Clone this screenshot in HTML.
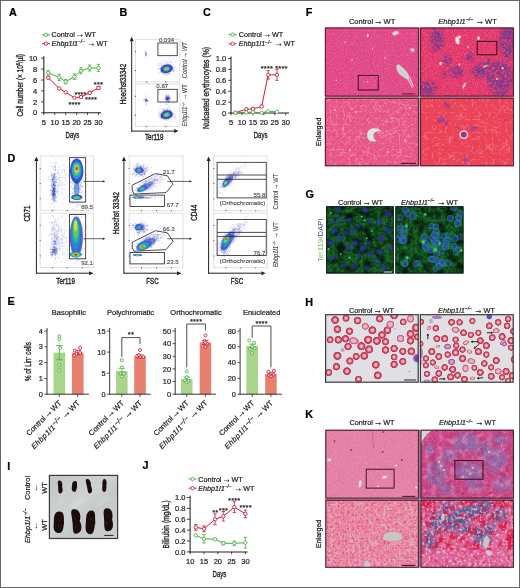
<!DOCTYPE html>
<html><head><meta charset="utf-8"><title>Figure</title>
<style>
html,body{margin:0;padding:0;background:#fff;}
svg{display:block;font-family:"Liberation Sans",sans-serif;}
</style></head><body>
<svg width="520" height="588" viewBox="0 0 520 588">
<defs>
<filter id="b3" x="-30%" y="-30%" width="160%" height="160%"><feGaussianBlur stdDeviation="0.35"/></filter>
<filter id="b6" x="-30%" y="-30%" width="160%" height="160%"><feGaussianBlur stdDeviation="0.7"/></filter>
<linearGradient id="ibg" x1="0" y1="0" x2="1" y2="1"><stop offset="0" stop-color="#c2c5c5"/><stop offset="0.45" stop-color="#cfd2d2"/><stop offset="0.6" stop-color="#c4c8c8"/><stop offset="1" stop-color="#cdd0d0"/></linearGradient>
<filter id="ib" x="-20%" y="-20%" width="140%" height="140%"><feGaussianBlur stdDeviation="0.45"/></filter>
<filter id="rough" x="-10%" y="-10%" width="120%" height="120%"><feTurbulence type="fractalNoise" baseFrequency="0.3" numOctaves="2" seed="2" result="n"/><feDisplacementMap in="SourceGraphic" in2="n" scale="6" xChannelSelector="R" yChannelSelector="G"/><feGaussianBlur stdDeviation="0.7"/></filter>
<filter id="fblur" x="-5%" y="-5%" width="110%" height="110%"><feGaussianBlur stdDeviation="0.4"/></filter>
<filter id="gblur" x="-5%" y="-5%" width="110%" height="110%"><feGaussianBlur stdDeviation="0.55"/></filter>
<filter id="ib2" x="-30%" y="-30%" width="160%" height="160%"><feGaussianBlur stdDeviation="1.6"/></filter>
<filter id="tA" x="0" y="0" width="100%" height="100%" color-interpolation-filters="sRGB"><feTurbulence type="fractalNoise" baseFrequency="1.1" numOctaves="2" seed="3"/><feColorMatrix type="matrix" values="0 0 0 0 1.000  0 0 0 0 0.816  0 0 0 0 0.902  2.6 0 0 0 -1.25"/><feComposite in2="SourceGraphic" operator="in"/></filter>
<filter id="tB" x="0" y="0" width="100%" height="100%" color-interpolation-filters="sRGB"><feTurbulence type="fractalNoise" baseFrequency="1.1" numOctaves="2" seed="9"/><feColorMatrix type="matrix" values="0 0 0 0 0.541  0 0 0 0 0.063  0 0 0 0 0.282  2.4 0 0 0 -1.2"/><feComposite in2="SourceGraphic" operator="in"/></filter>
<filter id="tC" x="0" y="0" width="100%" height="100%" color-interpolation-filters="sRGB"><feTurbulence type="fractalNoise" baseFrequency="0.45" numOctaves="2" seed="5"/><feColorMatrix type="matrix" values="0 0 0 0 1.000  0 0 0 0 0.769  0 0 0 0 0.863  3.2 0 0 0 -1.45"/><feComposite in2="SourceGraphic" operator="in"/></filter>
<filter id="tD" x="0" y="0" width="100%" height="100%" color-interpolation-filters="sRGB"><feTurbulence type="fractalNoise" baseFrequency="0.55" numOctaves="2" seed="21"/><feColorMatrix type="matrix" values="0 0 0 0 0.690  0 0 0 0 0.094  0 0 0 0 0.314  3.0 0 0 0 -1.5"/><feComposite in2="SourceGraphic" operator="in"/></filter>
<clipPath id="cF1"><rect x="324.90" y="27.60" width="93.90" height="68.90"/></clipPath>
<clipPath id="cF2"><rect x="420.20" y="27.60" width="93.60" height="68.90"/></clipPath>
<filter id="fP" x="-15%" y="-15%" width="130%" height="130%" color-interpolation-filters="sRGB"><feTurbulence type="fractalNoise" baseFrequency="0.4" numOctaves="2" seed="7"/><feColorMatrix type="matrix" values="0 0 0 0 0.416  0 0 0 0 0.235  0 0 0 0 0.573  3.6 0 0 0 -1.2" result="n1"/><feGaussianBlur in="SourceGraphic" stdDeviation="1.8" result="m"/><feComposite in="n1" in2="m" operator="in"/></filter>
<clipPath id="cF3"><rect x="324.90" y="97.80" width="93.90" height="68.40"/></clipPath>
<filter id="tV" x="0" y="0" width="100%" height="100%" color-interpolation-filters="sRGB"><feTurbulence type="turbulence" baseFrequency="0.16" numOctaves="2" seed="5"/><feColorMatrix type="matrix" values="0 0 0 0 0.976  0 0 0 0 0.722  0 0 0 0 0.816  -7 0 0 0 1.25"/><feComposite in2="SourceGraphic" operator="in"/></filter>
<clipPath id="cF4"><rect x="420.20" y="97.80" width="93.60" height="68.40"/></clipPath>
<filter id="tE" x="0" y="0" width="100%" height="100%" color-interpolation-filters="sRGB"><feTurbulence type="fractalNoise" baseFrequency="0.4" numOctaves="2" seed="8"/><feColorMatrix type="matrix" values="0 0 0 0 1.000  0 0 0 0 0.604  0 0 0 0 0.706  3.4 0 0 0 -1.55"/><feComposite in2="SourceGraphic" operator="in"/></filter>
<filter id="tW" x="0" y="0" width="100%" height="100%" color-interpolation-filters="sRGB"><feTurbulence type="turbulence" baseFrequency="0.15" numOctaves="2" seed="15"/><feColorMatrix type="matrix" values="0 0 0 0 0.973  0 0 0 0 0.643  0 0 0 0 0.682  -7 0 0 0 1.2"/><feComposite in2="SourceGraphic" operator="in"/></filter>
<filter id="gA" x="0" y="0" width="100%" height="100%" color-interpolation-filters="sRGB"><feTurbulence type="fractalNoise" baseFrequency="0.11" numOctaves="2" seed="4"/><feColorMatrix type="matrix" values="0 0 0 0 0.016  0 0 0 0 0.078  0 0 0 0 0.039  3.4 0 0 0 -1.45"/><feComposite in2="SourceGraphic" operator="in"/></filter>
<filter id="gB" x="0" y="0" width="100%" height="100%" color-interpolation-filters="sRGB"><feTurbulence type="fractalNoise" baseFrequency="0.3" numOctaves="2" seed="14"/><feColorMatrix type="matrix" values="0 0 0 0 0.173  0 0 0 0 0.604  0 0 0 0 0.212  3.0 0 0 0 -1.3"/><feComposite in2="SourceGraphic" operator="in"/></filter>
<filter id="gC" x="0" y="0" width="100%" height="100%" color-interpolation-filters="sRGB"><feTurbulence type="fractalNoise" baseFrequency="0.9" numOctaves="1" seed="2"/><feColorMatrix type="matrix" values="0 0 0 0 0.039  0 0 0 0 0.227  0 0 0 0 0.094  2.0 0 0 0 -0.8"/><feComposite in2="SourceGraphic" operator="in"/></filter>
<radialGradient id="nuc"><stop offset="0" stop-color="#3030c0"/><stop offset="0.5" stop-color="#2a32a8"/><stop offset="1" stop-color="#1c4070" stop-opacity="0"/></radialGradient>
<radialGradient id="nuc2"><stop offset="0" stop-color="#2a3cb0"/><stop offset="0.5" stop-color="#2a4cb0"/><stop offset="0.78" stop-color="#2a8898"/><stop offset="1" stop-color="#2a9080" stop-opacity="0"/></radialGradient>
<radialGradient id="gsp"><stop offset="0" stop-color="#6af08a"/><stop offset="1" stop-color="#3ac060" stop-opacity="0"/></radialGradient>
<clipPath id="cG1"><rect x="326.20" y="206.30" width="67.50" height="67.20"/></clipPath>
<filter id="gV" x="0" y="0" width="100%" height="100%" color-interpolation-filters="sRGB"><feTurbulence type="turbulence" baseFrequency="0.22" numOctaves="2" seed="19"/><feColorMatrix type="matrix" values="0 0 0 0 0.016  0 0 0 0 0.102  0 0 0 0 0.047  -5 0 0 0 1.15"/><feComposite in2="SourceGraphic" operator="in"/></filter>
<clipPath id="cG2"><rect x="395.40" y="206.30" width="68.10" height="67.20"/></clipPath>
<radialGradient id="rbc"><stop offset="0" stop-color="#f4ccd2"/><stop offset="0.3" stop-color="#efb0bc"/><stop offset="0.48" stop-color="#d86a80"/><stop offset="0.62" stop-color="#c6445c"/><stop offset="0.85" stop-color="#be3a52"/><stop offset="0.95" stop-color="#d88a9a"/><stop offset="1" stop-color="#e8c4cc" stop-opacity="0"/></radialGradient>
<radialGradient id="rbcp"><stop offset="0" stop-color="#efc4d0"/><stop offset="0.5" stop-color="#e9a8bc"/><stop offset="0.75" stop-color="#d05c7c"/><stop offset="0.9" stop-color="#d6708c"/><stop offset="1" stop-color="#e6b4c4" stop-opacity="0"/></radialGradient>
<radialGradient id="rbcv"><stop offset="0" stop-color="#7a3a98"/><stop offset="0.6" stop-color="#8a48a8"/><stop offset="1" stop-color="#a070c0" stop-opacity="0.2"/></radialGradient>
<clipPath id="cH1"><rect x="325.00" y="314.10" width="93.80" height="68.70"/></clipPath>
<clipPath id="cH2"><rect x="419.80" y="314.10" width="94.00" height="68.70"/></clipPath>
<filter id="kA" x="0" y="0" width="100%" height="100%" color-interpolation-filters="sRGB"><feTurbulence type="fractalNoise" baseFrequency="1.1" numOctaves="2" seed="6"/><feColorMatrix type="matrix" values="0 0 0 0 1.000  0 0 0 0 0.878  0 0 0 0 0.925  2.4 0 0 0 -1.2"/><feComposite in2="SourceGraphic" operator="in"/></filter>
<filter id="kB" x="0" y="0" width="100%" height="100%" color-interpolation-filters="sRGB"><feTurbulence type="fractalNoise" baseFrequency="1.1" numOctaves="2" seed="12"/><feColorMatrix type="matrix" values="0 0 0 0 0.753  0 0 0 0 0.188  0 0 0 0 0.439  2.4 0 0 0 -1.25"/><feComposite in2="SourceGraphic" operator="in"/></filter>
<clipPath id="cK1"><rect x="325.40" y="429.80" width="93.40" height="68.70"/></clipPath>
<clipPath id="cK2"><rect x="420.60" y="429.80" width="93.20" height="68.70"/></clipPath>
<filter id="kC" x="-15%" y="-15%" width="130%" height="130%" color-interpolation-filters="sRGB"><feTurbulence type="fractalNoise" baseFrequency="0.4" numOctaves="2" seed="5"/><feColorMatrix type="matrix" values="0 0 0 0 0.455  0 0 0 0 0.447  0 0 0 0 0.682  3.4 0 0 0 -0.95" result="n1"/><feGaussianBlur in="SourceGraphic" stdDeviation="2.6" result="m"/><feComposite in="n1" in2="m" operator="in"/></filter>
<filter id="kD" x="0" y="0" width="100%" height="100%" color-interpolation-filters="sRGB"><feTurbulence type="fractalNoise" baseFrequency="0.8" numOctaves="2" seed="8"/><feColorMatrix type="matrix" values="0 0 0 0 0.957  0 0 0 0 0.690  0 0 0 0 0.816  2.6 0 0 0 -1.3"/><feComposite in2="SourceGraphic" operator="in"/></filter>
<filter id="kE" x="0" y="0" width="100%" height="100%" color-interpolation-filters="sRGB"><feTurbulence type="fractalNoise" baseFrequency="0.9" numOctaves="2" seed="17"/><feColorMatrix type="matrix" values="0 0 0 0 0.690  0 0 0 0 0.157  0 0 0 0 0.408  2.6 0 0 0 -1.35"/><feComposite in2="SourceGraphic" operator="in"/></filter>
<filter id="kK" x="0" y="0" width="100%" height="100%" color-interpolation-filters="sRGB"><feTurbulence type="fractalNoise" baseFrequency="0.13" numOctaves="2" seed="33"/><feColorMatrix type="matrix" values="0 0 0 0 0.690  0 0 0 0 0.173  0 0 0 0 0.424  3.2 0 0 0 -1.45"/><feComposite in2="SourceGraphic" operator="in"/></filter>
<filter id="kL" x="0" y="0" width="100%" height="100%" color-interpolation-filters="sRGB"><feTurbulence type="fractalNoise" baseFrequency="0.16" numOctaves="2" seed="44"/><feColorMatrix type="matrix" values="0 0 0 0 0.925  0 0 0 0 0.549  0 0 0 0 0.714  3.2 0 0 0 -1.5"/><feComposite in2="SourceGraphic" operator="in"/></filter>
<clipPath id="cK3"><rect x="325.40" y="499.80" width="93.40" height="67.90"/></clipPath>
<filter id="kF" x="0" y="0" width="100%" height="100%" color-interpolation-filters="sRGB"><feTurbulence type="turbulence" baseFrequency="0.2" numOctaves="2" seed="31"/><feColorMatrix type="matrix" values="0 0 0 0 0.863  0 0 0 0 0.722  0 0 0 0 0.761  -6 0 0 0 1.35"/><feComposite in2="SourceGraphic" operator="in"/></filter>
<filter id="kG" x="0" y="0" width="100%" height="100%" color-interpolation-filters="sRGB"><feTurbulence type="fractalNoise" baseFrequency="0.42" numOctaves="2" seed="41"/><feColorMatrix type="matrix" values="0 0 0 0 0.839  0 0 0 0 0.235  0 0 0 0 0.408  3.4 0 0 0 -1.75"/><feComposite in2="SourceGraphic" operator="in"/></filter>
<clipPath id="cK4"><rect x="420.60" y="499.80" width="93.20" height="67.90"/></clipPath>
<filter id="kH" x="-15%" y="-15%" width="130%" height="130%" color-interpolation-filters="sRGB"><feTurbulence type="fractalNoise" baseFrequency="0.3" numOctaves="2" seed="9"/><feColorMatrix type="matrix" values="0 0 0 0 0.204  0 0 0 0 0.400  0 0 0 0 0.620  4.2 0 0 0 -1.5" result="n1"/><feGaussianBlur in="SourceGraphic" stdDeviation="2.5" result="m"/><feComposite in="n1" in2="m" operator="in"/></filter>
<filter id="kI" x="0" y="0" width="100%" height="100%" color-interpolation-filters="sRGB"><feTurbulence type="fractalNoise" baseFrequency="0.14" numOctaves="2" seed="3"/><feColorMatrix type="matrix" values="0 0 0 0 0.863  0 0 0 0 0.118  0 0 0 0 0.282  5.0 0 0 0 -2.2"/><feComposite in2="SourceGraphic" operator="in"/></filter>
<filter id="kI2" x="0" y="0" width="100%" height="100%" color-interpolation-filters="sRGB"><feTurbulence type="fractalNoise" baseFrequency="0.2" numOctaves="2" seed="23"/><feColorMatrix type="matrix" values="0 0 0 0 0.847  0 0 0 0 0.220  0 0 0 0 0.408  4.0 0 0 0 -1.9"/><feComposite in2="SourceGraphic" operator="in"/></filter>
<filter id="kJ" x="0" y="0" width="100%" height="100%" color-interpolation-filters="sRGB"><feTurbulence type="fractalNoise" baseFrequency="0.35" numOctaves="2" seed="13"/><feColorMatrix type="matrix" values="0 0 0 0 0.965  0 0 0 0 0.831  0 0 0 0 0.894  3.4 0 0 0 -1.7"/><feComposite in2="SourceGraphic" operator="in"/></filter>
</defs>
<rect x="0" y="0" width="520" height="588" fill="#fff"/>
<text transform="translate(9.00,15.80)" font-size="10.8" text-anchor="start" fill="#000" font-weight="bold" stroke="#000" stroke-width="0.22" >A</text>
<line x1="42.00" y1="34.80" x2="50.00" y2="34.80" stroke="#45ae3c" stroke-width="1.0" />
<circle cx="46.00" cy="34.80" r="1.70" fill="#fff" stroke="#45ae3c" stroke-width="0.85" />
<line x1="42.00" y1="43.70" x2="50.00" y2="43.70" stroke="#cc1a36" stroke-width="1.0" />
<circle cx="46.00" cy="43.70" r="1.70" fill="#fff" stroke="#cc1a36" stroke-width="0.85" />
<text transform="translate(51.60,37.30)" font-size="7.2" text-anchor="start" fill="#231f20" stroke="#231f20" stroke-width="0.22" >Control<tspan font-size="8.64" dx="0.72">→</tspan><tspan dx="0.72">WT</tspan></text>
<text transform="translate(51.60,46.20)" font-size="7.2" text-anchor="start" fill="#231f20" stroke="#231f20" stroke-width="0.22" ><tspan font-style="italic">Ehbp1l1</tspan><tspan font-style="italic" font-size="4.75" dy="-2.74">−/−</tspan><tspan font-size="8.64" dy="2.74" dx="2.16">→</tspan><tspan dx="0.86">WT</tspan></text>
<line x1="43.85" y1="56.20" x2="43.85" y2="113.27" stroke="#231f20" stroke-width="1.05" />
<line x1="43.35" y1="112.77" x2="101.10" y2="112.77" stroke="#231f20" stroke-width="1.05" />
<line x1="41.05" y1="112.77" x2="43.85" y2="112.77" stroke="#231f20" stroke-width="0.85" />
<text transform="translate(37.25,115.47)" font-size="7.5" text-anchor="end" fill="#231f20" stroke="#231f20" stroke-width="0.22" >0</text>
<line x1="41.05" y1="101.85" x2="43.85" y2="101.85" stroke="#231f20" stroke-width="0.85" />
<text transform="translate(37.25,104.55)" font-size="7.5" text-anchor="end" fill="#231f20" stroke="#231f20" stroke-width="0.22" >2</text>
<line x1="41.05" y1="90.92" x2="43.85" y2="90.92" stroke="#231f20" stroke-width="0.85" />
<text transform="translate(37.25,93.62)" font-size="7.5" text-anchor="end" fill="#231f20" stroke="#231f20" stroke-width="0.22" >4</text>
<line x1="41.05" y1="80.00" x2="43.85" y2="80.00" stroke="#231f20" stroke-width="0.85" />
<text transform="translate(37.25,82.70)" font-size="7.5" text-anchor="end" fill="#231f20" stroke="#231f20" stroke-width="0.22" >6</text>
<line x1="41.05" y1="69.07" x2="43.85" y2="69.07" stroke="#231f20" stroke-width="0.85" />
<text transform="translate(37.25,71.77)" font-size="7.5" text-anchor="end" fill="#231f20" stroke="#231f20" stroke-width="0.22" >8</text>
<line x1="41.05" y1="58.15" x2="43.85" y2="58.15" stroke="#231f20" stroke-width="0.85" />
<text transform="translate(37.25,60.85)" font-size="7.5" text-anchor="end" fill="#231f20" stroke="#231f20" stroke-width="0.22" >10</text>
<line x1="43.85" y1="112.77" x2="43.85" y2="115.07" stroke="#231f20" stroke-width="0.8" />
<text transform="translate(43.85,125.07)" font-size="7.5" text-anchor="middle" fill="#231f20" stroke="#231f20" stroke-width="0.22" >5</text>
<line x1="54.78" y1="112.77" x2="54.78" y2="115.07" stroke="#231f20" stroke-width="0.8" />
<text transform="translate(54.78,125.07)" font-size="7.5" text-anchor="middle" fill="#231f20" stroke="#231f20" stroke-width="0.22" >10</text>
<line x1="65.70" y1="112.77" x2="65.70" y2="115.07" stroke="#231f20" stroke-width="0.8" />
<text transform="translate(65.70,125.07)" font-size="7.5" text-anchor="middle" fill="#231f20" stroke="#231f20" stroke-width="0.22" >15</text>
<line x1="76.62" y1="112.77" x2="76.62" y2="115.07" stroke="#231f20" stroke-width="0.8" />
<text transform="translate(76.62,125.07)" font-size="7.5" text-anchor="middle" fill="#231f20" stroke="#231f20" stroke-width="0.22" >20</text>
<line x1="87.55" y1="112.77" x2="87.55" y2="115.07" stroke="#231f20" stroke-width="0.8" />
<text transform="translate(87.55,125.07)" font-size="7.5" text-anchor="middle" fill="#231f20" stroke="#231f20" stroke-width="0.22" >25</text>
<line x1="98.47" y1="112.77" x2="98.47" y2="115.07" stroke="#231f20" stroke-width="0.8" />
<text transform="translate(98.47,125.07)" font-size="7.5" text-anchor="middle" fill="#231f20" stroke="#231f20" stroke-width="0.22" >30</text>
<text transform="translate(22.70,85.30) rotate(-90) scale(0.7,1)" font-size="9.2" text-anchor="middle" fill="#231f20" stroke="#231f20" stroke-width="0.35" >Cell number (× 10<tspan font-size="5.4" dy="-3">6</tspan><tspan dy="3">/µl)</tspan></text>
<text transform="translate(72.40,138.00) scale(0.66,1)" font-size="9.2" text-anchor="middle" fill="#231f20" stroke="#231f20" stroke-width="0.35" >Days</text>
<line x1="48.22" y1="70.70" x2="48.22" y2="75.10" stroke="#45ae3c" stroke-width="0.8" />
<line x1="46.52" y1="70.70" x2="49.92" y2="70.70" stroke="#45ae3c" stroke-width="0.8" />
<line x1="46.52" y1="75.10" x2="49.92" y2="75.10" stroke="#45ae3c" stroke-width="0.8" />
<line x1="59.15" y1="74.07" x2="59.15" y2="80.47" stroke="#45ae3c" stroke-width="0.8" />
<line x1="57.45" y1="74.07" x2="60.85" y2="74.07" stroke="#45ae3c" stroke-width="0.8" />
<line x1="57.45" y1="80.47" x2="60.85" y2="80.47" stroke="#45ae3c" stroke-width="0.8" />
<line x1="65.70" y1="79.44" x2="65.70" y2="83.84" stroke="#45ae3c" stroke-width="0.8" />
<line x1="64.00" y1="79.44" x2="67.40" y2="79.44" stroke="#45ae3c" stroke-width="0.8" />
<line x1="64.00" y1="83.84" x2="67.40" y2="83.84" stroke="#45ae3c" stroke-width="0.8" />
<line x1="74.44" y1="73.92" x2="74.44" y2="79.52" stroke="#45ae3c" stroke-width="0.8" />
<line x1="72.74" y1="73.92" x2="76.14" y2="73.92" stroke="#45ae3c" stroke-width="0.8" />
<line x1="72.74" y1="79.52" x2="76.14" y2="79.52" stroke="#45ae3c" stroke-width="0.8" />
<line x1="81.00" y1="67.71" x2="81.00" y2="73.71" stroke="#45ae3c" stroke-width="0.8" />
<line x1="79.30" y1="67.71" x2="82.70" y2="67.71" stroke="#45ae3c" stroke-width="0.8" />
<line x1="79.30" y1="73.71" x2="82.70" y2="73.71" stroke="#45ae3c" stroke-width="0.8" />
<line x1="89.73" y1="64.98" x2="89.73" y2="70.98" stroke="#45ae3c" stroke-width="0.8" />
<line x1="88.03" y1="64.98" x2="91.44" y2="64.98" stroke="#45ae3c" stroke-width="0.8" />
<line x1="88.03" y1="70.98" x2="91.44" y2="70.98" stroke="#45ae3c" stroke-width="0.8" />
<line x1="98.47" y1="64.38" x2="98.47" y2="71.58" stroke="#45ae3c" stroke-width="0.8" />
<line x1="96.77" y1="64.38" x2="100.17" y2="64.38" stroke="#45ae3c" stroke-width="0.8" />
<line x1="96.77" y1="71.58" x2="100.17" y2="71.58" stroke="#45ae3c" stroke-width="0.8" />
<path d="M48.22,72.90 L59.15,77.27 L65.70,81.64 L74.44,76.72 L81.00,70.71 L89.73,67.98 L98.47,67.98" fill="none" stroke="#45ae3c" stroke-width="1.0" />
<circle cx="48.22" cy="72.90" r="1.70" fill="#fff" stroke="#45ae3c" stroke-width="0.85" />
<circle cx="59.15" cy="77.27" r="1.70" fill="#fff" stroke="#45ae3c" stroke-width="0.85" />
<circle cx="65.70" cy="81.64" r="1.70" fill="#fff" stroke="#45ae3c" stroke-width="0.85" />
<circle cx="74.44" cy="76.72" r="1.70" fill="#fff" stroke="#45ae3c" stroke-width="0.85" />
<circle cx="81.00" cy="70.71" r="1.70" fill="#fff" stroke="#45ae3c" stroke-width="0.85" />
<circle cx="89.73" cy="67.98" r="1.70" fill="#fff" stroke="#45ae3c" stroke-width="0.85" />
<circle cx="98.47" cy="67.98" r="1.70" fill="#fff" stroke="#45ae3c" stroke-width="0.85" />
<line x1="48.22" y1="77.01" x2="48.22" y2="78.61" stroke="#cc1a36" stroke-width="0.8" />
<line x1="46.52" y1="77.01" x2="49.92" y2="77.01" stroke="#cc1a36" stroke-width="0.8" />
<line x1="46.52" y1="78.61" x2="49.92" y2="78.61" stroke="#cc1a36" stroke-width="0.8" />
<line x1="81.00" y1="95.93" x2="81.00" y2="97.93" stroke="#cc1a36" stroke-width="0.8" />
<line x1="79.30" y1="95.93" x2="82.70" y2="95.93" stroke="#cc1a36" stroke-width="0.8" />
<line x1="79.30" y1="97.93" x2="82.70" y2="97.93" stroke="#cc1a36" stroke-width="0.8" />
<path d="M48.22,77.81 L59.15,88.46 L65.70,92.29 L74.44,97.75 L81.00,96.93 L89.73,92.83" fill="none" stroke="#cc1a36" stroke-width="1.0" />
<circle cx="48.22" cy="77.81" r="1.70" fill="#fff" stroke="#cc1a36" stroke-width="0.85" />
<circle cx="59.15" cy="88.46" r="1.70" fill="#fff" stroke="#cc1a36" stroke-width="0.85" />
<circle cx="65.70" cy="92.29" r="1.70" fill="#fff" stroke="#cc1a36" stroke-width="0.85" />
<circle cx="74.44" cy="97.75" r="1.70" fill="#fff" stroke="#cc1a36" stroke-width="0.85" />
<circle cx="81.00" cy="96.93" r="1.70" fill="#fff" stroke="#cc1a36" stroke-width="0.85" />
<circle cx="89.73" cy="92.83" r="1.70" fill="#fff" stroke="#cc1a36" stroke-width="0.85" />
<path d="M89.73,92.83 L98.47,87.92" fill="none" stroke="#cc1a36" stroke-width="1.0" />
<circle cx="89.73" cy="92.83" r="1.70" fill="#fff" stroke="#cc1a36" stroke-width="0.85" />
<rect x="96.88" y="86.32" width="3.20" height="3.20" fill="#fff" stroke="#cc1a36" stroke-width="0.85" />
<text transform="translate(74.50,106.50)" font-size="7.6" text-anchor="middle" fill="#231f20" stroke="#231f20" stroke-width="0.22" letter-spacing="0.1">****</text>
<text transform="translate(80.50,96.50)" font-size="7.6" text-anchor="middle" fill="#231f20" stroke="#231f20" stroke-width="0.22" letter-spacing="0.1">****</text>
<text transform="translate(91.00,101.50)" font-size="7.6" text-anchor="middle" fill="#231f20" stroke="#231f20" stroke-width="0.22" letter-spacing="0.1">****</text>
<text transform="translate(98.40,86.50)" font-size="7.6" text-anchor="middle" fill="#231f20" stroke="#231f20" stroke-width="0.22" letter-spacing="0.1">***</text>
<text transform="translate(203.00,15.80)" font-size="10.8" text-anchor="start" fill="#000" font-weight="bold" stroke="#000" stroke-width="0.22" >C</text>
<line x1="228.60" y1="34.60" x2="236.60" y2="34.60" stroke="#45ae3c" stroke-width="1.0" />
<circle cx="232.60" cy="34.60" r="1.70" fill="#fff" stroke="#45ae3c" stroke-width="0.85" />
<line x1="228.60" y1="43.80" x2="236.60" y2="43.80" stroke="#cc1a36" stroke-width="1.0" />
<circle cx="232.60" cy="43.80" r="1.70" fill="#fff" stroke="#cc1a36" stroke-width="0.85" />
<text transform="translate(238.80,37.10)" font-size="7.2" text-anchor="start" fill="#231f20" stroke="#231f20" stroke-width="0.22" >Control<tspan font-size="8.64" dx="0.72">→</tspan><tspan dx="0.72">WT</tspan></text>
<text transform="translate(238.80,46.30)" font-size="7.2" text-anchor="start" fill="#231f20" stroke="#231f20" stroke-width="0.22" ><tspan font-style="italic">Ehbp1l1</tspan><tspan font-style="italic" font-size="4.75" dy="-2.74">−/−</tspan><tspan font-size="8.64" dy="2.74" dx="2.16">→</tspan><tspan dx="0.86">WT</tspan></text>
<line x1="231.00" y1="56.60" x2="231.00" y2="113.50" stroke="#231f20" stroke-width="1.05" />
<line x1="230.50" y1="113.00" x2="289.00" y2="113.00" stroke="#231f20" stroke-width="1.05" />
<line x1="228.20" y1="113.00" x2="231.00" y2="113.00" stroke="#231f20" stroke-width="0.85" />
<text transform="translate(226.20,115.70)" font-size="7.5" text-anchor="end" fill="#231f20" stroke="#231f20" stroke-width="0.22" >0</text>
<line x1="228.20" y1="102.10" x2="231.00" y2="102.10" stroke="#231f20" stroke-width="0.85" />
<text transform="translate(226.20,104.80)" font-size="7.5" text-anchor="end" fill="#231f20" stroke="#231f20" stroke-width="0.22" >0.2</text>
<line x1="228.20" y1="91.20" x2="231.00" y2="91.20" stroke="#231f20" stroke-width="0.85" />
<text transform="translate(226.20,93.90)" font-size="7.5" text-anchor="end" fill="#231f20" stroke="#231f20" stroke-width="0.22" >0.4</text>
<line x1="228.20" y1="80.30" x2="231.00" y2="80.30" stroke="#231f20" stroke-width="0.85" />
<text transform="translate(226.20,83.00)" font-size="7.5" text-anchor="end" fill="#231f20" stroke="#231f20" stroke-width="0.22" >0.6</text>
<line x1="228.20" y1="69.40" x2="231.00" y2="69.40" stroke="#231f20" stroke-width="0.85" />
<text transform="translate(226.20,72.10)" font-size="7.5" text-anchor="end" fill="#231f20" stroke="#231f20" stroke-width="0.22" >0.8</text>
<line x1="228.20" y1="58.50" x2="231.00" y2="58.50" stroke="#231f20" stroke-width="0.85" />
<text transform="translate(226.20,61.20)" font-size="7.5" text-anchor="end" fill="#231f20" stroke="#231f20" stroke-width="0.22" >1.0</text>
<line x1="231.00" y1="113.00" x2="231.00" y2="115.30" stroke="#231f20" stroke-width="0.8" />
<text transform="translate(231.00,125.30)" font-size="7.5" text-anchor="middle" fill="#231f20" stroke="#231f20" stroke-width="0.22" >5</text>
<line x1="241.94" y1="113.00" x2="241.94" y2="115.30" stroke="#231f20" stroke-width="0.8" />
<text transform="translate(241.94,125.30)" font-size="7.5" text-anchor="middle" fill="#231f20" stroke="#231f20" stroke-width="0.22" >10</text>
<line x1="252.88" y1="113.00" x2="252.88" y2="115.30" stroke="#231f20" stroke-width="0.8" />
<text transform="translate(252.88,125.30)" font-size="7.5" text-anchor="middle" fill="#231f20" stroke="#231f20" stroke-width="0.22" >15</text>
<line x1="263.82" y1="113.00" x2="263.82" y2="115.30" stroke="#231f20" stroke-width="0.8" />
<text transform="translate(263.82,125.30)" font-size="7.5" text-anchor="middle" fill="#231f20" stroke="#231f20" stroke-width="0.22" >20</text>
<line x1="274.76" y1="113.00" x2="274.76" y2="115.30" stroke="#231f20" stroke-width="0.8" />
<text transform="translate(274.76,125.30)" font-size="7.5" text-anchor="middle" fill="#231f20" stroke="#231f20" stroke-width="0.22" >25</text>
<line x1="285.70" y1="113.00" x2="285.70" y2="115.30" stroke="#231f20" stroke-width="0.8" />
<text transform="translate(285.70,125.30)" font-size="7.5" text-anchor="middle" fill="#231f20" stroke="#231f20" stroke-width="0.22" >30</text>
<text transform="translate(209.30,88.00) rotate(-90) scale(0.74,1)" font-size="9.2" text-anchor="middle" fill="#231f20" stroke="#231f20" stroke-width="0.35" >Nulcaeted erythrocytes (%)</text>
<text transform="translate(260.60,138.00) scale(0.66,1)" font-size="9.2" text-anchor="middle" fill="#231f20" stroke="#231f20" stroke-width="0.35" >Days</text>
<line x1="246.32" y1="108.19" x2="246.32" y2="110.19" stroke="#cc1a36" stroke-width="0.8" />
<line x1="244.62" y1="108.19" x2="248.02" y2="108.19" stroke="#cc1a36" stroke-width="0.8" />
<line x1="244.62" y1="110.19" x2="248.02" y2="110.19" stroke="#cc1a36" stroke-width="0.8" />
<line x1="252.88" y1="107.91" x2="252.88" y2="109.91" stroke="#cc1a36" stroke-width="0.8" />
<line x1="251.18" y1="107.91" x2="254.58" y2="107.91" stroke="#cc1a36" stroke-width="0.8" />
<line x1="251.18" y1="109.91" x2="254.58" y2="109.91" stroke="#cc1a36" stroke-width="0.8" />
<line x1="261.63" y1="105.26" x2="261.63" y2="107.66" stroke="#cc1a36" stroke-width="0.8" />
<line x1="259.93" y1="105.26" x2="263.33" y2="105.26" stroke="#cc1a36" stroke-width="0.8" />
<line x1="259.93" y1="107.66" x2="263.33" y2="107.66" stroke="#cc1a36" stroke-width="0.8" />
<line x1="268.20" y1="70.65" x2="268.20" y2="79.05" stroke="#cc1a36" stroke-width="0.8" />
<line x1="266.50" y1="70.65" x2="269.90" y2="70.65" stroke="#cc1a36" stroke-width="0.8" />
<line x1="266.50" y1="79.05" x2="269.90" y2="79.05" stroke="#cc1a36" stroke-width="0.8" />
<line x1="276.95" y1="69.35" x2="276.95" y2="80.35" stroke="#cc1a36" stroke-width="0.8" />
<line x1="275.25" y1="69.35" x2="278.65" y2="69.35" stroke="#cc1a36" stroke-width="0.8" />
<line x1="275.25" y1="80.35" x2="278.65" y2="80.35" stroke="#cc1a36" stroke-width="0.8" />
<path d="M235.38,112.73 L246.32,109.19 L252.88,108.91 L261.63,106.46 L268.20,74.85 L276.95,74.85" fill="none" stroke="#cc1a36" stroke-width="1.0" />
<circle cx="235.38" cy="112.73" r="1.70" fill="#fff" stroke="#cc1a36" stroke-width="0.85" />
<circle cx="246.32" cy="109.19" r="1.70" fill="#fff" stroke="#cc1a36" stroke-width="0.85" />
<circle cx="252.88" cy="108.91" r="1.70" fill="#fff" stroke="#cc1a36" stroke-width="0.85" />
<circle cx="261.63" cy="106.46" r="1.70" fill="#fff" stroke="#cc1a36" stroke-width="0.85" />
<circle cx="268.20" cy="74.85" r="1.70" fill="#fff" stroke="#cc1a36" stroke-width="0.85" />
<circle cx="276.95" cy="74.85" r="1.70" fill="#fff" stroke="#cc1a36" stroke-width="0.85" />
<path d="M235.38,112.73 L246.32,112.45 L252.88,112.18 L261.63,112.73 L268.20,111.36 L276.95,111.91" fill="none" stroke="#45ae3c" stroke-width="1.0" />
<circle cx="235.38" cy="112.73" r="1.70" fill="#fff" stroke="#45ae3c" stroke-width="0.85" />
<circle cx="246.32" cy="112.45" r="1.70" fill="#fff" stroke="#45ae3c" stroke-width="0.85" />
<circle cx="252.88" cy="112.18" r="1.70" fill="#fff" stroke="#45ae3c" stroke-width="0.85" />
<circle cx="261.63" cy="112.73" r="1.70" fill="#fff" stroke="#45ae3c" stroke-width="0.85" />
<circle cx="268.20" cy="111.36" r="1.70" fill="#fff" stroke="#45ae3c" stroke-width="0.85" />
<circle cx="276.95" cy="111.91" r="1.70" fill="#fff" stroke="#45ae3c" stroke-width="0.85" />
<text transform="translate(266.90,71.00)" font-size="7.6" text-anchor="middle" fill="#231f20" stroke="#231f20" stroke-width="0.22" letter-spacing="0.1">****</text>
<text transform="translate(281.40,70.60)" font-size="7.6" text-anchor="middle" fill="#231f20" stroke="#231f20" stroke-width="0.22" letter-spacing="0.1">****</text>
<text transform="translate(142.60,469.30)" font-size="10.8" text-anchor="start" fill="#000" font-weight="bold" stroke="#000" stroke-width="0.22" >J</text>
<line x1="188.60" y1="479.00" x2="196.60" y2="479.00" stroke="#45ae3c" stroke-width="1.0" />
<circle cx="192.60" cy="479.00" r="1.70" fill="#fff" stroke="#45ae3c" stroke-width="0.85" />
<line x1="188.60" y1="488.20" x2="196.60" y2="488.20" stroke="#cc1a36" stroke-width="1.0" />
<circle cx="192.60" cy="488.20" r="1.70" fill="#fff" stroke="#cc1a36" stroke-width="0.85" />
<text transform="translate(198.30,481.50)" font-size="7.2" text-anchor="start" fill="#231f20" stroke="#231f20" stroke-width="0.22" >Control<tspan font-size="8.64" dx="0.72">→</tspan><tspan dx="0.72">WT</tspan></text>
<text transform="translate(198.30,490.70)" font-size="7.2" text-anchor="start" fill="#231f20" stroke="#231f20" stroke-width="0.22" ><tspan font-style="italic">Ehbp1l1</tspan><tspan font-style="italic" font-size="4.75" dy="-2.74">−/−</tspan><tspan font-size="8.64" dy="2.74" dx="2.16">→</tspan><tspan dx="0.86">WT</tspan></text>
<line x1="190.10" y1="495.50" x2="190.10" y2="552.40" stroke="#231f20" stroke-width="1.05" />
<line x1="189.60" y1="551.90" x2="247.50" y2="551.90" stroke="#231f20" stroke-width="1.05" />
<line x1="186.90" y1="551.90" x2="190.10" y2="551.90" stroke="#231f20" stroke-width="0.85" />
<text transform="translate(185.50,554.60)" font-size="7.5" text-anchor="end" fill="#231f20" stroke="#231f20" stroke-width="0.22" >0.0</text>
<line x1="186.90" y1="541.02" x2="190.10" y2="541.02" stroke="#231f20" stroke-width="0.85" />
<text transform="translate(185.50,543.72)" font-size="7.5" text-anchor="end" fill="#231f20" stroke="#231f20" stroke-width="0.22" >0.2</text>
<line x1="186.90" y1="530.14" x2="190.10" y2="530.14" stroke="#231f20" stroke-width="0.85" />
<text transform="translate(185.50,532.84)" font-size="7.5" text-anchor="end" fill="#231f20" stroke="#231f20" stroke-width="0.22" >0.4</text>
<line x1="186.90" y1="519.26" x2="190.10" y2="519.26" stroke="#231f20" stroke-width="0.85" />
<text transform="translate(185.50,521.96)" font-size="7.5" text-anchor="end" fill="#231f20" stroke="#231f20" stroke-width="0.22" >0.6</text>
<line x1="186.90" y1="508.38" x2="190.10" y2="508.38" stroke="#231f20" stroke-width="0.85" />
<text transform="translate(185.50,511.08)" font-size="7.5" text-anchor="end" fill="#231f20" stroke="#231f20" stroke-width="0.22" >0.8</text>
<line x1="186.90" y1="497.50" x2="190.10" y2="497.50" stroke="#231f20" stroke-width="0.85" />
<text transform="translate(185.50,500.20)" font-size="7.5" text-anchor="end" fill="#231f20" stroke="#231f20" stroke-width="0.22" >1.0</text>
<line x1="190.20" y1="551.90" x2="190.20" y2="554.20" stroke="#231f20" stroke-width="0.8" />
<text transform="translate(190.20,564.20)" font-size="7.5" text-anchor="middle" fill="#231f20" stroke="#231f20" stroke-width="0.22" >10</text>
<line x1="204.00" y1="551.90" x2="204.00" y2="554.20" stroke="#231f20" stroke-width="0.8" />
<text transform="translate(204.00,564.20)" font-size="7.5" text-anchor="middle" fill="#231f20" stroke="#231f20" stroke-width="0.22" >15</text>
<line x1="217.80" y1="551.90" x2="217.80" y2="554.20" stroke="#231f20" stroke-width="0.8" />
<text transform="translate(217.80,564.20)" font-size="7.5" text-anchor="middle" fill="#231f20" stroke="#231f20" stroke-width="0.22" >20</text>
<line x1="231.60" y1="551.90" x2="231.60" y2="554.20" stroke="#231f20" stroke-width="0.8" />
<text transform="translate(231.60,564.20)" font-size="7.5" text-anchor="middle" fill="#231f20" stroke="#231f20" stroke-width="0.22" >25</text>
<line x1="245.40" y1="551.90" x2="245.40" y2="554.20" stroke="#231f20" stroke-width="0.8" />
<text transform="translate(245.40,564.20)" font-size="7.5" text-anchor="middle" fill="#231f20" stroke="#231f20" stroke-width="0.22" >30</text>
<text transform="translate(168.60,524.40) rotate(-90) scale(0.72,1)" font-size="9.2" text-anchor="middle" fill="#231f20" stroke="#231f20" stroke-width="0.35" >Bilirubin (mg/dL)</text>
<text transform="translate(219.40,576.50) scale(0.66,1)" font-size="9.2" text-anchor="middle" fill="#231f20" stroke="#231f20" stroke-width="0.35" >Days</text>
<line x1="204.00" y1="534.64" x2="204.00" y2="543.04" stroke="#45ae3c" stroke-width="0.8" />
<line x1="202.30" y1="534.64" x2="205.70" y2="534.64" stroke="#45ae3c" stroke-width="0.8" />
<line x1="202.30" y1="543.04" x2="205.70" y2="543.04" stroke="#45ae3c" stroke-width="0.8" />
<line x1="223.32" y1="541.80" x2="223.32" y2="544.80" stroke="#45ae3c" stroke-width="0.8" />
<line x1="221.62" y1="541.80" x2="225.02" y2="541.80" stroke="#45ae3c" stroke-width="0.8" />
<line x1="221.62" y1="544.80" x2="225.02" y2="544.80" stroke="#45ae3c" stroke-width="0.8" />
<line x1="234.36" y1="541.00" x2="234.36" y2="545.60" stroke="#45ae3c" stroke-width="0.8" />
<line x1="232.66" y1="541.00" x2="236.06" y2="541.00" stroke="#45ae3c" stroke-width="0.8" />
<line x1="232.66" y1="545.60" x2="236.06" y2="545.60" stroke="#45ae3c" stroke-width="0.8" />
<line x1="245.40" y1="537.31" x2="245.40" y2="548.11" stroke="#45ae3c" stroke-width="0.8" />
<line x1="243.70" y1="537.31" x2="247.10" y2="537.31" stroke="#45ae3c" stroke-width="0.8" />
<line x1="243.70" y1="548.11" x2="247.10" y2="548.11" stroke="#45ae3c" stroke-width="0.8" />
<path d="M195.72,535.42 L204.00,538.84 L215.04,539.22 L223.32,543.30 L234.36,543.30 L245.40,542.71" fill="none" stroke="#45ae3c" stroke-width="1.0" />
<circle cx="195.72" cy="535.42" r="1.70" fill="#fff" stroke="#45ae3c" stroke-width="0.85" />
<circle cx="204.00" cy="538.84" r="1.70" fill="#fff" stroke="#45ae3c" stroke-width="0.85" />
<circle cx="215.04" cy="539.22" r="1.70" fill="#fff" stroke="#45ae3c" stroke-width="0.85" />
<circle cx="223.32" cy="543.30" r="1.70" fill="#fff" stroke="#45ae3c" stroke-width="0.85" />
<circle cx="234.36" cy="543.30" r="1.70" fill="#fff" stroke="#45ae3c" stroke-width="0.85" />
<circle cx="245.40" cy="542.71" r="1.70" fill="#fff" stroke="#45ae3c" stroke-width="0.85" />
<line x1="195.72" y1="524.41" x2="195.72" y2="530.21" stroke="#cc1a36" stroke-width="0.8" />
<line x1="194.02" y1="524.41" x2="197.42" y2="524.41" stroke="#cc1a36" stroke-width="0.8" />
<line x1="194.02" y1="530.21" x2="197.42" y2="530.21" stroke="#cc1a36" stroke-width="0.8" />
<line x1="204.00" y1="525.93" x2="204.00" y2="531.73" stroke="#cc1a36" stroke-width="0.8" />
<line x1="202.30" y1="525.93" x2="205.70" y2="525.93" stroke="#cc1a36" stroke-width="0.8" />
<line x1="202.30" y1="531.73" x2="205.70" y2="531.73" stroke="#cc1a36" stroke-width="0.8" />
<line x1="215.04" y1="513.86" x2="215.04" y2="524.66" stroke="#cc1a36" stroke-width="0.8" />
<line x1="213.34" y1="513.86" x2="216.74" y2="513.86" stroke="#cc1a36" stroke-width="0.8" />
<line x1="213.34" y1="524.66" x2="216.74" y2="524.66" stroke="#cc1a36" stroke-width="0.8" />
<line x1="223.32" y1="511.52" x2="223.32" y2="521.12" stroke="#cc1a36" stroke-width="0.8" />
<line x1="221.62" y1="511.52" x2="225.02" y2="511.52" stroke="#cc1a36" stroke-width="0.8" />
<line x1="221.62" y1="521.12" x2="225.02" y2="521.12" stroke="#cc1a36" stroke-width="0.8" />
<line x1="234.36" y1="501.73" x2="234.36" y2="512.53" stroke="#cc1a36" stroke-width="0.8" />
<line x1="232.66" y1="501.73" x2="236.06" y2="501.73" stroke="#cc1a36" stroke-width="0.8" />
<line x1="232.66" y1="512.53" x2="236.06" y2="512.53" stroke="#cc1a36" stroke-width="0.8" />
<line x1="245.40" y1="510.02" x2="245.40" y2="517.62" stroke="#cc1a36" stroke-width="0.8" />
<line x1="243.70" y1="510.02" x2="247.10" y2="510.02" stroke="#cc1a36" stroke-width="0.8" />
<line x1="243.70" y1="517.62" x2="247.10" y2="517.62" stroke="#cc1a36" stroke-width="0.8" />
<path d="M195.72,527.31 L204.00,528.83 L215.04,519.26 L223.32,516.32 L234.36,507.13 L245.40,513.82" fill="none" stroke="#cc1a36" stroke-width="1.0" />
<circle cx="195.72" cy="527.31" r="1.70" fill="#fff" stroke="#cc1a36" stroke-width="0.85" />
<circle cx="204.00" cy="528.83" r="1.70" fill="#fff" stroke="#cc1a36" stroke-width="0.85" />
<circle cx="215.04" cy="519.26" r="1.70" fill="#fff" stroke="#cc1a36" stroke-width="0.85" />
<circle cx="223.32" cy="516.32" r="1.70" fill="#fff" stroke="#cc1a36" stroke-width="0.85" />
<circle cx="234.36" cy="507.13" r="1.70" fill="#fff" stroke="#cc1a36" stroke-width="0.85" />
<circle cx="245.40" cy="513.82" r="1.70" fill="#fff" stroke="#cc1a36" stroke-width="0.85" />
<text transform="translate(215.20,515.00)" font-size="7.6" text-anchor="middle" fill="#231f20" stroke="#231f20" stroke-width="0.22" letter-spacing="0.1">**</text>
<text transform="translate(223.40,513.20)" font-size="7.6" text-anchor="middle" fill="#231f20" stroke="#231f20" stroke-width="0.22" letter-spacing="0.1">***</text>
<text transform="translate(234.20,502.60)" font-size="7.6" text-anchor="middle" fill="#231f20" stroke="#231f20" stroke-width="0.22" letter-spacing="0.1">****</text>
<text transform="translate(245.60,510.00)" font-size="7.6" text-anchor="middle" fill="#231f20" stroke="#231f20" stroke-width="0.22" letter-spacing="0.1">****</text>
<text transform="translate(119.60,15.70)" font-size="10.8" text-anchor="start" fill="#000" font-weight="bold" stroke="#000" stroke-width="0.22" >B</text>
<line x1="131.70" y1="131.50" x2="131.70" y2="41.20" stroke="#231f20" stroke-width="1.0" />
<path d="M131.70,36.80 L133.70,41.20 L129.70,41.20 Z" fill="#231f20" stroke="none" stroke-width="0.7" />
<line x1="131.30" y1="131.10" x2="174.20" y2="131.10" stroke="#231f20" stroke-width="1.0" />
<path d="M178.60,131.10 L174.20,133.10 L174.20,129.10 Z" fill="#231f20" stroke="none" stroke-width="0.7" />
<text transform="translate(125.60,84.00) rotate(-90) scale(0.68,1)" font-size="9.2" text-anchor="middle" fill="#231f20" stroke="#231f20" stroke-width="0.4" >Hoechst33342</text>
<text transform="translate(154.20,139.60) scale(0.68,1)" font-size="9.2" text-anchor="middle" fill="#231f20" stroke="#231f20" stroke-width="0.4" >Ter119</text>
<rect x="135.40" y="39.30" width="44.50" height="42.50" fill="#fff" stroke="#8a8a8a" stroke-width="0.5" stroke-dasharray="0.6 0.5"/>
<rect x="134.80" y="51.30" width="1.20" height="0.80" fill="#333" stroke="none" stroke-width="0.7" />
<rect x="134.80" y="70.30" width="1.20" height="0.80" fill="#333" stroke="none" stroke-width="0.7" />
<rect x="146.40" y="81.40" width="0.80" height="1.20" fill="#333" stroke="none" stroke-width="0.7" />
<rect x="165.40" y="81.40" width="0.80" height="1.20" fill="#333" stroke="none" stroke-width="0.7" />
<path d="M145.9,54.4h.01M145.9,53.1h.01M145.5,53.3h.01M146.6,54.3h.01M146.5,54.0h.01M146.2,53.9h.01M145.2,55.0h.01M146.3,54.4h.01M145.2,50.8h.01M145.6,52.9h.01M146.2,53.5h.01M146.3,52.6h.01M146.2,54.2h.01M145.7,56.3h.01M146.3,55.5h.01M145.7,52.4h.01M145.8,53.4h.01M146.3,54.0h.01M145.8,52.1h.01M145.7,55.6h.01M145.6,54.0h.01M146.2,51.2h.01M146.0,55.7h.01M145.0,53.1h.01M145.9,52.3h.01M146.2,53.5h.01M145.3,54.9h.01M146.3,55.1h.01" stroke="#6a62d0" stroke-width="0.64" stroke-linecap="round" opacity="0.5" fill="none"/>
<path d="M171.2,68.5h.01M167.0,61.1h.01M168.6,64.1h.01M165.2,61.2h.01M163.5,64.5h.01M170.7,57.8h.01M161.9,68.0h.01M171.2,69.5h.01M160.5,55.6h.01M167.7,63.6h.01M163.0,71.3h.01M170.1,67.6h.01M167.4,68.9h.01M171.7,69.7h.01M168.3,69.4h.01M161.6,72.7h.01M169.7,69.3h.01M160.3,64.0h.01M169.3,58.7h.01M166.0,71.5h.01M162.4,74.1h.01M168.4,66.2h.01M167.6,69.8h.01M167.0,72.1h.01M164.5,65.0h.01M169.9,67.0h.01M163.8,71.2h.01M171.3,64.9h.01M162.2,66.3h.01M166.1,65.6h.01M171.1,62.3h.01M170.6,61.2h.01M164.1,69.7h.01M170.2,70.8h.01M167.7,67.5h.01M167.1,69.5h.01M166.0,68.1h.01M168.4,66.9h.01M169.0,69.4h.01M173.0,68.4h.01M165.2,65.2h.01M166.6,71.1h.01M165.5,68.6h.01M172.5,55.4h.01M163.0,68.0h.01M167.9,68.0h.01M165.2,69.8h.01M167.5,64.6h.01M174.4,68.5h.01M164.8,66.5h.01M165.9,66.6h.01M157.9,64.7h.01M169.8,61.6h.01M166.4,71.2h.01M169.3,73.6h.01M161.2,65.3h.01M165.5,69.7h.01M170.1,54.8h.01M170.1,60.4h.01M168.8,60.2h.01M167.2,72.3h.01M166.1,67.8h.01M169.2,67.5h.01M166.3,73.8h.01M170.0,65.6h.01M175.4,61.7h.01M169.5,65.7h.01M167.0,70.1h.01M167.3,69.8h.01M161.7,60.1h.01M168.6,62.6h.01M163.3,60.3h.01M170.7,70.3h.01M171.3,62.7h.01M166.6,61.8h.01M169.1,74.1h.01M163.8,73.9h.01M169.8,66.1h.01M160.3,73.2h.01M166.3,64.2h.01M167.9,68.7h.01M171.4,62.3h.01M170.2,73.6h.01M171.2,66.1h.01M164.2,71.5h.01M167.0,67.5h.01M171.2,65.7h.01M159.3,65.2h.01M160.7,70.6h.01M167.6,64.1h.01M166.6,70.6h.01M166.9,72.9h.01M166.4,71.6h.01M171.4,74.1h.01M164.5,70.9h.01M160.6,62.0h.01M160.3,71.7h.01M162.7,66.8h.01M166.0,66.8h.01M164.7,68.0h.01M172.3,67.1h.01M168.3,71.4h.01M166.0,61.2h.01M164.8,71.7h.01M161.3,64.2h.01M169.8,70.5h.01M166.6,70.5h.01M167.1,61.6h.01M161.6,64.0h.01M169.6,64.4h.01M163.7,63.4h.01M161.7,66.4h.01M162.8,68.5h.01M159.0,68.4h.01M164.5,58.2h.01M168.9,65.7h.01M159.5,63.0h.01M167.5,64.8h.01M169.1,70.3h.01M168.7,68.4h.01M170.9,69.9h.01M168.0,57.5h.01M169.5,72.8h.01M165.6,64.8h.01M172.8,59.0h.01M168.1,77.8h.01M163.6,70.0h.01M172.6,66.4h.01M168.4,71.0h.01M163.7,66.5h.01M167.5,70.6h.01M166.5,66.0h.01M163.3,65.3h.01M169.5,67.4h.01M163.9,63.1h.01M175.1,72.0h.01M168.6,55.2h.01M168.6,69.1h.01M172.0,68.8h.01M166.4,69.3h.01M160.4,71.5h.01M167.6,63.7h.01M170.8,75.0h.01M162.1,63.9h.01M167.5,67.7h.01M165.3,62.5h.01M173.4,71.6h.01M162.8,60.8h.01M172.1,71.4h.01M172.4,70.5h.01M163.8,68.1h.01M159.7,63.5h.01M166.4,69.3h.01M164.3,66.3h.01M168.1,68.6h.01M168.6,67.8h.01M165.6,70.5h.01M166.8,63.2h.01M164.6,66.9h.01M166.2,67.6h.01" stroke="#6a62d0" stroke-width="0.64" stroke-linecap="round" opacity="0.35" fill="none"/>
<path d="M166.6,69.3h.01M166.0,65.9h.01M168.5,71.4h.01M168.6,68.4h.01M168.6,66.6h.01M158.1,69.0h.01M162.4,70.7h.01M161.7,62.6h.01M161.9,72.7h.01M164.9,65.6h.01M163.2,70.2h.01M168.8,69.3h.01M173.3,70.6h.01M166.5,70.3h.01M174.0,71.2h.01M171.2,66.3h.01M165.9,70.7h.01M165.3,71.5h.01M169.3,71.1h.01M165.6,75.0h.01M172.2,68.4h.01M167.0,75.1h.01M165.1,71.0h.01M171.0,68.9h.01M161.3,69.4h.01M168.2,71.6h.01M170.1,69.0h.01M170.4,70.2h.01M167.5,69.0h.01M165.5,70.5h.01M161.9,67.4h.01M166.6,65.4h.01M164.6,64.1h.01M163.5,70.3h.01M169.1,68.8h.01M165.6,65.5h.01M174.8,70.1h.01M171.5,66.8h.01M165.8,64.5h.01M170.1,71.1h.01M158.1,68.8h.01M169.4,64.7h.01M158.4,66.3h.01M163.8,65.5h.01M166.7,69.5h.01M169.5,70.6h.01M173.4,71.7h.01M160.7,67.7h.01M161.8,66.3h.01M166.2,68.9h.01M168.8,65.1h.01M161.0,68.8h.01M165.7,68.2h.01M166.3,67.1h.01M169.8,69.8h.01M166.2,67.3h.01M165.8,62.4h.01M162.2,69.0h.01M159.8,69.4h.01M167.3,65.6h.01M165.5,68.1h.01M168.7,70.4h.01M166.4,66.9h.01M166.0,68.7h.01M169.9,69.6h.01M163.3,65.6h.01M164.9,67.1h.01M161.6,68.6h.01M164.4,69.2h.01M169.0,67.9h.01M177.1,68.1h.01M171.6,69.2h.01M171.6,63.2h.01M163.2,69.5h.01M169.3,74.5h.01M168.1,72.0h.01M170.0,71.2h.01M168.9,68.5h.01M168.9,66.3h.01M171.9,66.5h.01M167.7,74.0h.01M165.6,68.9h.01M171.8,69.0h.01M163.0,69.5h.01M169.2,70.6h.01M163.1,73.1h.01M174.1,68.9h.01M167.8,67.9h.01M173.0,67.2h.01M169.6,67.7h.01M163.5,70.6h.01M172.6,68.9h.01M163.6,70.8h.01M166.4,69.6h.01M173.5,71.6h.01M164.3,74.4h.01M166.6,70.8h.01M163.7,68.8h.01M158.7,73.2h.01M172.7,66.0h.01M159.8,65.0h.01M171.9,67.8h.01M166.3,68.1h.01M166.1,66.3h.01M166.7,65.4h.01M166.3,69.6h.01M168.7,68.3h.01M162.5,69.3h.01M164.4,72.7h.01M170.1,68.6h.01M164.5,67.2h.01M162.4,68.1h.01M167.9,70.1h.01M169.2,73.9h.01M163.4,68.9h.01M179.2,64.4h.01M164.3,69.3h.01M167.3,69.9h.01M165.5,69.8h.01M166.8,70.8h.01M158.1,66.8h.01M166.6,66.4h.01M161.9,70.4h.01M163.7,70.4h.01M170.0,69.6h.01M168.9,68.6h.01M160.3,68.8h.01M168.6,67.6h.01M166.2,70.7h.01M162.6,70.4h.01M175.0,67.6h.01M167.3,68.5h.01M173.5,69.7h.01M170.6,67.2h.01M166.5,68.9h.01M158.6,72.4h.01M170.6,64.7h.01M169.9,68.6h.01M168.6,69.8h.01M159.9,68.4h.01M173.3,67.5h.01M162.0,65.6h.01M161.1,69.7h.01M174.2,69.9h.01M167.7,74.3h.01M164.3,67.3h.01M169.0,70.2h.01M162.0,66.1h.01M167.9,69.5h.01M160.7,68.4h.01M164.2,70.0h.01M166.1,68.7h.01M165.0,71.4h.01M172.9,68.0h.01M170.4,67.1h.01M166.9,70.7h.01M173.4,68.0h.01M166.3,69.4h.01M159.9,68.9h.01M163.6,69.8h.01" stroke="#5a55c8" stroke-width="0.64" stroke-linecap="round" opacity="0.4" fill="none"/>
<g filter="url(#b3)" transform="translate(166.60,68.90) rotate(-14)" opacity="0.95">
<ellipse cx="0.00" cy="0.00" rx="6.20" ry="4.30" fill="#2b2aa2"/>
<ellipse cx="0.00" cy="0.00" rx="4.71" ry="3.27" fill="#2446c4"/>
<ellipse cx="0.00" cy="0.00" rx="3.58" ry="2.48" fill="#1f93d2"/>
<ellipse cx="0.00" cy="0.00" rx="2.72" ry="1.89" fill="#27c2a0"/>
<ellipse cx="0.00" cy="0.00" rx="2.07" ry="1.43" fill="#6fd23e"/>
<ellipse cx="0.00" cy="0.00" rx="1.57" ry="1.09" fill="#e3e030"/>
<ellipse cx="0.00" cy="0.00" rx="1.19" ry="0.83" fill="#f08020"/>
</g>
<rect x="157.90" y="43.00" width="19.30" height="12.70" fill="none" stroke="#231f20" stroke-width="0.8" />
<text transform="translate(166.60,41.80)" font-size="6.1" text-anchor="middle" fill="#444" stroke="#444" stroke-width="0.1" >0.034</text>
<rect x="135.40" y="83.80" width="44.50" height="42.50" fill="#fff" stroke="#8a8a8a" stroke-width="0.5" stroke-dasharray="0.6 0.5"/>
<rect x="134.80" y="95.80" width="1.20" height="0.80" fill="#333" stroke="none" stroke-width="0.7" />
<rect x="134.80" y="114.80" width="1.20" height="0.80" fill="#333" stroke="none" stroke-width="0.7" />
<rect x="146.40" y="125.90" width="0.80" height="1.20" fill="#333" stroke="none" stroke-width="0.7" />
<rect x="165.40" y="125.90" width="0.80" height="1.20" fill="#333" stroke="none" stroke-width="0.7" />
<path d="M145.4,97.3h.01M146.0,100.9h.01M145.7,101.9h.01M145.9,99.5h.01M146.2,98.0h.01M145.7,100.5h.01M146.4,100.2h.01M146.2,99.5h.01M146.2,103.2h.01M145.7,104.3h.01M145.7,100.5h.01M146.1,102.1h.01M145.4,97.1h.01M146.3,101.8h.01M146.3,104.7h.01M146.1,100.9h.01M146.5,101.1h.01M146.8,98.5h.01M145.8,95.0h.01M146.4,99.9h.01M146.5,103.9h.01M146.0,100.1h.01M145.8,99.2h.01M145.7,101.5h.01M146.0,100.6h.01M145.9,102.0h.01M146.2,100.3h.01M146.3,100.3h.01" stroke="#6a62d0" stroke-width="0.64" stroke-linecap="round" opacity="0.5" fill="none"/>
<path d="M162.9,119.3h.01M168.1,108.5h.01M170.1,114.4h.01M161.6,120.0h.01M167.7,116.8h.01M167.2,112.1h.01M161.6,117.2h.01M166.7,111.5h.01M167.7,113.2h.01M168.8,111.1h.01M166.5,103.2h.01M165.2,115.8h.01M170.9,111.2h.01M166.2,119.9h.01M165.6,116.1h.01M172.0,113.0h.01M170.5,109.6h.01M167.3,112.5h.01M167.0,117.9h.01M174.2,109.8h.01M164.8,115.0h.01M163.2,115.0h.01M168.4,111.6h.01M168.3,105.8h.01M169.0,105.8h.01M164.4,110.3h.01M165.3,116.7h.01M166.9,111.0h.01M168.3,119.9h.01M166.6,114.4h.01M170.6,114.0h.01M162.5,124.0h.01M173.7,103.9h.01M166.5,114.7h.01M169.7,115.8h.01M165.7,108.1h.01M166.9,117.5h.01M163.1,108.2h.01M166.5,104.1h.01M165.8,110.8h.01M168.0,109.6h.01M163.8,111.0h.01M166.4,109.8h.01M166.6,116.2h.01M170.4,120.5h.01M164.1,110.9h.01M158.7,121.3h.01M164.3,112.6h.01M168.3,106.7h.01M168.1,112.7h.01M160.8,114.1h.01M170.4,104.4h.01M169.2,113.7h.01M168.1,114.8h.01M170.8,111.8h.01M169.4,111.0h.01M168.9,109.1h.01M166.3,120.6h.01M168.0,112.1h.01M162.9,109.2h.01M167.2,117.0h.01M168.0,115.2h.01M166.5,118.9h.01M165.3,110.3h.01M169.4,113.1h.01M165.7,110.2h.01M165.8,115.6h.01M167.7,107.4h.01M168.0,113.6h.01M163.4,116.3h.01M165.7,111.3h.01M169.1,118.7h.01M164.4,114.8h.01M163.8,123.2h.01M165.0,118.2h.01M164.5,116.5h.01M173.7,101.4h.01M165.2,115.1h.01M166.3,109.8h.01M173.5,113.2h.01M161.3,116.6h.01M161.1,118.0h.01M164.8,113.5h.01M170.6,113.3h.01M162.1,105.2h.01M170.4,116.1h.01M164.0,116.7h.01M168.2,115.7h.01M159.4,111.4h.01M169.5,116.1h.01M169.4,101.7h.01M167.1,115.0h.01M174.8,108.5h.01M165.5,113.0h.01M169.4,110.8h.01M170.3,109.3h.01M167.5,110.4h.01M167.1,109.7h.01M161.5,117.7h.01M167.6,110.3h.01M167.2,117.3h.01M163.5,112.3h.01M168.3,115.2h.01M165.5,103.3h.01M170.6,114.3h.01M166.6,111.5h.01M167.4,110.9h.01M163.3,109.5h.01M164.7,110.0h.01M162.9,115.7h.01M162.4,115.8h.01M163.4,114.4h.01M171.0,113.7h.01M164.3,113.0h.01M167.1,105.0h.01M164.7,113.5h.01M165.1,113.2h.01M168.9,116.2h.01M169.5,115.4h.01M165.7,112.7h.01M165.7,111.4h.01M166.0,105.0h.01M165.5,112.7h.01M163.5,112.7h.01M168.2,112.1h.01M173.2,101.1h.01M165.9,104.6h.01M169.7,124.7h.01M158.6,113.4h.01M168.3,111.4h.01M168.4,102.7h.01M169.3,114.5h.01M166.7,110.2h.01M168.6,110.6h.01M167.3,110.5h.01M159.4,112.7h.01M167.2,116.2h.01M163.8,112.7h.01M168.6,113.5h.01M170.6,121.8h.01M163.7,104.2h.01M169.3,119.7h.01M169.6,116.5h.01M164.6,109.6h.01M169.4,108.7h.01M160.8,108.3h.01M174.6,121.5h.01M164.4,109.5h.01M167.3,109.4h.01M170.8,112.4h.01M163.1,118.7h.01M164.7,113.8h.01M166.6,111.4h.01M167.6,109.7h.01M160.7,102.9h.01M162.5,109.4h.01M166.5,113.0h.01M168.4,113.3h.01M164.1,109.6h.01M159.8,112.0h.01" stroke="#6a62d0" stroke-width="0.64" stroke-linecap="round" opacity="0.35" fill="none"/>
<path d="M168.8,116.1h.01M166.1,114.4h.01M170.8,114.8h.01M169.9,116.2h.01M167.6,117.9h.01M164.0,113.9h.01M163.0,112.9h.01M173.6,119.0h.01M166.7,116.2h.01M171.9,116.7h.01M172.0,111.8h.01M163.7,115.9h.01M173.1,115.0h.01M162.7,113.9h.01M163.6,112.7h.01M173.4,113.3h.01M166.7,120.0h.01M171.9,115.6h.01M163.8,115.8h.01M173.9,116.3h.01M172.3,115.0h.01M168.9,114.3h.01M168.5,117.9h.01M160.2,114.6h.01M167.7,113.4h.01M165.2,116.7h.01M175.6,116.3h.01M168.1,111.1h.01M175.3,115.0h.01M166.4,112.1h.01M166.3,112.2h.01M166.9,115.9h.01M166.7,115.5h.01M162.8,118.2h.01M163.7,110.4h.01M165.8,113.0h.01M162.1,113.9h.01M167.9,112.0h.01M166.0,118.2h.01M169.7,114.4h.01M167.2,114.5h.01M166.4,116.6h.01M166.2,109.0h.01M166.5,112.7h.01M169.5,113.3h.01M167.3,120.0h.01M161.9,112.1h.01M160.2,109.1h.01M158.1,115.7h.01M163.7,110.3h.01M159.9,116.3h.01M163.1,113.9h.01M168.1,118.1h.01M175.3,117.3h.01M167.2,115.2h.01M174.7,118.2h.01M165.2,115.9h.01M167.9,114.9h.01M164.3,111.6h.01M164.2,111.1h.01M172.1,116.1h.01M161.2,118.1h.01M170.6,110.2h.01M174.9,116.7h.01M175.9,111.8h.01M169.0,115.8h.01M167.5,115.2h.01M171.3,111.2h.01M161.0,111.5h.01M164.1,113.3h.01M168.3,115.4h.01M166.7,113.2h.01M164.6,117.1h.01M170.0,115.0h.01M165.1,118.5h.01M163.9,116.4h.01M171.8,114.2h.01M170.3,112.1h.01M171.2,115.3h.01M159.5,116.4h.01M162.6,117.9h.01M163.5,114.4h.01M167.9,114.0h.01M167.8,113.5h.01M169.6,114.8h.01M167.5,108.2h.01M171.8,114.9h.01M158.6,115.0h.01M168.7,117.4h.01M161.7,118.5h.01M165.9,120.5h.01M165.9,116.4h.01M165.0,112.1h.01M171.5,117.0h.01M173.5,116.9h.01M164.0,110.8h.01M163.7,113.2h.01M162.9,116.2h.01M168.1,114.2h.01M167.4,114.5h.01M167.6,116.6h.01M170.9,113.2h.01M159.8,118.2h.01M167.1,117.5h.01M159.2,114.0h.01M166.7,111.3h.01M164.3,116.5h.01M171.5,118.6h.01M162.7,111.4h.01M168.9,117.1h.01M167.5,111.7h.01M170.1,116.7h.01M169.1,113.6h.01M168.0,116.7h.01M164.1,110.4h.01M168.1,116.0h.01M166.7,116.9h.01M164.0,114.6h.01M165.2,116.2h.01M173.8,114.2h.01M175.8,118.5h.01M170.2,116.2h.01M174.6,114.4h.01M166.1,112.2h.01M168.7,118.0h.01M169.0,115.8h.01M165.7,115.2h.01M160.2,117.3h.01M164.8,112.1h.01M163.2,112.8h.01M170.4,117.3h.01M160.5,117.0h.01M170.6,113.4h.01M159.9,113.0h.01M163.7,115.6h.01M165.0,109.9h.01M167.7,111.1h.01M170.7,111.9h.01M163.5,112.7h.01M164.2,117.9h.01M170.4,116.2h.01M168.0,111.1h.01M164.3,113.5h.01M162.2,116.0h.01M163.3,113.1h.01M161.9,109.9h.01M169.3,118.0h.01M167.4,112.5h.01M154.4,115.2h.01M172.1,115.5h.01M170.8,118.3h.01M171.7,113.7h.01M171.3,116.7h.01M159.7,113.8h.01M160.2,114.5h.01M169.2,112.2h.01M157.3,117.9h.01M168.3,118.3h.01M160.6,117.3h.01M175.9,119.6h.01" stroke="#5a55c8" stroke-width="0.64" stroke-linecap="round" opacity="0.4" fill="none"/>
<path d="M167.4,98.9h.01M167.5,100.1h.01M169.0,98.6h.01M165.9,99.7h.01M167.1,99.5h.01M168.0,101.1h.01M169.2,97.8h.01M168.2,101.3h.01M167.0,99.2h.01M169.2,100.5h.01M168.4,96.4h.01M166.1,98.9h.01M168.2,102.6h.01M166.6,100.3h.01M168.7,95.8h.01M166.6,98.8h.01M167.1,98.3h.01M168.3,97.2h.01M168.3,97.5h.01M167.0,99.4h.01M167.0,99.0h.01M169.8,98.5h.01M167.5,99.7h.01M167.2,100.2h.01M166.0,99.5h.01M167.0,97.2h.01M170.0,97.1h.01M170.0,99.6h.01M169.6,96.9h.01M169.3,100.8h.01M167.5,98.3h.01M170.9,98.8h.01M167.2,97.5h.01M168.3,99.0h.01M167.9,101.3h.01M167.3,99.3h.01M169.6,96.9h.01M169.1,101.4h.01M165.9,96.7h.01M166.4,95.5h.01M168.3,95.5h.01M168.3,100.8h.01M165.6,98.0h.01M165.2,99.7h.01M166.7,98.1h.01M167.8,99.4h.01M167.2,98.5h.01M167.0,98.7h.01M166.2,98.6h.01M165.2,97.7h.01M170.2,98.6h.01M166.1,98.9h.01M166.4,95.9h.01M166.7,99.7h.01M168.2,98.3h.01M166.5,96.8h.01M169.5,98.9h.01M166.5,95.1h.01M165.9,102.5h.01M166.2,98.4h.01M168.0,98.2h.01M167.3,96.3h.01M166.3,101.2h.01M166.7,99.9h.01M165.5,98.1h.01M168.0,100.2h.01M166.2,99.5h.01M168.2,97.3h.01M168.3,97.1h.01M166.7,98.5h.01M164.2,98.3h.01M166.4,96.2h.01M167.1,99.7h.01M167.2,100.5h.01M166.2,96.4h.01M169.7,99.1h.01M168.9,97.2h.01M168.7,98.9h.01M168.5,98.5h.01M169.3,97.5h.01M166.4,96.1h.01M169.2,97.3h.01M166.3,97.0h.01M167.1,96.5h.01M167.3,97.5h.01M167.0,97.0h.01M167.7,97.8h.01M167.8,98.9h.01M168.1,95.0h.01M167.0,97.2h.01" stroke="#4a46b8" stroke-width="0.64" stroke-linecap="round" opacity="0.6" fill="none"/>
<path d="M146.9,99.4h.01M145.1,100.3h.01M145.6,101.2h.01M145.5,101.2h.01M144.2,99.2h.01M147.5,100.8h.01M146.6,100.6h.01M146.6,99.6h.01M147.1,100.1h.01M147.2,100.6h.01M143.6,99.6h.01M147.4,100.4h.01M145.5,100.7h.01M145.5,100.1h.01M146.1,100.6h.01M147.8,100.5h.01M148.3,101.8h.01M148.1,101.2h.01M146.2,100.6h.01M145.8,100.0h.01M145.9,100.1h.01M148.0,100.9h.01M145.5,99.2h.01M145.9,100.2h.01M144.7,99.7h.01" stroke="#4a46b8" stroke-width="0.64" stroke-linecap="round" opacity="0.6" fill="none"/>
<g filter="url(#b3)" transform="translate(167.70,98.50) rotate(0)" opacity="0.6">
<ellipse cx="0.00" cy="0.00" rx="1.50" ry="1.70" fill="#2b2aa2"/>
</g>
<g filter="url(#b3)" transform="translate(166.60,114.80) rotate(-14)" opacity="0.95">
<ellipse cx="0.00" cy="0.00" rx="6.20" ry="4.30" fill="#2b2aa2"/>
<ellipse cx="0.00" cy="0.00" rx="4.71" ry="3.27" fill="#2446c4"/>
<ellipse cx="0.00" cy="0.00" rx="3.58" ry="2.48" fill="#1f93d2"/>
<ellipse cx="0.00" cy="0.00" rx="2.72" ry="1.89" fill="#27c2a0"/>
<ellipse cx="0.00" cy="0.00" rx="2.07" ry="1.43" fill="#6fd23e"/>
<ellipse cx="0.00" cy="0.00" rx="1.57" ry="1.09" fill="#e3e030"/>
<ellipse cx="0.00" cy="0.00" rx="1.19" ry="0.83" fill="#f08020"/>
</g>
<rect x="157.90" y="89.30" width="19.30" height="12.70" fill="none" stroke="#231f20" stroke-width="0.8" />
<text transform="translate(162.30,88.10)" font-size="6.1" text-anchor="middle" fill="#444" stroke="#444" stroke-width="0.1" >0.87</text>
<text transform="translate(187.00,60.20) rotate(-90) scale(0.91,1)" font-size="6.4" text-anchor="middle" fill="#3a3a3a" font-style="italic" stroke="#3a3a3a" stroke-width="0.08" >Control<tspan font-size="7.68" dx="0.64">→</tspan><tspan dx="0.64">WT</tspan></text>
<text transform="translate(187.00,105.50) rotate(-90) scale(0.84,1)" font-size="6.4" text-anchor="middle" fill="#3a3a3a" stroke="#3a3a3a" stroke-width="0.08" ><tspan font-style="italic">Ehbp1l1</tspan><tspan font-style="italic" font-size="4.22" dy="-2.43">−/−</tspan><tspan font-size="7.68" dy="2.43" dx="1.92">→</tspan><tspan dx="0.77">WT</tspan></text>
<text transform="translate(7.60,161.50)" font-size="10.8" text-anchor="start" fill="#000" font-weight="bold" stroke="#000" stroke-width="0.22" >D</text>
<line x1="36.40" y1="273.60" x2="36.40" y2="161.00" stroke="#231f20" stroke-width="1.0" />
<path d="M36.40,156.60 L38.40,161.00 L34.40,161.00 Z" fill="#231f20" stroke="none" stroke-width="0.7" />
<line x1="36.00" y1="273.20" x2="89.10" y2="273.20" stroke="#231f20" stroke-width="1.0" />
<path d="M93.50,273.20 L89.10,275.20 L89.10,271.20 Z" fill="#231f20" stroke="none" stroke-width="0.7" />
<text transform="translate(30.20,213.50) rotate(-90) scale(0.68,1)" font-size="9.2" text-anchor="middle" fill="#231f20" stroke="#231f20" stroke-width="0.4" >CD71</text>
<text transform="translate(65.60,284.20) scale(0.68,1)" font-size="9.2" text-anchor="middle" fill="#231f20" stroke="#231f20" stroke-width="0.4" >Ter119</text>
<rect x="40.20" y="156.00" width="53.30" height="54.40" fill="#fff" stroke="#8a8a8a" stroke-width="0.5" stroke-dasharray="0.6 0.5"/>
<rect x="39.60" y="167.97" width="1.20" height="0.70" fill="#333" stroke="none" stroke-width="0.7" />
<rect x="39.60" y="183.20" width="1.20" height="0.70" fill="#333" stroke="none" stroke-width="0.7" />
<rect x="39.60" y="198.43" width="1.20" height="0.70" fill="#333" stroke="none" stroke-width="0.7" />
<rect x="51.93" y="209.90" width="0.70" height="1.20" fill="#333" stroke="none" stroke-width="0.7" />
<rect x="66.85" y="209.90" width="0.70" height="1.20" fill="#333" stroke="none" stroke-width="0.7" />
<rect x="81.77" y="209.90" width="0.70" height="1.20" fill="#333" stroke="none" stroke-width="0.7" />
<path d="M50.4,190.4h.01M53.7,209.5h.01M53.8,183.6h.01M56.0,186.3h.01M54.1,181.5h.01M52.9,199.2h.01M55.3,201.3h.01M53.3,185.3h.01M52.5,194.2h.01M51.7,190.4h.01M55.4,198.4h.01M52.4,195.4h.01M52.7,177.8h.01M51.8,196.0h.01M56.3,179.4h.01M52.7,181.8h.01M57.6,194.5h.01M53.0,168.0h.01M52.8,196.3h.01M56.6,182.5h.01M52.8,180.2h.01M51.0,193.6h.01M52.2,195.1h.01M51.2,172.9h.01M54.2,177.7h.01M55.0,185.1h.01M52.0,190.9h.01M55.1,166.8h.01M56.5,189.7h.01M54.9,167.3h.01M52.7,181.7h.01M55.4,171.1h.01M52.5,165.7h.01M53.4,188.3h.01M51.3,179.4h.01M54.6,200.1h.01M54.8,182.1h.01M52.0,176.1h.01M52.8,186.4h.01M53.7,200.8h.01M54.2,174.8h.01M56.1,194.0h.01M54.0,178.1h.01M51.0,175.3h.01M55.2,177.4h.01M51.8,186.9h.01M54.2,190.8h.01M54.8,198.4h.01M52.5,194.3h.01M52.3,191.6h.01M54.1,187.3h.01M55.3,184.8h.01M55.5,193.3h.01M54.0,179.6h.01M52.7,180.0h.01M53.5,184.8h.01M58.3,191.1h.01M55.0,176.8h.01M52.7,182.0h.01M54.1,175.2h.01M56.2,179.6h.01M55.4,162.8h.01M53.8,187.6h.01M54.1,190.7h.01M54.2,186.5h.01M51.0,178.2h.01M50.3,191.0h.01M54.3,183.1h.01M52.6,179.5h.01M56.6,201.4h.01M53.7,197.2h.01M51.4,166.6h.01M53.1,176.7h.01M53.0,186.8h.01M58.3,178.7h.01M53.9,187.6h.01M53.7,193.8h.01M56.5,173.2h.01M54.0,182.5h.01M54.3,170.4h.01M51.2,163.0h.01M54.6,186.8h.01M53.9,162.5h.01M53.2,177.8h.01M51.7,176.3h.01M54.8,190.2h.01M53.8,189.9h.01M52.9,185.7h.01M53.9,190.3h.01M53.7,183.6h.01M53.6,178.9h.01M57.2,189.9h.01M54.4,206.8h.01M55.9,170.2h.01M54.8,193.0h.01M56.6,197.5h.01M55.0,173.8h.01M52.5,187.6h.01M54.6,175.3h.01M53.2,181.2h.01M53.9,188.2h.01M53.4,173.3h.01M55.7,200.2h.01M53.6,194.7h.01M54.5,191.3h.01M54.5,177.7h.01M54.7,194.6h.01M52.5,203.7h.01M56.9,202.3h.01M56.8,192.1h.01M53.3,179.3h.01M52.6,186.1h.01M53.8,191.4h.01M50.8,207.0h.01M57.2,184.7h.01M54.8,189.5h.01M54.2,183.0h.01M53.6,177.2h.01M54.1,184.8h.01M54.3,176.9h.01M53.9,185.5h.01M54.7,174.9h.01M54.4,194.3h.01M54.7,181.5h.01M53.1,182.8h.01M54.9,199.8h.01M53.6,178.9h.01M54.4,186.9h.01M52.4,178.0h.01M53.6,191.4h.01M52.0,175.3h.01M54.5,173.4h.01M54.0,188.3h.01M53.6,175.3h.01M53.7,181.8h.01M54.3,177.0h.01M55.4,169.1h.01M53.5,185.1h.01M55.2,179.2h.01M54.6,179.6h.01M54.9,201.5h.01M53.2,189.2h.01M52.4,194.2h.01M55.6,185.3h.01M52.1,188.8h.01M55.5,195.4h.01M55.0,167.6h.01M52.8,198.5h.01M52.0,195.7h.01M56.6,192.2h.01M55.5,181.8h.01M52.0,184.0h.01M53.5,184.5h.01M54.8,183.6h.01M54.1,189.0h.01M53.8,202.5h.01M54.5,185.8h.01M53.5,179.1h.01M55.8,186.4h.01M52.2,179.7h.01M53.6,180.8h.01M55.4,174.0h.01M54.5,186.4h.01M52.0,185.5h.01M53.7,189.8h.01M53.1,187.9h.01M51.3,174.7h.01M55.0,194.9h.01M53.8,179.3h.01M55.4,165.1h.01M52.6,191.4h.01M54.8,175.2h.01M51.0,198.8h.01M54.0,176.5h.01M53.9,193.6h.01M49.9,195.5h.01M54.9,165.2h.01M55.0,168.1h.01M55.5,188.8h.01M57.2,179.2h.01M53.8,194.9h.01M52.8,178.3h.01M53.2,184.3h.01M52.2,189.6h.01M54.6,185.7h.01M56.4,181.9h.01M55.8,179.8h.01M54.9,166.6h.01M54.1,183.3h.01M53.1,179.2h.01M53.3,178.2h.01M50.5,179.3h.01M53.0,180.0h.01M52.2,183.7h.01M55.0,182.6h.01M53.1,197.9h.01M55.3,193.8h.01M55.5,181.9h.01M53.6,195.6h.01M53.0,183.9h.01M54.4,188.5h.01M53.4,194.3h.01M53.5,191.9h.01M55.4,191.3h.01M54.9,174.0h.01M51.8,179.1h.01M54.5,199.3h.01M52.0,187.9h.01M52.5,178.0h.01M53.4,191.6h.01M54.1,196.2h.01M52.3,193.4h.01M55.2,185.7h.01M54.5,179.6h.01M52.2,181.2h.01M53.1,200.7h.01M54.1,188.0h.01M54.9,177.6h.01M55.2,188.6h.01M51.5,190.7h.01M54.6,189.3h.01M56.2,181.1h.01M54.6,192.1h.01M52.4,196.4h.01M51.6,172.6h.01M54.6,174.7h.01M53.6,169.4h.01M53.9,174.2h.01M54.3,170.4h.01M54.5,182.5h.01M53.9,184.4h.01M54.0,172.4h.01M50.0,185.3h.01M52.4,180.7h.01M54.4,166.1h.01M52.7,179.2h.01M52.2,188.1h.01M53.6,177.2h.01M52.3,192.7h.01M52.8,190.6h.01M54.5,167.0h.01M52.2,185.0h.01M54.3,192.4h.01M55.0,194.8h.01M53.2,183.0h.01M55.0,181.0h.01M55.4,169.9h.01M54.8,183.4h.01M50.8,194.3h.01M54.3,185.2h.01M52.2,180.6h.01M56.1,177.1h.01M48.6,176.9h.01M52.0,183.7h.01M53.2,176.3h.01M52.5,195.0h.01M51.6,203.6h.01M53.0,174.6h.01M55.0,190.4h.01M52.2,192.1h.01M51.0,176.2h.01M55.5,182.6h.01M51.8,189.9h.01M55.2,184.8h.01M51.1,181.7h.01M54.4,192.3h.01M56.6,182.6h.01M53.1,184.6h.01M55.6,176.1h.01M55.8,158.9h.01M55.0,178.6h.01M54.5,191.5h.01M52.0,184.2h.01M54.2,190.6h.01M52.4,175.6h.01M50.9,209.1h.01M53.5,182.9h.01M51.6,193.8h.01M53.0,198.6h.01M55.1,185.2h.01M54.9,174.4h.01M53.3,179.5h.01M51.9,185.2h.01M53.6,198.6h.01M48.8,178.6h.01M52.4,180.6h.01M54.4,188.8h.01M53.8,180.5h.01M54.5,188.4h.01M51.0,182.5h.01M51.7,173.8h.01M54.0,185.6h.01M54.0,176.7h.01M53.5,176.3h.01M54.4,191.5h.01M56.4,197.0h.01M52.6,180.7h.01M52.4,187.9h.01M56.8,191.7h.01" stroke="#3f55c4" stroke-width="0.64" stroke-linecap="round" opacity="0.5" fill="none"/>
<path d="M51.6,187.0h.01M52.5,194.1h.01M53.8,193.2h.01M55.6,188.7h.01M53.0,199.9h.01M54.1,188.9h.01M51.8,185.9h.01M51.4,192.3h.01M53.8,196.0h.01M53.7,189.2h.01M53.1,199.6h.01M52.0,192.7h.01M53.8,194.5h.01M53.4,194.0h.01M54.6,191.4h.01M53.3,191.3h.01M52.8,191.2h.01M53.5,192.8h.01M55.1,197.2h.01M53.4,194.4h.01M54.1,195.0h.01M53.8,193.1h.01M53.3,188.9h.01M54.7,197.2h.01M54.5,193.7h.01M54.1,190.2h.01M52.0,194.7h.01M54.0,189.8h.01M52.8,197.1h.01M52.0,199.0h.01M54.4,201.5h.01M53.1,191.9h.01M53.3,192.6h.01M53.6,189.0h.01M54.9,188.9h.01M53.3,194.2h.01M53.3,190.3h.01M54.2,190.5h.01M52.6,191.6h.01M53.6,198.8h.01M52.7,195.9h.01M53.0,190.6h.01M53.5,193.1h.01M54.7,199.0h.01M53.2,197.3h.01M54.8,195.3h.01M53.0,195.6h.01M53.7,193.4h.01M53.5,194.7h.01M54.9,196.5h.01M53.6,196.0h.01M55.3,188.3h.01M55.3,186.7h.01M54.3,194.4h.01M55.3,193.1h.01M53.3,188.8h.01M52.5,195.1h.01M53.6,189.1h.01M54.3,188.9h.01M53.4,190.2h.01M55.5,197.9h.01M53.6,185.7h.01M54.1,192.3h.01M54.1,194.3h.01M53.5,195.7h.01M54.6,192.8h.01M53.4,190.1h.01M54.5,187.6h.01M53.6,189.0h.01M52.4,194.4h.01M53.8,192.1h.01M54.7,186.0h.01M53.7,193.2h.01M54.6,187.7h.01M54.5,192.9h.01M55.2,196.6h.01M54.3,200.6h.01M53.8,190.3h.01M53.5,188.2h.01M53.8,184.5h.01M53.7,193.7h.01M54.8,190.6h.01M55.2,189.4h.01M53.7,184.5h.01M53.0,188.8h.01M55.3,194.1h.01M52.7,194.1h.01M54.3,191.1h.01M53.8,190.8h.01M53.3,185.1h.01M53.7,197.0h.01M55.2,190.9h.01M53.1,191.2h.01M54.7,193.4h.01M53.2,193.4h.01M53.6,194.0h.01M53.4,186.3h.01M53.9,195.0h.01M52.7,191.6h.01M54.7,190.5h.01M53.2,199.9h.01M54.6,196.0h.01M52.9,198.4h.01M52.2,190.0h.01M54.5,197.2h.01M52.9,189.4h.01M54.0,184.5h.01M54.4,194.2h.01M53.4,194.1h.01M54.6,193.2h.01M54.3,197.9h.01M53.3,192.6h.01M53.3,196.0h.01M53.4,193.8h.01M53.9,192.3h.01M55.5,191.7h.01M55.2,195.2h.01M55.1,191.4h.01M54.7,194.9h.01M53.2,193.0h.01" stroke="#3048b8" stroke-width="0.64" stroke-linecap="round" opacity="0.55" fill="none"/>
<path d="M59.4,180.6h.01M65.7,173.3h.01M52.7,162.5h.01M58.0,174.1h.01M60.1,187.0h.01M67.6,184.3h.01M62.0,173.2h.01M62.5,195.4h.01M65.8,160.3h.01M63.9,197.8h.01M63.6,165.1h.01M58.7,187.2h.01M61.8,172.4h.01M56.1,191.2h.01M54.2,196.2h.01M60.1,184.2h.01M54.2,174.7h.01M63.0,165.4h.01M69.0,166.1h.01M54.7,181.5h.01M62.1,188.8h.01M58.4,178.8h.01M59.0,174.9h.01M48.8,191.2h.01M61.1,182.7h.01M57.3,183.7h.01M59.9,180.2h.01M64.8,162.8h.01M61.1,169.7h.01M58.6,196.8h.01M55.3,179.9h.01M57.4,191.0h.01M55.8,163.2h.01M62.2,177.3h.01M58.6,192.4h.01M56.2,177.1h.01M60.6,185.4h.01M57.8,191.9h.01M69.7,176.7h.01M68.1,158.7h.01M66.1,177.4h.01M60.6,177.4h.01M57.2,167.5h.01M58.3,194.7h.01M64.9,177.3h.01M57.7,173.6h.01M54.8,200.1h.01M62.9,182.2h.01M57.9,170.2h.01M65.7,189.2h.01M55.9,191.4h.01M55.2,187.8h.01M55.8,176.6h.01M62.1,185.6h.01M64.4,172.2h.01M66.8,195.2h.01M60.0,185.9h.01M56.6,179.4h.01M54.3,181.9h.01M60.9,195.2h.01M64.1,189.6h.01M58.4,178.6h.01M58.5,183.3h.01M51.7,189.1h.01M53.2,175.6h.01M60.1,175.6h.01M67.2,180.0h.01M66.8,193.4h.01M57.9,185.2h.01M65.6,177.5h.01M60.4,175.1h.01M60.3,177.3h.01M60.4,191.6h.01M66.0,182.4h.01M60.9,190.0h.01M58.7,169.8h.01M64.8,171.1h.01M64.0,170.8h.01M67.9,170.0h.01M63.7,196.8h.01M55.8,196.7h.01M56.4,162.4h.01M63.1,188.4h.01M59.8,177.8h.01M58.4,177.9h.01M52.3,175.0h.01M67.8,197.3h.01M58.4,173.5h.01M61.7,192.2h.01M63.1,168.7h.01M60.7,182.5h.01M66.2,193.6h.01M62.3,193.8h.01M58.3,197.2h.01M58.2,185.2h.01M64.0,171.4h.01M57.0,162.4h.01M60.7,180.4h.01M58.6,186.3h.01M50.9,180.8h.01M60.4,178.2h.01M63.4,199.5h.01M58.1,171.1h.01M57.4,182.0h.01M62.5,171.9h.01M64.3,170.2h.01M63.6,185.5h.01M62.0,203.8h.01M58.9,179.3h.01M62.1,190.1h.01M54.2,183.9h.01M56.8,187.7h.01M65.9,181.5h.01M59.5,182.9h.01M47.2,189.1h.01M62.4,182.7h.01M58.3,173.3h.01M59.2,193.8h.01M59.6,195.2h.01M48.9,176.1h.01M61.2,180.9h.01M52.8,174.0h.01M65.4,167.4h.01M55.7,169.4h.01M57.6,187.8h.01M62.6,159.6h.01M66.3,174.7h.01M57.5,198.6h.01M59.6,167.9h.01M57.2,173.3h.01M55.6,177.5h.01M63.8,184.7h.01M55.7,182.2h.01M60.1,189.0h.01M58.6,185.8h.01M69.1,182.0h.01M55.3,184.5h.01M56.5,177.1h.01M60.8,184.6h.01M58.8,190.0h.01M59.2,167.2h.01M63.8,177.2h.01M65.2,174.1h.01M62.5,184.3h.01M48.3,165.2h.01M55.2,195.9h.01M51.8,190.6h.01M64.7,186.2h.01M62.9,175.8h.01M60.0,183.4h.01M61.8,188.5h.01M59.1,173.6h.01M57.6,185.3h.01M52.8,167.8h.01M58.2,175.2h.01M58.5,178.3h.01M63.4,160.1h.01M58.7,186.0h.01M62.1,193.6h.01M64.6,169.9h.01M62.8,177.5h.01M56.5,197.2h.01M57.3,172.0h.01M58.2,172.0h.01M64.4,185.0h.01M66.1,185.3h.01M57.3,192.1h.01M57.2,176.1h.01M59.3,181.4h.01M65.2,174.6h.01M61.5,180.7h.01M54.6,169.4h.01M59.0,185.3h.01M61.4,186.1h.01M60.2,176.3h.01M61.8,170.4h.01M54.2,177.5h.01" stroke="#6a6ad0" stroke-width="0.64" stroke-linecap="round" opacity="0.3" fill="none"/>
<path d="M72.3,174.1h.01M74.6,173.6h.01M76.9,170.7h.01M75.6,160.2h.01M77.5,169.8h.01M74.4,182.8h.01M69.0,175.8h.01M77.3,181.2h.01M72.1,182.7h.01M77.5,168.7h.01M79.4,179.4h.01M77.1,174.8h.01M78.8,181.1h.01M80.7,185.2h.01M75.0,177.4h.01M80.0,175.8h.01M78.3,186.0h.01M77.4,182.5h.01M77.4,171.2h.01M81.0,178.4h.01M75.0,171.7h.01M78.2,167.3h.01M73.7,203.2h.01M81.3,192.2h.01M81.5,186.9h.01M71.5,193.9h.01M81.1,185.7h.01M70.6,194.4h.01M81.5,174.3h.01M77.4,189.0h.01M76.7,192.8h.01M77.3,188.0h.01M77.3,162.8h.01M77.9,195.2h.01M80.8,199.9h.01M78.8,173.1h.01M77.1,157.7h.01M76.4,190.5h.01M69.9,182.3h.01M79.7,195.5h.01M73.9,172.4h.01M70.8,168.1h.01M78.8,204.1h.01M73.2,196.1h.01M78.4,174.2h.01M76.8,182.6h.01M84.0,200.9h.01M84.5,181.6h.01M80.2,195.9h.01M78.7,184.2h.01M76.4,175.2h.01M72.9,202.7h.01M77.9,179.6h.01M77.6,201.2h.01M76.6,176.9h.01M74.5,179.7h.01M75.5,182.4h.01M87.3,184.6h.01M74.2,202.5h.01M79.9,189.5h.01M79.4,189.6h.01M79.2,196.5h.01M80.3,195.7h.01M75.3,180.0h.01M74.6,191.2h.01M79.8,174.6h.01M81.1,167.0h.01M76.7,187.4h.01M76.9,184.5h.01M80.9,183.8h.01M73.4,188.4h.01M76.7,181.3h.01M75.1,163.8h.01M72.9,175.9h.01M80.8,166.4h.01M74.6,186.2h.01M69.0,195.7h.01M74.5,187.7h.01M75.4,183.6h.01M77.3,180.0h.01M71.0,162.8h.01M76.9,196.5h.01M75.2,186.2h.01M77.5,185.7h.01M80.3,162.5h.01M77.9,177.9h.01M76.0,170.0h.01M74.4,168.0h.01M73.4,209.3h.01M82.6,180.1h.01M79.5,168.6h.01M67.8,158.7h.01M77.5,196.8h.01M76.9,168.3h.01M76.2,168.3h.01M72.4,177.3h.01M75.7,170.5h.01M74.1,169.1h.01M77.8,196.3h.01M76.3,206.1h.01M71.6,183.2h.01M73.2,178.1h.01M77.3,186.5h.01M80.7,173.5h.01M72.9,177.8h.01M78.0,171.8h.01M80.0,199.7h.01M72.3,184.2h.01M80.4,157.5h.01M77.7,177.4h.01M72.3,195.4h.01M77.7,174.4h.01M78.5,187.5h.01M79.5,186.8h.01M78.4,166.2h.01M75.6,181.5h.01M67.8,204.9h.01M75.7,167.7h.01M71.0,182.9h.01M77.1,173.2h.01M75.6,169.6h.01M74.5,178.9h.01M74.9,187.9h.01M76.5,181.5h.01M78.3,194.9h.01M79.0,182.7h.01M76.5,170.6h.01M75.9,188.0h.01M77.8,175.5h.01M72.6,162.1h.01M78.1,192.0h.01M78.2,163.9h.01M76.3,182.6h.01M74.0,184.1h.01M76.3,170.2h.01M72.9,189.5h.01M78.2,169.6h.01M73.6,190.4h.01M79.0,176.4h.01M82.3,176.6h.01M73.5,192.8h.01M76.4,184.0h.01M77.1,168.3h.01M73.1,177.7h.01M81.7,168.3h.01M81.5,182.6h.01M73.3,183.1h.01M78.9,169.5h.01M69.9,184.2h.01M73.3,185.1h.01M70.7,178.3h.01M74.3,162.7h.01M76.2,182.0h.01M75.2,166.2h.01M77.7,159.6h.01M78.8,185.7h.01M82.5,190.3h.01M78.2,183.1h.01M77.1,164.5h.01M81.8,186.1h.01M76.1,166.6h.01M81.9,186.2h.01M73.1,187.8h.01M83.3,179.7h.01M78.3,175.2h.01M74.9,192.5h.01M87.2,181.4h.01M76.6,189.2h.01M76.0,188.5h.01M79.7,168.2h.01M73.5,179.1h.01M79.7,183.2h.01M81.1,164.0h.01M78.6,172.7h.01M77.3,183.7h.01M73.8,177.3h.01M73.2,183.1h.01M74.2,174.2h.01M77.7,172.4h.01M80.8,172.6h.01M79.8,183.3h.01M73.6,177.5h.01M74.2,175.8h.01M76.1,201.2h.01M75.6,198.3h.01M78.5,164.8h.01M69.4,187.9h.01M70.4,188.4h.01M80.4,184.5h.01M76.3,177.1h.01M77.9,176.5h.01M75.2,175.7h.01M80.9,172.8h.01M78.3,166.6h.01M74.7,164.0h.01M76.3,187.9h.01M78.0,174.3h.01M79.0,176.0h.01M78.2,183.2h.01M72.7,189.0h.01M76.6,206.1h.01M76.2,173.6h.01M81.9,186.5h.01M83.2,185.9h.01M76.3,188.4h.01M74.4,174.8h.01M75.2,177.4h.01M79.6,174.4h.01M78.1,174.2h.01M76.3,182.0h.01M73.5,191.8h.01M77.7,194.9h.01M80.2,187.4h.01M76.5,167.4h.01M76.3,174.7h.01M77.8,174.6h.01M87.0,161.5h.01M80.9,174.6h.01M76.2,190.7h.01M77.0,165.9h.01M78.4,177.7h.01M70.2,182.3h.01M73.5,171.4h.01M78.6,183.5h.01M76.0,205.1h.01M78.4,172.9h.01M77.8,178.6h.01M69.8,161.7h.01M72.4,203.9h.01M76.4,176.8h.01M75.1,191.4h.01M77.1,199.8h.01M79.6,199.1h.01M76.6,184.3h.01M75.6,178.0h.01M71.3,173.3h.01M73.9,172.5h.01M81.0,183.0h.01M81.0,189.9h.01M80.0,191.6h.01M75.0,189.3h.01M75.9,173.9h.01M80.9,205.0h.01M73.8,200.1h.01M79.7,170.2h.01M77.9,184.3h.01M78.2,175.9h.01M72.8,180.4h.01M79.8,189.1h.01M79.2,192.7h.01M73.8,179.5h.01M78.1,191.6h.01M77.5,186.0h.01M77.4,204.3h.01M69.8,179.7h.01M85.1,182.7h.01M71.0,181.5h.01M72.3,172.1h.01M77.7,199.8h.01M78.5,187.7h.01M80.3,182.3h.01M74.2,178.9h.01M78.1,176.8h.01M74.8,175.9h.01M72.1,168.2h.01M76.7,175.8h.01M77.1,196.2h.01M78.0,179.6h.01M73.2,167.5h.01M78.2,169.9h.01M78.4,167.6h.01M77.4,179.2h.01M80.3,175.5h.01M75.8,182.8h.01M77.2,199.5h.01M76.2,173.8h.01M76.0,185.5h.01M77.8,188.0h.01M72.5,208.6h.01M83.0,179.6h.01M73.0,181.8h.01M77.0,162.9h.01M78.5,196.0h.01M80.4,162.6h.01M81.5,190.5h.01M75.8,185.8h.01M82.0,176.2h.01M76.9,173.5h.01M81.6,168.8h.01M80.0,161.2h.01M73.9,173.1h.01M79.7,161.3h.01M79.0,172.7h.01M81.1,176.4h.01M78.6,178.0h.01M82.9,175.8h.01M76.9,202.9h.01M77.3,187.9h.01M74.6,182.3h.01M69.6,181.2h.01M74.9,162.6h.01M72.4,193.2h.01M78.4,162.5h.01M82.9,172.0h.01M75.8,182.8h.01M73.3,161.3h.01M74.6,193.6h.01M80.1,161.8h.01M80.9,180.4h.01M78.6,180.6h.01M78.4,168.4h.01M74.0,171.9h.01M75.8,187.2h.01M73.0,198.4h.01M74.9,173.2h.01M79.3,185.0h.01M75.9,167.6h.01M73.7,161.5h.01M80.7,192.5h.01M83.1,185.8h.01M78.1,188.7h.01M80.1,177.0h.01M78.2,204.9h.01M71.5,163.8h.01M73.8,188.7h.01M80.9,176.1h.01M79.2,179.4h.01M78.0,173.8h.01M76.9,179.9h.01M80.7,205.8h.01M71.1,186.2h.01M77.0,191.2h.01M80.5,189.0h.01M79.6,169.0h.01M71.4,199.3h.01M81.0,169.0h.01M81.2,187.7h.01M69.0,190.4h.01M73.8,193.5h.01M74.8,171.4h.01M71.9,177.5h.01M80.3,172.2h.01M70.9,204.8h.01M83.0,188.0h.01M75.2,166.0h.01M71.6,186.5h.01M81.3,167.7h.01M77.0,176.8h.01M76.2,185.8h.01M83.9,172.6h.01M79.8,192.6h.01M76.1,178.3h.01M72.6,192.5h.01M75.3,172.4h.01M77.2,170.1h.01M73.6,176.6h.01M81.9,177.6h.01M78.7,163.0h.01M70.6,201.0h.01M75.7,162.2h.01M76.7,187.0h.01M71.3,169.8h.01M77.9,169.3h.01M79.6,191.1h.01M78.5,175.0h.01M76.8,172.7h.01M76.6,183.7h.01M76.0,191.3h.01M85.5,173.7h.01M78.1,189.5h.01M79.1,177.2h.01M75.4,191.6h.01M79.1,185.9h.01M74.4,187.3h.01M79.6,177.9h.01M79.1,205.2h.01M70.8,187.0h.01M73.2,164.2h.01M76.2,186.3h.01M77.2,166.5h.01M72.3,173.5h.01M77.0,170.4h.01M72.1,200.4h.01M74.2,178.2h.01M75.2,173.2h.01M77.1,176.5h.01M79.0,166.2h.01M72.1,202.6h.01M76.8,188.9h.01M80.9,186.4h.01M77.1,161.9h.01M71.7,191.4h.01M79.2,186.6h.01M73.5,166.3h.01M77.5,168.1h.01M82.2,172.8h.01M75.1,190.0h.01M78.1,169.5h.01M79.7,202.4h.01M73.0,177.1h.01M73.4,157.4h.01M79.1,188.1h.01M80.2,185.0h.01M70.4,179.7h.01M74.8,166.3h.01M73.3,188.9h.01M76.0,202.9h.01M78.6,157.8h.01" stroke="#3f55c4" stroke-width="0.64" stroke-linecap="round" opacity="0.4" fill="none"/>
<g filter="url(#b6)" transform="translate(76.70,171.00) rotate(0)" opacity="0.92">
<ellipse cx="0.00" cy="0.00" rx="6.80" ry="12.50" fill="#2446c4"/>
<ellipse cx="0.00" cy="-0.80" rx="4.90" ry="9.00" fill="#1f93d2"/>
<ellipse cx="0.00" cy="-1.38" rx="3.53" ry="6.48" fill="#27c2a0"/>
<ellipse cx="0.00" cy="-1.79" rx="2.54" ry="4.67" fill="#6fd23e"/>
<ellipse cx="0.00" cy="-2.09" rx="1.83" ry="3.36" fill="#e3e030"/>
<ellipse cx="0.00" cy="-2.30" rx="1.32" ry="2.42" fill="#f08020"/>
<ellipse cx="0.00" cy="-2.46" rx="0.95" ry="1.74" fill="#e02a1f"/>
</g>
<g filter="url(#b6)" transform="translate(76.70,189.00) rotate(0)" opacity="0.6">
<ellipse cx="0.00" cy="0.00" rx="2.60" ry="8.00" fill="#2446c4"/>
<ellipse cx="0.00" cy="0.00" rx="1.43" ry="4.40" fill="#1f93d2"/>
</g>
<g filter="url(#b6)" transform="translate(76.70,197.20) rotate(0)" opacity="0.95">
<ellipse cx="0.00" cy="0.00" rx="5.60" ry="2.80" fill="#2446c4"/>
<ellipse cx="0.00" cy="0.25" rx="4.03" ry="2.02" fill="#1f93d2"/>
<ellipse cx="0.00" cy="0.43" rx="2.90" ry="1.45" fill="#27c2a0"/>
<ellipse cx="0.00" cy="0.56" rx="2.09" ry="1.05" fill="#6fd23e"/>
</g>
<rect x="69.40" y="157.70" width="16.30" height="44.40" fill="none" stroke="#231f20" stroke-width="0.8" />
<text transform="translate(93.00,208.60)" font-size="6.1" text-anchor="end" fill="#444" stroke="#444" stroke-width="0.1" >89.5</text>
<line x1="83.60" y1="181.40" x2="102.70" y2="181.40" stroke="#231f20" stroke-width="0.7" />
<path d="M105.30,181.40 L102.70,182.60 L102.70,180.20 Z" fill="#231f20" stroke="none" stroke-width="0.7" />
<rect x="40.20" y="213.10" width="53.30" height="54.40" fill="#fff" stroke="#8a8a8a" stroke-width="0.5" stroke-dasharray="0.6 0.5"/>
<rect x="39.60" y="225.07" width="1.20" height="0.70" fill="#333" stroke="none" stroke-width="0.7" />
<rect x="39.60" y="240.30" width="1.20" height="0.70" fill="#333" stroke="none" stroke-width="0.7" />
<rect x="39.60" y="255.53" width="1.20" height="0.70" fill="#333" stroke="none" stroke-width="0.7" />
<rect x="51.93" y="267.00" width="0.70" height="1.20" fill="#333" stroke="none" stroke-width="0.7" />
<rect x="66.85" y="267.00" width="0.70" height="1.20" fill="#333" stroke="none" stroke-width="0.7" />
<rect x="81.77" y="267.00" width="0.70" height="1.20" fill="#333" stroke="none" stroke-width="0.7" />
<path d="M56.4,252.2h.01M54.6,228.3h.01M58.3,227.3h.01M54.3,221.6h.01M51.8,223.6h.01M56.8,251.6h.01M53.6,226.9h.01M54.4,243.8h.01M51.2,228.8h.01M54.3,247.0h.01M54.7,244.5h.01M51.8,215.8h.01M55.2,231.2h.01M54.2,236.4h.01M55.5,232.6h.01M57.6,240.4h.01M55.6,246.2h.01M56.7,244.0h.01M50.7,234.0h.01M58.5,244.7h.01M55.7,244.7h.01M53.1,233.5h.01M53.1,251.4h.01M55.3,257.5h.01M55.6,258.6h.01M55.5,228.5h.01M58.2,243.4h.01M57.1,242.2h.01M53.8,241.8h.01M52.1,228.4h.01M52.6,235.0h.01M51.6,239.1h.01M55.2,260.0h.01M58.5,239.6h.01M56.4,237.9h.01M55.3,239.8h.01M53.3,240.8h.01M51.3,244.4h.01M53.9,229.5h.01M53.7,245.5h.01M53.0,244.8h.01M55.7,255.4h.01M52.1,239.0h.01M55.6,254.9h.01M55.1,247.5h.01M51.3,234.4h.01M58.1,237.3h.01M59.2,232.9h.01M53.9,224.4h.01M55.9,242.7h.01M58.9,241.7h.01M54.0,226.2h.01M54.3,249.4h.01M56.1,252.2h.01M56.4,239.6h.01M55.8,241.8h.01M51.6,257.0h.01M55.3,229.7h.01M55.3,242.9h.01M56.7,254.4h.01M47.9,245.6h.01M57.8,230.7h.01M50.5,242.9h.01M55.2,243.6h.01M52.1,235.5h.01M54.9,247.5h.01M59.3,243.0h.01M53.2,216.7h.01M56.8,238.8h.01M54.3,230.3h.01M56.1,222.3h.01M54.7,241.3h.01M55.2,253.0h.01M54.3,241.0h.01M56.4,224.7h.01M53.9,240.8h.01M56.6,232.2h.01M56.3,243.9h.01M51.3,225.4h.01M51.4,241.5h.01M55.0,247.3h.01M56.3,234.6h.01M56.8,248.2h.01M55.5,244.9h.01M51.7,243.7h.01M52.2,228.3h.01M53.7,241.5h.01M54.4,236.8h.01M52.3,242.0h.01M52.9,226.1h.01M54.7,254.6h.01M53.6,229.5h.01M57.5,257.1h.01M53.9,238.0h.01M54.8,250.0h.01M55.5,222.0h.01M52.1,227.8h.01M55.4,241.2h.01M58.4,237.4h.01M55.2,240.8h.01M54.8,263.2h.01M55.1,254.8h.01M57.3,234.1h.01M56.0,236.3h.01M54.7,241.7h.01M54.5,235.4h.01M57.9,237.5h.01M56.0,256.8h.01M55.9,250.3h.01M57.5,250.9h.01M58.3,225.9h.01M58.8,240.4h.01M50.7,233.7h.01M51.4,239.9h.01M51.2,230.1h.01M55.1,241.7h.01M52.7,237.8h.01M54.3,240.8h.01M54.5,237.9h.01M56.4,224.1h.01M53.4,241.4h.01M53.6,234.6h.01M53.5,242.2h.01M57.2,238.2h.01M53.9,243.7h.01M54.0,220.8h.01M55.1,236.3h.01M53.2,246.4h.01M54.6,234.5h.01M49.7,222.9h.01M54.5,238.9h.01M55.5,242.3h.01M53.4,227.5h.01M52.1,238.7h.01M52.0,247.7h.01M51.6,222.2h.01M54.1,222.4h.01M58.1,230.2h.01M54.4,237.7h.01M52.7,222.4h.01M50.4,248.7h.01M56.7,261.7h.01M51.3,245.7h.01M54.5,248.6h.01M53.4,247.3h.01M56.5,246.2h.01M57.7,238.4h.01M57.9,233.1h.01M54.5,232.1h.01M54.5,250.4h.01M56.1,241.0h.01M58.2,225.3h.01M52.7,255.2h.01M55.2,219.4h.01M55.2,228.3h.01M57.8,251.5h.01M53.3,253.0h.01M52.7,249.3h.01M55.8,238.8h.01M51.4,237.3h.01M49.5,234.5h.01M50.4,252.3h.01M52.4,215.8h.01M55.8,243.8h.01M53.4,261.3h.01M56.2,240.8h.01M55.6,249.7h.01M53.2,226.0h.01M54.4,223.4h.01M54.5,247.8h.01M57.8,242.8h.01M54.9,247.6h.01M57.6,236.9h.01M51.8,232.2h.01M51.7,231.2h.01M54.2,243.5h.01M54.8,240.8h.01M53.7,244.3h.01M56.4,247.7h.01M57.8,237.2h.01M53.9,257.0h.01M54.9,244.2h.01M53.8,249.8h.01M53.6,230.0h.01M54.4,235.7h.01M56.3,236.3h.01M54.8,237.9h.01M55.2,233.8h.01M56.9,225.9h.01M53.7,233.0h.01M55.9,240.5h.01M55.6,236.8h.01M52.9,228.9h.01M53.8,234.7h.01M55.1,243.6h.01M56.6,239.0h.01M52.9,229.5h.01M54.6,243.7h.01M58.8,241.9h.01M58.4,258.8h.01M52.2,252.2h.01M57.0,253.6h.01M54.5,249.7h.01M53.4,239.4h.01M54.5,257.9h.01M54.0,249.7h.01M54.6,233.0h.01M55.0,246.7h.01M52.9,246.4h.01M52.9,231.3h.01M55.0,237.7h.01M52.3,223.8h.01M54.6,242.5h.01M53.5,242.0h.01M51.1,244.0h.01M55.4,242.9h.01M53.2,240.9h.01M54.8,250.8h.01M55.1,242.6h.01M52.9,248.7h.01M57.1,235.2h.01M55.9,243.2h.01M54.4,227.2h.01M58.4,221.4h.01M55.2,236.3h.01M57.0,235.9h.01M54.6,246.2h.01M55.5,234.9h.01M56.0,244.0h.01M56.7,235.0h.01M54.4,236.2h.01M52.7,242.6h.01M55.4,254.3h.01M53.8,244.0h.01M57.0,239.0h.01M54.6,241.4h.01M53.0,230.2h.01" stroke="#4a55c0" stroke-width="0.64" stroke-linecap="round" opacity="0.4" fill="none"/>
<path d="M65.6,239.0h.01M59.6,223.5h.01M60.6,250.0h.01M54.3,227.3h.01M65.5,252.8h.01M67.7,231.0h.01M63.0,228.9h.01M62.6,233.1h.01M61.0,251.8h.01M61.7,234.5h.01M60.3,240.0h.01M57.4,239.4h.01M63.0,254.2h.01M49.7,224.1h.01M53.8,246.7h.01M72.1,239.2h.01M60.6,249.6h.01M47.9,235.1h.01M44.5,238.8h.01M57.5,231.8h.01M61.7,230.7h.01M65.5,237.1h.01M61.9,264.8h.01M57.8,247.2h.01M55.9,250.7h.01M64.8,238.6h.01M64.9,254.7h.01M66.8,237.1h.01M59.7,249.2h.01M52.7,230.5h.01M62.4,243.3h.01M69.2,256.3h.01M61.6,241.9h.01M53.5,235.1h.01M61.3,234.6h.01M60.3,243.7h.01M55.3,230.9h.01M51.2,249.6h.01M54.8,218.6h.01M63.8,234.8h.01M64.8,233.1h.01M70.5,244.9h.01M60.7,238.4h.01M59.0,245.9h.01M69.9,232.5h.01M54.6,243.6h.01M65.3,220.9h.01M56.6,226.3h.01M62.8,242.6h.01M56.4,224.9h.01M63.4,214.8h.01M63.2,235.4h.01M69.5,247.9h.01M57.1,234.1h.01M58.6,229.2h.01M60.4,247.6h.01M52.6,234.6h.01M67.4,245.2h.01M56.0,228.4h.01M55.8,219.7h.01M65.7,237.9h.01M56.6,221.6h.01M58.1,231.6h.01M68.5,232.1h.01M60.6,248.7h.01M63.3,235.1h.01M49.3,252.3h.01M62.9,232.4h.01M59.6,226.8h.01M55.6,221.0h.01M62.5,242.7h.01M60.9,245.5h.01M62.6,238.4h.01M55.7,243.5h.01M65.8,243.9h.01M66.1,232.0h.01M55.2,250.6h.01M57.1,239.7h.01M59.1,237.3h.01M58.7,231.3h.01M51.2,257.7h.01M61.0,216.3h.01M55.5,224.9h.01M62.8,254.8h.01M58.8,245.1h.01M62.9,223.7h.01M66.0,218.9h.01M57.2,233.2h.01M66.2,238.4h.01M59.4,228.4h.01M60.4,237.6h.01M63.6,252.1h.01M63.6,237.3h.01M59.3,254.4h.01M61.0,236.9h.01M68.8,254.0h.01M62.8,235.9h.01M56.9,248.6h.01M57.8,247.4h.01M56.2,238.2h.01M62.0,238.7h.01M61.1,241.2h.01M54.5,225.2h.01M59.3,256.5h.01M59.4,227.1h.01M56.8,237.5h.01M65.8,231.0h.01M62.7,239.1h.01M58.3,226.9h.01M59.3,229.3h.01M62.6,218.2h.01M65.5,245.3h.01M62.8,253.2h.01M62.9,218.7h.01M60.3,241.9h.01M56.7,225.0h.01M62.1,242.6h.01M57.9,234.5h.01M57.5,231.0h.01M59.7,248.6h.01M52.1,233.4h.01M67.9,240.5h.01M60.8,246.1h.01M55.1,224.1h.01M51.9,221.5h.01M61.2,246.2h.01M58.0,229.8h.01M62.0,243.7h.01M61.3,216.7h.01M61.2,228.0h.01M56.8,253.2h.01M66.4,242.3h.01M61.3,239.0h.01M57.1,236.6h.01M69.3,227.7h.01M56.8,238.8h.01M64.3,246.0h.01M55.3,235.7h.01M58.7,223.9h.01M60.4,232.0h.01M64.5,241.7h.01M56.2,238.0h.01M58.3,230.3h.01M57.6,248.5h.01M58.0,218.8h.01M56.2,245.7h.01M70.5,225.8h.01M58.3,233.6h.01M53.2,241.4h.01M59.8,240.1h.01M70.9,234.3h.01M63.9,246.0h.01M56.9,230.8h.01M67.6,244.8h.01M60.7,225.4h.01M64.3,242.7h.01M70.7,252.9h.01M63.9,240.0h.01M60.3,231.2h.01M61.5,239.7h.01M63.2,248.7h.01M61.5,231.3h.01M63.9,253.7h.01M55.9,241.6h.01M62.7,242.8h.01M62.5,236.1h.01M59.5,255.1h.01M68.4,222.1h.01M47.7,241.8h.01M56.7,231.6h.01M52.3,240.9h.01M59.7,231.3h.01M64.4,263.1h.01M67.2,249.7h.01M58.0,244.1h.01M59.8,249.5h.01M62.8,236.7h.01M62.7,229.4h.01M63.9,253.2h.01M58.2,243.0h.01M51.9,247.1h.01M64.3,226.2h.01M68.5,238.3h.01M51.6,222.5h.01M64.2,234.2h.01M65.4,220.5h.01M59.5,247.5h.01M56.7,244.4h.01M58.3,240.8h.01M61.6,261.0h.01M54.0,245.4h.01M66.4,225.1h.01M60.4,261.8h.01M58.8,218.8h.01M61.5,229.3h.01M57.3,228.2h.01M61.4,232.1h.01M55.6,234.7h.01M62.0,228.0h.01M65.4,219.4h.01M62.0,232.9h.01M67.6,230.2h.01M56.8,222.8h.01M69.6,243.7h.01M54.7,233.5h.01M55.3,253.4h.01M62.0,215.3h.01M61.0,246.9h.01M60.0,242.2h.01M59.5,239.3h.01M61.0,229.5h.01M61.7,238.9h.01M59.8,229.8h.01M55.1,239.7h.01M57.4,251.6h.01M64.4,229.5h.01M66.6,226.6h.01M56.2,257.8h.01M57.9,234.8h.01M52.0,226.3h.01M54.3,235.6h.01M51.1,248.5h.01M58.3,230.6h.01M56.9,245.1h.01M67.5,232.7h.01M67.8,254.3h.01M66.5,240.3h.01M52.8,244.3h.01M58.0,239.2h.01M50.8,234.1h.01M61.1,227.1h.01M61.4,255.0h.01M61.1,229.8h.01M71.6,214.1h.01M55.5,241.5h.01M61.3,246.0h.01M56.1,252.8h.01M62.4,249.9h.01M52.6,237.1h.01M67.8,258.7h.01M66.4,237.1h.01M60.9,230.4h.01M65.3,229.7h.01M60.6,215.0h.01M52.7,256.2h.01M60.3,239.4h.01M49.3,236.7h.01M70.1,221.1h.01M48.4,235.4h.01M57.4,234.8h.01M53.9,222.5h.01M54.0,244.0h.01M59.8,245.9h.01M54.7,243.4h.01M57.8,238.1h.01M64.6,237.5h.01M58.3,219.2h.01M60.3,245.5h.01M56.9,236.4h.01M51.4,222.7h.01M62.0,251.0h.01M58.5,219.1h.01M58.1,220.3h.01M58.7,257.9h.01M61.5,235.5h.01M65.1,233.0h.01M61.6,239.3h.01M62.2,221.3h.01M63.5,246.6h.01M55.6,253.2h.01M60.1,244.4h.01M62.7,246.7h.01M56.9,230.8h.01M61.8,243.7h.01M62.8,240.8h.01M57.6,249.0h.01M62.3,248.6h.01M47.5,248.0h.01M48.0,239.4h.01M56.7,238.4h.01M57.7,233.7h.01M60.9,240.9h.01M56.2,243.0h.01M55.8,241.7h.01M58.2,226.9h.01M65.8,255.1h.01M59.5,236.6h.01M64.7,222.7h.01M55.7,249.4h.01M64.4,231.7h.01M56.2,240.9h.01M53.1,231.7h.01" stroke="#6a6ad0" stroke-width="0.64" stroke-linecap="round" opacity="0.3" fill="none"/>
<path d="M54.9,252.8h.01M55.7,248.0h.01M52.0,249.3h.01M51.9,255.6h.01M52.5,250.4h.01M54.3,252.1h.01M56.3,248.7h.01M55.4,251.4h.01M52.1,251.4h.01M51.8,254.6h.01M52.8,253.3h.01M56.1,249.8h.01M52.6,251.4h.01M52.3,253.1h.01M54.3,249.4h.01M52.9,252.7h.01M51.7,254.8h.01M52.8,250.7h.01M52.5,254.6h.01M55.3,253.9h.01M55.0,251.3h.01M56.7,252.6h.01M54.7,252.4h.01M55.2,251.7h.01M53.7,247.6h.01M57.3,248.3h.01M50.6,249.5h.01M57.1,253.8h.01M53.0,251.7h.01M54.0,246.7h.01M53.5,251.7h.01M55.9,248.5h.01M50.4,247.6h.01M54.5,251.3h.01M54.2,251.4h.01M53.4,248.1h.01M54.7,251.9h.01M54.9,253.8h.01M52.0,246.0h.01M51.2,255.8h.01M52.5,252.0h.01M54.0,252.7h.01M59.1,250.0h.01M53.7,249.8h.01M54.4,252.2h.01M52.4,254.0h.01M55.8,252.1h.01M53.8,250.6h.01M51.4,252.5h.01M52.4,250.0h.01M55.6,249.1h.01M53.2,253.0h.01M57.0,249.6h.01M55.8,249.7h.01M54.6,252.2h.01M52.2,253.4h.01M56.9,251.2h.01M54.4,248.5h.01M56.9,251.2h.01M52.0,252.8h.01M51.7,249.6h.01M50.6,254.1h.01M57.5,249.7h.01M53.0,249.8h.01M53.1,252.3h.01M56.3,248.9h.01M54.7,247.1h.01M56.4,250.9h.01M52.9,254.5h.01M53.8,254.1h.01M55.7,254.7h.01M52.7,251.2h.01M54.6,250.7h.01M56.4,249.5h.01M55.6,254.1h.01M50.9,249.0h.01M52.6,249.9h.01M54.6,250.7h.01M54.1,250.1h.01M53.9,252.2h.01M55.2,249.4h.01M53.8,249.4h.01M53.7,247.9h.01M55.5,252.6h.01M53.8,249.6h.01M53.3,249.6h.01M51.5,254.7h.01M59.3,248.4h.01M52.1,252.4h.01M55.0,247.6h.01M50.9,252.3h.01M50.8,254.2h.01M53.2,251.3h.01M54.0,249.9h.01M53.8,250.4h.01M56.0,250.9h.01M53.9,249.9h.01M53.0,249.5h.01M54.0,255.1h.01M55.8,251.6h.01M56.7,253.3h.01M54.3,250.7h.01M52.2,251.6h.01M53.5,247.6h.01M51.9,255.4h.01M54.3,252.2h.01M54.3,250.1h.01M54.7,253.5h.01M53.5,252.2h.01M55.6,250.0h.01M54.3,249.5h.01M55.0,250.3h.01M55.8,249.4h.01M56.7,250.4h.01M52.7,249.1h.01M55.1,249.2h.01M56.9,253.9h.01M54.8,248.0h.01M54.0,249.5h.01M51.1,252.0h.01" stroke="#3048b8" stroke-width="0.64" stroke-linecap="round" opacity="0.5" fill="none"/>
<path d="M84.5,230.7h.01M79.8,252.5h.01M73.7,233.0h.01M77.9,242.8h.01M73.1,239.7h.01M76.6,248.5h.01M71.6,230.3h.01M75.3,233.3h.01M79.5,229.6h.01M86.3,228.6h.01M79.9,249.3h.01M80.3,234.7h.01M74.2,234.0h.01M79.3,238.6h.01M79.0,244.0h.01M74.0,225.9h.01M81.9,231.3h.01M71.6,259.4h.01M74.2,225.9h.01M80.3,223.5h.01M74.0,249.7h.01M77.4,237.8h.01M74.8,234.4h.01M75.3,236.8h.01M79.6,221.8h.01M82.1,236.2h.01M77.0,236.4h.01M80.4,241.0h.01M79.9,235.1h.01M76.6,236.4h.01M70.7,250.2h.01M71.6,225.2h.01M79.3,237.8h.01M79.8,257.6h.01M83.3,253.7h.01M76.2,261.7h.01M74.0,236.1h.01M80.4,234.5h.01M76.6,232.9h.01M81.3,249.8h.01M76.8,243.8h.01M73.7,250.4h.01M87.4,226.1h.01M81.7,236.4h.01M75.9,231.3h.01M76.4,222.1h.01M72.4,257.0h.01M76.9,243.7h.01M78.1,242.8h.01M71.8,225.7h.01M79.2,249.1h.01M73.1,230.2h.01M73.4,244.9h.01M78.2,237.5h.01M74.8,241.2h.01M77.1,228.2h.01M78.1,229.1h.01M80.2,244.6h.01M74.7,244.1h.01M77.2,228.6h.01M73.9,217.1h.01M73.2,241.3h.01M81.1,229.6h.01M77.5,241.2h.01M79.7,242.4h.01M81.2,246.3h.01M74.4,241.9h.01M69.0,234.9h.01M77.1,244.1h.01M76.0,247.1h.01M81.5,227.0h.01M75.2,240.2h.01M78.7,238.8h.01M79.8,222.9h.01M79.6,251.1h.01M80.8,242.2h.01M76.2,241.9h.01M76.7,218.1h.01M74.9,236.6h.01M75.2,225.9h.01M76.2,232.6h.01M77.2,236.5h.01M77.6,249.0h.01M77.5,242.0h.01M75.6,245.2h.01M75.8,229.6h.01M72.8,247.8h.01M75.2,240.0h.01M80.8,243.5h.01M84.6,235.5h.01M80.3,245.4h.01M74.8,237.7h.01M75.1,224.8h.01M78.0,227.8h.01M82.7,228.2h.01M75.1,238.2h.01M75.2,237.7h.01M74.9,220.0h.01M68.8,221.6h.01M82.2,242.4h.01M77.5,231.5h.01M76.5,240.7h.01M72.3,227.5h.01M74.0,252.2h.01M73.4,251.2h.01M76.7,237.5h.01M81.6,247.6h.01M80.2,224.3h.01M80.9,257.3h.01M76.7,231.3h.01M73.3,249.3h.01M78.0,237.2h.01M72.8,256.6h.01M80.0,236.9h.01M82.0,225.7h.01M80.0,225.1h.01M81.8,233.8h.01M81.2,232.1h.01M78.4,250.8h.01M73.9,238.3h.01M74.1,247.3h.01M74.9,232.6h.01M76.3,251.1h.01M73.5,236.8h.01M75.9,230.5h.01M74.3,235.2h.01M77.7,218.5h.01M77.8,222.9h.01M77.1,264.5h.01M73.7,236.3h.01M76.1,248.9h.01M75.4,215.7h.01M71.5,239.2h.01M77.9,249.9h.01M75.2,245.1h.01M73.4,252.6h.01M76.8,229.0h.01M77.6,258.0h.01M74.1,222.2h.01M73.5,223.2h.01M76.8,241.3h.01M76.4,239.5h.01M81.0,233.6h.01M77.8,228.9h.01M76.2,242.0h.01M78.6,218.3h.01M73.7,238.0h.01M76.5,250.9h.01M81.0,217.5h.01M73.7,241.8h.01M73.4,267.0h.01M77.8,243.5h.01M75.5,263.7h.01M78.8,228.5h.01M81.3,216.8h.01M75.0,240.6h.01M77.5,225.6h.01M82.4,254.8h.01M73.8,241.6h.01M74.8,231.9h.01M80.4,238.6h.01M76.6,238.3h.01M73.0,251.8h.01M74.4,252.8h.01M75.4,231.6h.01M82.1,239.4h.01M74.8,230.7h.01M79.1,259.6h.01M79.1,232.4h.01M73.2,229.0h.01M76.6,240.0h.01M74.8,252.5h.01M73.7,228.5h.01M78.7,242.9h.01M75.7,248.6h.01M72.2,256.7h.01M84.4,260.5h.01M77.4,260.7h.01M77.2,253.1h.01M76.3,239.4h.01M78.8,216.1h.01M76.3,257.7h.01M67.1,241.7h.01M80.1,241.0h.01M77.7,253.7h.01M78.1,214.4h.01M73.8,233.5h.01M77.5,231.7h.01M76.6,257.1h.01M67.0,250.9h.01M80.2,244.3h.01M77.1,237.9h.01M78.2,240.0h.01M74.5,246.5h.01M74.2,236.6h.01M75.8,223.3h.01M79.1,236.3h.01M73.0,236.2h.01M72.3,254.3h.01M78.8,260.9h.01M75.1,245.6h.01M73.7,226.9h.01M76.7,242.0h.01M80.1,233.9h.01M80.7,248.7h.01M74.0,235.0h.01M73.9,257.5h.01M75.1,247.7h.01M80.1,234.1h.01M75.3,241.2h.01M74.4,222.0h.01M73.7,241.2h.01M77.7,258.2h.01M70.8,243.1h.01M73.1,250.9h.01M79.4,238.6h.01M82.0,232.6h.01M75.2,224.5h.01M74.8,238.5h.01M79.3,252.4h.01M76.1,228.4h.01M75.9,232.0h.01M75.4,232.3h.01M74.1,236.5h.01M75.3,235.1h.01M72.3,238.8h.01M78.9,244.8h.01M75.1,223.5h.01M72.6,223.1h.01M74.8,233.4h.01M71.0,245.1h.01M71.8,228.9h.01M74.6,247.0h.01M83.2,232.9h.01M76.1,232.4h.01M76.3,235.1h.01M85.3,224.2h.01M76.6,227.7h.01M78.2,230.9h.01M78.9,224.3h.01M84.1,239.6h.01M71.0,245.4h.01M75.4,223.4h.01M78.5,231.0h.01M79.5,230.6h.01M80.0,238.9h.01M78.2,239.0h.01M75.8,232.8h.01M78.5,245.5h.01M75.6,263.6h.01M82.7,223.5h.01M80.7,236.3h.01M77.8,227.8h.01M82.6,227.3h.01M76.7,228.5h.01M83.5,252.0h.01M72.6,231.8h.01M78.2,232.0h.01M75.8,224.4h.01M77.8,224.2h.01M79.8,265.5h.01M75.9,256.6h.01M78.3,229.2h.01M75.8,225.8h.01M77.4,245.4h.01M80.1,233.8h.01M73.0,236.2h.01M82.6,240.4h.01M75.5,243.5h.01M73.8,253.0h.01M75.1,226.8h.01M75.1,236.0h.01M80.3,230.5h.01M71.0,236.2h.01M78.8,255.3h.01M73.2,254.6h.01M79.3,242.5h.01M74.4,226.7h.01M73.8,248.1h.01M77.7,249.7h.01M83.1,237.4h.01M76.8,259.7h.01M72.6,231.9h.01M75.8,232.7h.01M77.5,227.3h.01M80.9,221.1h.01M74.3,217.3h.01M72.3,244.1h.01M79.1,234.8h.01M79.8,244.4h.01M75.1,236.7h.01M78.2,260.8h.01M75.5,241.5h.01M78.8,251.5h.01M78.4,249.8h.01M73.4,234.1h.01M70.5,236.6h.01M84.8,240.0h.01M77.3,240.3h.01M77.5,221.6h.01M74.7,235.1h.01M77.6,227.0h.01M76.6,228.6h.01M72.6,229.4h.01M74.3,247.0h.01M81.5,244.0h.01M76.3,230.6h.01M71.8,231.0h.01M82.2,250.7h.01M77.8,234.3h.01M77.0,242.1h.01M77.0,242.2h.01M74.4,237.7h.01M75.8,249.8h.01M72.9,252.4h.01M76.7,231.3h.01M77.1,238.6h.01M76.2,242.1h.01M75.1,217.3h.01M79.3,236.9h.01M82.6,241.7h.01M70.3,251.7h.01M74.7,243.6h.01M84.4,250.0h.01M73.3,236.1h.01M71.6,245.0h.01M78.9,225.2h.01M78.5,248.1h.01M79.7,229.3h.01M74.7,224.1h.01M72.7,240.9h.01M77.1,252.4h.01M77.9,233.4h.01M72.2,255.2h.01M77.6,236.8h.01M73.6,224.9h.01M79.1,225.8h.01M79.0,244.5h.01M75.7,218.3h.01M78.4,253.6h.01M74.2,222.5h.01M80.6,238.9h.01M74.9,251.5h.01M76.1,242.5h.01M75.7,228.4h.01M77.7,227.2h.01M71.1,230.9h.01M81.1,250.0h.01M84.3,248.8h.01M82.4,240.1h.01M75.5,242.6h.01M73.8,245.8h.01M75.5,240.2h.01M74.2,235.7h.01M80.3,234.7h.01M74.8,240.5h.01M79.9,235.0h.01M73.1,219.1h.01M72.5,249.6h.01M76.7,242.8h.01M80.6,240.5h.01M78.6,231.3h.01M71.6,244.5h.01M76.7,243.9h.01M73.4,235.6h.01M83.7,227.4h.01M77.3,252.5h.01M76.2,238.7h.01M69.9,246.2h.01M75.5,252.2h.01M76.7,232.9h.01M78.5,234.5h.01M75.3,255.1h.01M80.3,238.5h.01M79.7,246.8h.01M78.9,237.8h.01M77.2,242.0h.01M78.9,241.4h.01M75.2,236.4h.01M78.5,225.9h.01M77.0,246.0h.01M77.6,234.0h.01M76.9,231.7h.01M80.3,232.9h.01M71.5,223.3h.01M78.0,239.7h.01M75.4,222.1h.01M76.5,227.6h.01M74.8,237.3h.01M74.4,240.9h.01M74.5,231.9h.01M76.2,254.1h.01M82.2,248.1h.01M74.5,237.3h.01M80.0,246.6h.01M71.6,236.6h.01M74.5,245.9h.01M79.1,231.1h.01M84.1,234.1h.01M85.1,235.3h.01M76.7,259.1h.01M75.2,231.9h.01M81.9,236.8h.01M78.6,222.8h.01M83.0,248.6h.01M78.2,245.4h.01M75.3,231.8h.01M71.8,241.5h.01M81.1,247.1h.01M80.1,245.4h.01M73.9,222.3h.01" stroke="#3f55c4" stroke-width="0.64" stroke-linecap="round" opacity="0.4" fill="none"/>
<g filter="url(#b6)" transform="translate(76.30,236.60) rotate(0)" opacity="0.8">
<ellipse cx="0.00" cy="0.00" rx="6.60" ry="20.00" fill="#2446c4"/>
</g>
<g filter="url(#b6)" transform="translate(75.80,233.10) rotate(0)" opacity="0.9">
<ellipse cx="0.00" cy="0.00" rx="4.40" ry="16.00" fill="#1f93d2"/>
<ellipse cx="0.00" cy="-1.80" rx="3.26" ry="11.84" fill="#27c2a0"/>
<ellipse cx="0.00" cy="-3.13" rx="2.41" ry="8.76" fill="#6fd23e"/>
</g>
<g filter="url(#b6)" transform="translate(75.50,225.60) rotate(0)" opacity="0.9">
<ellipse cx="0.00" cy="0.00" rx="1.70" ry="6.00" fill="#e3e030"/>
</g>
<g filter="url(#b3)" transform="translate(75.80,254.40) rotate(0)" opacity="0.95">
<ellipse cx="0.00" cy="0.00" rx="6.20" ry="3.00" fill="#1f93d2"/>
<ellipse cx="0.00" cy="0.15" rx="4.71" ry="2.28" fill="#27c2a0"/>
<ellipse cx="0.00" cy="0.26" rx="3.58" ry="1.73" fill="#6fd23e"/>
<ellipse cx="0.00" cy="0.35" rx="2.72" ry="1.32" fill="#e3e030"/>
<ellipse cx="0.00" cy="0.42" rx="2.07" ry="1.00" fill="#f08020"/>
<ellipse cx="0.00" cy="0.47" rx="1.57" ry="0.76" fill="#e02a1f"/>
</g>
<rect x="69.40" y="214.40" width="16.30" height="44.40" fill="none" stroke="#231f20" stroke-width="0.8" />
<text transform="translate(93.00,265.30)" font-size="6.1" text-anchor="end" fill="#444" stroke="#444" stroke-width="0.1" >92.1</text>
<line x1="83.60" y1="238.70" x2="102.70" y2="238.70" stroke="#231f20" stroke-width="0.7" />
<path d="M105.30,238.70 L102.70,239.90 L102.70,237.50 Z" fill="#231f20" stroke="none" stroke-width="0.7" />
<line x1="123.90" y1="273.60" x2="123.90" y2="161.00" stroke="#231f20" stroke-width="1.0" />
<path d="M123.90,156.60 L125.90,161.00 L121.90,161.00 Z" fill="#231f20" stroke="none" stroke-width="0.7" />
<line x1="123.50" y1="273.20" x2="177.00" y2="273.20" stroke="#231f20" stroke-width="1.0" />
<path d="M181.40,273.20 L177.00,275.20 L177.00,271.20 Z" fill="#231f20" stroke="none" stroke-width="0.7" />
<text transform="translate(118.60,213.00) rotate(-90) scale(0.68,1)" font-size="9.2" text-anchor="middle" fill="#231f20" stroke="#231f20" stroke-width="0.4" >Hoechst 33342</text>
<text transform="translate(152.50,284.20) scale(0.68,1)" font-size="9.2" text-anchor="middle" fill="#231f20" stroke="#231f20" stroke-width="0.4" >FSC</text>
<rect x="129.20" y="156.00" width="53.70" height="54.60" fill="#fff" stroke="#8a8a8a" stroke-width="0.5" stroke-dasharray="0.6 0.5"/>
<rect x="128.60" y="168.01" width="1.20" height="0.70" fill="#333" stroke="none" stroke-width="0.7" />
<rect x="128.60" y="183.30" width="1.20" height="0.70" fill="#333" stroke="none" stroke-width="0.7" />
<rect x="128.60" y="198.59" width="1.20" height="0.70" fill="#333" stroke="none" stroke-width="0.7" />
<rect x="141.01" y="210.10" width="0.70" height="1.20" fill="#333" stroke="none" stroke-width="0.7" />
<rect x="156.05" y="210.10" width="0.70" height="1.20" fill="#333" stroke="none" stroke-width="0.7" />
<rect x="171.09" y="210.10" width="0.70" height="1.20" fill="#333" stroke="none" stroke-width="0.7" />
<path d="M142.3,171.0h.01M143.5,169.8h.01M136.9,171.7h.01M138.0,166.2h.01M137.9,168.2h.01M136.1,169.1h.01M143.3,176.8h.01M146.1,169.4h.01M144.0,170.4h.01M141.4,168.7h.01M139.7,166.1h.01M146.3,168.5h.01M142.1,169.0h.01M141.0,167.4h.01M138.7,173.0h.01M142.1,165.4h.01M143.0,167.0h.01M141.0,171.9h.01M137.7,169.7h.01M139.1,171.6h.01M143.2,174.2h.01M141.2,175.9h.01M136.7,175.3h.01M139.1,172.6h.01M139.6,170.8h.01M136.8,171.6h.01M147.1,170.9h.01M139.9,170.6h.01M142.5,170.0h.01M140.0,171.1h.01M144.6,173.1h.01M136.3,168.9h.01M140.1,172.8h.01M143.4,170.0h.01M147.5,170.1h.01M145.0,174.3h.01M145.6,171.1h.01M142.0,166.5h.01M133.7,168.9h.01M142.5,173.4h.01M139.6,173.3h.01M142.0,174.6h.01M134.4,168.3h.01M136.6,167.8h.01M145.8,168.1h.01M137.1,169.5h.01M143.1,169.3h.01M142.6,172.0h.01M137.7,164.3h.01M136.8,167.2h.01M145.8,168.6h.01M136.2,171.5h.01M140.2,168.1h.01M143.9,173.0h.01M141.0,168.5h.01M136.9,165.1h.01M141.4,171.6h.01M136.8,170.6h.01M151.6,167.5h.01M134.0,172.2h.01M138.5,169.2h.01M142.2,170.2h.01M143.5,171.9h.01M144.1,170.9h.01M132.4,174.2h.01M134.0,173.3h.01M140.9,166.8h.01M140.2,172.9h.01M136.4,170.7h.01M137.4,167.9h.01M137.8,173.9h.01M142.4,170.5h.01M139.7,170.9h.01M141.0,171.0h.01M133.9,173.0h.01M137.0,163.6h.01M142.5,167.3h.01M139.5,170.3h.01M137.9,172.0h.01M139.0,169.8h.01M136.6,169.8h.01M136.3,170.6h.01M144.7,173.2h.01M141.5,166.9h.01M143.6,173.0h.01M147.3,164.5h.01M140.1,169.6h.01M143.8,167.6h.01M138.7,176.7h.01M143.5,165.2h.01M140.1,174.2h.01M137.8,172.1h.01M140.4,166.6h.01M137.8,173.6h.01M144.2,168.9h.01M144.0,168.6h.01M140.9,170.5h.01M135.6,171.4h.01M138.6,163.2h.01M137.1,168.3h.01M137.0,167.9h.01M137.6,164.0h.01M143.2,170.7h.01M140.9,169.8h.01M140.2,169.8h.01M136.1,166.5h.01M140.3,173.2h.01M140.8,174.8h.01M135.2,169.8h.01M137.8,173.8h.01M146.0,169.1h.01M142.6,169.9h.01M136.5,170.2h.01M136.3,174.7h.01M142.1,173.7h.01M141.3,164.0h.01M142.8,170.8h.01M131.6,170.8h.01M143.6,175.1h.01M136.4,172.6h.01M141.2,170.1h.01M139.0,171.9h.01M142.0,172.3h.01M138.6,167.0h.01M144.7,174.0h.01M138.0,170.4h.01M142.9,165.8h.01M141.8,177.0h.01M141.0,168.6h.01M147.2,170.5h.01M140.8,169.4h.01M140.6,165.7h.01M135.5,166.6h.01M143.2,170.3h.01M144.1,165.0h.01M137.9,174.4h.01M137.2,165.5h.01M137.4,169.6h.01M140.0,174.0h.01M144.7,174.7h.01M142.1,169.2h.01M138.2,166.5h.01M144.5,173.9h.01M140.3,168.1h.01M142.4,171.8h.01M140.5,167.4h.01M140.8,169.0h.01M142.6,172.1h.01M141.6,169.4h.01M145.4,172.6h.01M144.5,172.8h.01M142.3,171.6h.01M136.2,165.6h.01M136.7,172.2h.01M143.2,171.0h.01M140.3,175.4h.01M138.6,165.7h.01M134.5,169.6h.01M142.5,172.5h.01M139.2,172.7h.01M139.8,168.6h.01M138.7,172.5h.01M143.4,167.5h.01M136.5,170.8h.01M147.5,167.4h.01M135.6,171.6h.01M141.8,168.9h.01M139.9,171.8h.01M133.8,170.4h.01M142.1,173.0h.01M144.1,170.3h.01M134.9,174.1h.01M142.7,168.8h.01M143.7,173.3h.01M139.5,164.2h.01M138.3,168.5h.01M137.0,170.3h.01M136.2,171.5h.01M146.7,167.3h.01M143.7,169.1h.01M141.9,170.2h.01M144.5,168.6h.01M142.6,168.4h.01M140.8,170.5h.01M143.8,166.3h.01M135.2,174.2h.01M141.4,175.1h.01M136.4,171.1h.01M142.1,175.2h.01M139.8,169.3h.01M142.5,170.2h.01M137.4,172.5h.01M133.3,167.8h.01M144.8,169.2h.01M138.9,171.5h.01M144.0,171.9h.01M136.6,169.0h.01M143.7,170.2h.01M137.8,172.8h.01M144.0,176.3h.01M136.2,168.6h.01M137.6,171.5h.01M138.3,173.5h.01M130.5,173.1h.01M137.7,169.8h.01M142.0,171.0h.01M136.4,174.5h.01M142.0,169.2h.01M140.7,167.5h.01M135.7,169.7h.01M141.3,170.8h.01M137.3,166.8h.01M134.1,174.8h.01M141.3,168.4h.01M144.2,172.0h.01M138.5,168.9h.01M144.0,171.4h.01M145.7,171.5h.01M137.9,168.9h.01M137.5,171.2h.01M140.9,172.1h.01M141.6,167.7h.01M139.3,168.0h.01M141.7,167.0h.01M138.0,168.2h.01M137.8,169.8h.01M145.3,169.8h.01M135.0,169.7h.01M142.6,172.0h.01M140.8,175.8h.01M143.9,170.7h.01M144.3,166.9h.01M139.4,168.2h.01M140.6,174.8h.01M138.3,174.8h.01M136.4,174.3h.01M134.1,168.2h.01M143.5,170.3h.01M140.5,170.5h.01M140.6,170.0h.01M136.6,169.7h.01M140.4,168.1h.01M141.6,175.2h.01M134.3,169.0h.01M139.0,170.6h.01M140.3,168.6h.01M139.9,170.5h.01M139.7,174.6h.01M140.5,166.5h.01M134.5,172.1h.01M138.8,168.8h.01M135.3,169.7h.01M139.7,168.7h.01M138.8,172.9h.01M142.7,172.0h.01M139.4,166.9h.01M142.7,174.5h.01M144.5,173.6h.01M141.0,171.5h.01M140.0,173.9h.01M139.1,176.3h.01M142.7,169.6h.01M140.0,166.2h.01M137.4,169.7h.01M148.6,168.3h.01M143.2,170.7h.01M139.0,172.2h.01M133.0,173.0h.01M146.8,171.3h.01M139.8,170.9h.01M142.3,169.2h.01M140.4,171.9h.01M138.8,171.5h.01M141.2,172.4h.01M136.6,169.1h.01M138.5,173.7h.01M140.9,166.1h.01M135.5,175.7h.01M141.2,167.0h.01M136.8,170.9h.01M145.0,174.9h.01M138.7,169.7h.01M146.7,167.9h.01M145.5,171.4h.01M140.3,174.0h.01M141.7,168.3h.01M134.7,170.5h.01M141.8,174.2h.01M130.9,174.1h.01M142.2,174.6h.01M142.8,171.1h.01M141.5,171.6h.01M137.8,170.2h.01M140.4,169.3h.01M134.9,166.6h.01M141.8,171.9h.01M140.4,167.4h.01M143.0,169.4h.01M132.7,174.7h.01M134.8,176.6h.01" stroke="#4a50c4" stroke-width="0.64" stroke-linecap="round" opacity="0.5" fill="none"/>
<g filter="url(#b6)" transform="translate(139.00,170.20) rotate(0)" opacity="0.7">
<ellipse cx="0.00" cy="0.00" rx="4.20" ry="3.00" fill="#2446c4"/>
<ellipse cx="0.00" cy="0.00" rx="2.52" ry="1.80" fill="#1f93d2"/>
<ellipse cx="0.00" cy="0.00" rx="1.51" ry="1.08" fill="#27c2a0"/>
</g>
<path d="M152.0,180.9h.01M132.2,191.5h.01M160.8,181.4h.01M148.4,179.0h.01M146.1,184.8h.01M151.9,181.9h.01M149.1,178.9h.01M146.6,189.9h.01M140.5,191.8h.01M165.4,176.6h.01M141.3,192.3h.01M137.0,192.0h.01M147.9,188.5h.01M157.2,179.9h.01M162.4,179.3h.01M144.5,183.6h.01M165.0,173.5h.01M151.6,182.1h.01M143.7,182.1h.01M147.9,184.3h.01M154.9,179.0h.01M137.0,187.6h.01M149.1,184.7h.01M153.4,180.3h.01M152.8,182.2h.01M160.3,177.3h.01M150.7,184.8h.01M156.0,177.1h.01M145.4,185.2h.01M136.4,195.3h.01M156.3,179.9h.01M173.4,173.9h.01M164.7,179.8h.01M153.2,177.2h.01M159.9,179.0h.01M141.0,188.8h.01M155.4,183.4h.01M149.5,182.1h.01M153.1,179.3h.01M149.5,186.1h.01M139.8,190.5h.01M134.6,189.4h.01M140.6,188.6h.01M153.7,181.1h.01M155.3,180.7h.01M148.3,185.9h.01M147.6,185.2h.01M155.2,178.6h.01M155.3,176.9h.01M145.2,180.8h.01M147.6,189.8h.01M153.1,185.6h.01M137.7,187.3h.01M153.3,184.1h.01M152.4,176.8h.01M152.3,181.8h.01M150.5,184.6h.01M144.8,181.1h.01M139.9,184.8h.01M140.0,188.8h.01M156.8,177.2h.01M142.3,184.3h.01M137.4,190.9h.01M145.4,185.3h.01M143.2,188.9h.01M141.6,190.0h.01M145.6,188.4h.01M143.6,188.5h.01M151.9,182.1h.01M160.3,178.1h.01M144.0,189.1h.01M142.7,185.9h.01M149.3,184.4h.01M158.1,173.3h.01M148.8,187.6h.01M148.4,185.4h.01M157.6,175.2h.01M150.4,185.7h.01M142.7,182.2h.01M142.5,188.3h.01M152.8,187.6h.01M155.9,175.2h.01M157.2,182.1h.01M159.7,177.3h.01M145.4,186.5h.01M160.3,179.4h.01M161.5,179.2h.01M143.7,183.9h.01M159.5,173.2h.01M146.2,184.6h.01M142.1,186.2h.01M152.3,189.5h.01M147.9,183.0h.01M151.1,185.7h.01M142.9,186.2h.01M138.2,192.5h.01M155.6,184.9h.01M143.9,193.8h.01M154.5,180.0h.01M145.9,184.8h.01M141.9,190.5h.01M143.9,184.7h.01M152.6,182.3h.01M144.7,185.7h.01M147.5,189.1h.01M154.8,178.4h.01M150.6,187.4h.01M149.5,189.3h.01M152.9,183.8h.01M136.1,194.1h.01M152.1,184.0h.01M153.0,183.4h.01M146.8,188.1h.01M148.0,181.3h.01M142.3,188.4h.01M148.3,177.5h.01M136.5,194.5h.01M152.8,190.7h.01M138.3,189.4h.01M145.7,187.6h.01M160.7,182.3h.01M143.9,190.8h.01M141.2,189.5h.01M151.0,184.8h.01M145.4,190.3h.01M148.5,184.2h.01M145.8,182.5h.01M154.3,182.0h.01M154.6,186.6h.01M142.8,186.7h.01M150.2,186.0h.01M149.1,186.9h.01M149.7,178.1h.01M141.6,181.9h.01M146.5,184.1h.01M153.2,182.1h.01M150.3,187.2h.01M151.4,178.8h.01M144.8,187.5h.01M160.2,176.9h.01M148.2,185.3h.01M154.2,180.7h.01M150.4,181.9h.01M144.2,184.3h.01M152.7,180.1h.01M153.3,182.8h.01M151.9,173.9h.01M140.8,184.9h.01M149.0,186.5h.01M168.2,177.7h.01M158.7,179.6h.01M147.1,186.8h.01M135.5,194.7h.01M149.9,185.4h.01M140.5,185.4h.01M144.6,186.4h.01M150.9,181.8h.01M152.3,184.2h.01M141.0,188.3h.01M137.7,188.8h.01M154.2,178.8h.01M162.3,177.9h.01M155.2,180.8h.01M156.3,183.2h.01M149.0,182.3h.01M147.9,190.7h.01M147.1,183.6h.01M141.9,182.8h.01M146.1,186.7h.01M144.7,184.1h.01M152.4,183.5h.01M146.5,186.4h.01M143.6,189.8h.01M141.9,187.1h.01M149.4,182.5h.01M144.1,193.4h.01M156.9,174.0h.01M148.1,180.5h.01M149.3,179.7h.01M153.7,183.0h.01M162.2,180.2h.01M147.2,188.0h.01M145.7,185.5h.01M143.2,181.8h.01M150.3,176.8h.01M148.1,186.2h.01M147.6,179.8h.01M145.5,188.1h.01M158.6,183.5h.01M137.3,192.2h.01M146.8,187.7h.01M137.4,190.3h.01M152.9,179.7h.01M145.2,183.1h.01M154.7,176.5h.01M142.4,186.8h.01M149.7,190.2h.01M149.7,181.0h.01M153.4,182.5h.01M150.8,182.7h.01M150.5,179.4h.01M140.3,187.7h.01M142.5,190.0h.01M163.8,179.3h.01M152.5,183.1h.01M142.6,183.6h.01M150.7,178.4h.01M150.9,182.5h.01M154.2,181.2h.01M148.9,182.2h.01M136.9,189.9h.01M155.1,183.7h.01M157.0,176.3h.01M143.6,189.3h.01M149.4,191.8h.01M149.1,179.2h.01M147.4,189.9h.01M136.9,191.5h.01M141.8,193.2h.01M144.6,183.3h.01M136.5,189.0h.01M131.1,192.9h.01M163.9,175.7h.01M145.6,182.3h.01M150.7,181.6h.01M145.2,190.6h.01M150.8,180.2h.01M158.9,178.1h.01M152.6,182.4h.01M157.8,180.8h.01M147.6,187.1h.01M146.5,185.8h.01M158.7,175.1h.01M141.4,187.1h.01M147.4,189.0h.01M141.3,195.6h.01M159.1,176.7h.01M149.8,182.4h.01M154.5,182.9h.01M155.1,182.9h.01M161.9,176.0h.01M153.5,180.8h.01M149.6,184.4h.01M149.1,185.0h.01M143.0,187.0h.01M143.3,183.6h.01M143.5,185.6h.01M145.9,180.9h.01M145.7,182.3h.01M143.7,187.6h.01M156.9,180.3h.01M145.1,184.9h.01M155.9,174.9h.01M154.7,176.0h.01M144.8,186.6h.01M149.8,188.8h.01M152.3,182.0h.01M155.5,180.4h.01M145.1,189.8h.01M160.9,181.2h.01M143.6,193.1h.01M147.2,187.4h.01M160.3,185.0h.01M136.6,187.9h.01M157.7,180.6h.01M142.9,178.3h.01M151.7,181.8h.01M134.9,200.6h.01M131.3,192.5h.01M149.3,184.6h.01M153.8,180.4h.01M142.4,186.7h.01M133.2,189.6h.01M161.5,174.6h.01M151.1,188.8h.01M156.3,180.2h.01M153.6,180.5h.01M144.2,189.9h.01M152.1,187.3h.01M146.7,184.1h.01M151.1,182.2h.01M145.7,183.1h.01M151.2,183.8h.01M161.4,176.8h.01M137.7,192.0h.01M163.9,174.0h.01M143.3,186.7h.01M145.7,181.2h.01M151.7,179.7h.01M135.5,189.5h.01M155.9,186.1h.01M157.8,179.6h.01M145.2,185.4h.01M154.9,179.0h.01M153.2,184.7h.01M142.0,186.2h.01M152.1,182.3h.01M147.4,183.2h.01M151.1,188.6h.01M156.0,174.8h.01M149.4,184.0h.01M147.4,180.6h.01M148.3,184.9h.01M144.8,187.4h.01M130.4,190.0h.01M150.2,184.5h.01M147.2,183.6h.01M151.7,185.8h.01M155.0,180.3h.01M147.3,188.3h.01M153.9,184.0h.01M145.9,183.0h.01M149.4,181.8h.01M158.0,181.5h.01M135.1,194.1h.01M159.5,181.2h.01M144.6,183.8h.01M157.0,182.6h.01M147.8,181.0h.01M139.0,190.6h.01M142.4,185.6h.01M153.5,184.7h.01M134.0,190.5h.01M157.8,178.8h.01M147.5,186.9h.01M139.6,185.6h.01M151.3,187.6h.01M155.9,180.0h.01M155.3,179.1h.01M138.7,184.7h.01M152.1,185.1h.01M151.5,182.4h.01M147.8,188.2h.01M146.7,180.8h.01M157.4,177.1h.01M151.7,182.5h.01M156.5,180.4h.01M157.6,179.7h.01M145.2,184.6h.01M152.3,179.5h.01M155.0,179.8h.01M141.5,185.6h.01M150.4,188.8h.01M154.3,181.0h.01M145.5,192.1h.01M147.1,185.1h.01M147.9,188.8h.01M149.6,182.2h.01M148.9,180.9h.01M141.6,187.8h.01M131.0,198.1h.01M161.0,173.5h.01M145.9,180.8h.01M150.5,183.8h.01M152.2,177.9h.01M144.0,184.8h.01M150.5,190.4h.01M147.6,184.7h.01M146.6,187.9h.01M168.0,176.7h.01M158.0,175.4h.01M156.2,179.9h.01M159.0,181.6h.01M151.2,177.4h.01M149.2,182.3h.01M152.1,182.3h.01M153.9,176.1h.01M143.9,186.7h.01M150.6,181.8h.01M148.9,184.2h.01M156.0,179.6h.01M148.2,178.7h.01M148.3,177.1h.01M151.7,182.2h.01M148.0,182.3h.01M147.3,187.6h.01M151.4,182.5h.01M146.0,186.4h.01M157.1,179.3h.01M144.9,182.6h.01M148.4,181.4h.01M140.4,191.7h.01M142.0,181.6h.01M146.6,191.2h.01M146.5,181.3h.01M142.5,190.0h.01M152.1,182.9h.01M148.3,185.9h.01M160.2,179.1h.01M146.0,181.3h.01M154.2,186.0h.01M151.7,178.5h.01M152.0,186.4h.01M145.4,187.7h.01M159.5,183.1h.01M135.8,186.1h.01M152.5,184.2h.01M146.6,185.3h.01M147.9,188.5h.01M134.3,193.3h.01M139.3,187.4h.01M137.3,187.9h.01M148.9,184.2h.01M160.9,176.4h.01M151.8,183.5h.01M152.8,186.5h.01M150.2,183.8h.01M148.2,184.5h.01M150.0,186.6h.01M149.2,184.1h.01M149.7,186.0h.01M147.1,188.1h.01M146.1,187.9h.01M162.4,177.0h.01M146.8,181.5h.01M154.1,181.1h.01M154.3,178.8h.01M155.0,186.3h.01" stroke="#5a55c8" stroke-width="0.64" stroke-linecap="round" opacity="0.4" fill="none"/>
<g filter="url(#b6)" transform="translate(145.00,187.00) rotate(-28)" opacity="0.5">
<ellipse cx="0.00" cy="0.00" rx="8.50" ry="3.00" fill="#2446c4"/>
</g>
<g filter="url(#b6)" transform="translate(142.00,188.80) rotate(-25)" opacity="0.85">
<ellipse cx="0.00" cy="0.00" rx="5.00" ry="2.40" fill="#2446c4"/>
<ellipse cx="0.00" cy="0.00" rx="3.50" ry="1.68" fill="#1f93d2"/>
<ellipse cx="0.00" cy="0.00" rx="2.45" ry="1.18" fill="#27c2a0"/>
<ellipse cx="0.00" cy="0.00" rx="1.71" ry="0.82" fill="#6fd23e"/>
</g>
<g filter="url(#b3)" transform="translate(138.50,197.40) rotate(0)" opacity="0.95">
<ellipse cx="0.00" cy="0.00" rx="6.00" ry="1.20" fill="#2446c4"/>
<ellipse cx="0.00" cy="0.00" rx="4.50" ry="0.90" fill="#1f93d2"/>
<ellipse cx="0.00" cy="0.00" rx="3.38" ry="0.67" fill="#27c2a0"/>
<ellipse cx="0.00" cy="0.00" rx="2.53" ry="0.51" fill="#6fd23e"/>
<ellipse cx="0.00" cy="0.00" rx="1.90" ry="0.38" fill="#e3e030"/>
</g>
<path d="M148.4,197.4h.01M138.3,197.6h.01M149.9,197.9h.01M139.4,197.1h.01M140.2,197.1h.01M144.4,197.7h.01M157.4,197.7h.01M154.6,196.8h.01M155.1,198.0h.01M148.6,198.0h.01M149.7,198.5h.01M150.8,196.7h.01M135.7,198.4h.01M145.5,198.3h.01M144.0,197.3h.01M144.0,197.8h.01M147.1,197.3h.01M149.2,197.9h.01M140.6,197.1h.01M134.4,197.4h.01M146.1,197.3h.01M142.4,197.5h.01M146.2,197.9h.01M150.9,197.8h.01M152.6,197.1h.01M149.6,197.8h.01M139.8,197.3h.01M148.6,197.6h.01M138.6,197.3h.01M155.0,198.0h.01M146.5,198.3h.01M140.6,197.5h.01M151.7,197.4h.01M139.4,197.9h.01M155.5,196.3h.01M146.9,197.0h.01M144.2,196.9h.01M161.4,197.3h.01M146.3,197.3h.01M140.1,197.4h.01M147.2,198.5h.01M147.7,198.4h.01M139.7,197.6h.01M143.4,196.8h.01M168.1,197.5h.01M147.4,197.2h.01M142.6,197.1h.01M152.1,197.4h.01M145.1,197.7h.01M138.7,197.7h.01M145.0,197.8h.01M143.7,197.6h.01M149.1,198.1h.01M141.9,198.1h.01M140.2,197.5h.01M146.8,197.7h.01M131.2,197.1h.01M144.9,198.1h.01M141.8,198.3h.01M135.3,197.6h.01" stroke="#4a50c4" stroke-width="0.64" stroke-linecap="round" opacity="0.5" fill="none"/>
<path d="M132.20,185.20 L155.40,173.60 L167.30,175.70 L173.00,184.10 L166.00,192.60 L133.80,194.10 L132.20,190.00 Z" fill="none" stroke="#231f20" stroke-width="0.8" />
<rect x="130.00" y="195.10" width="34.50" height="11.40" fill="none" stroke="#231f20" stroke-width="0.8" />
<text transform="translate(168.80,173.70)" font-size="6.1" text-anchor="middle" fill="#444" stroke="#444" stroke-width="0.1" >21.7</text>
<text transform="translate(172.80,207.20)" font-size="6.1" text-anchor="middle" fill="#444" stroke="#444" stroke-width="0.1" >67.7</text>
<line x1="167.30" y1="181.40" x2="189.40" y2="181.40" stroke="#231f20" stroke-width="0.7" />
<path d="M192.00,181.40 L189.40,182.60 L189.40,180.20 Z" fill="#231f20" stroke="none" stroke-width="0.7" />
<rect x="129.20" y="213.10" width="53.70" height="54.60" fill="#fff" stroke="#8a8a8a" stroke-width="0.5" stroke-dasharray="0.6 0.5"/>
<rect x="128.60" y="225.11" width="1.20" height="0.70" fill="#333" stroke="none" stroke-width="0.7" />
<rect x="128.60" y="240.40" width="1.20" height="0.70" fill="#333" stroke="none" stroke-width="0.7" />
<rect x="128.60" y="255.69" width="1.20" height="0.70" fill="#333" stroke="none" stroke-width="0.7" />
<rect x="141.01" y="267.20" width="0.70" height="1.20" fill="#333" stroke="none" stroke-width="0.7" />
<rect x="156.05" y="267.20" width="0.70" height="1.20" fill="#333" stroke="none" stroke-width="0.7" />
<rect x="171.09" y="267.20" width="0.70" height="1.20" fill="#333" stroke="none" stroke-width="0.7" />
<path d="M141.9,227.6h.01M140.9,230.2h.01M137.1,229.2h.01M143.8,227.0h.01M131.8,224.3h.01M137.0,224.7h.01M141.5,225.4h.01M148.8,229.2h.01M135.4,226.8h.01M145.4,229.5h.01M136.4,230.5h.01M138.3,233.7h.01M138.0,229.3h.01M142.0,226.4h.01M139.5,230.8h.01M141.8,227.4h.01M141.6,232.4h.01M143.3,228.9h.01M141.2,223.3h.01M140.5,226.3h.01M142.6,225.9h.01M141.6,224.7h.01M143.2,225.6h.01M139.9,229.2h.01M138.8,227.6h.01M143.8,232.5h.01M133.6,225.1h.01M142.4,230.2h.01M138.3,227.9h.01M139.3,233.9h.01M139.3,224.3h.01M134.5,224.1h.01M144.6,226.5h.01M146.9,229.4h.01M141.4,229.4h.01M142.8,230.1h.01M136.5,226.1h.01M138.1,227.9h.01M139.1,224.2h.01M137.5,232.5h.01M147.5,225.2h.01M141.4,227.5h.01M137.0,229.6h.01M139.8,232.2h.01M141.6,226.7h.01M130.6,227.3h.01M143.0,225.6h.01M143.1,229.5h.01M133.7,227.1h.01M141.1,229.7h.01M140.6,227.6h.01M138.8,226.8h.01M140.0,224.7h.01M142.3,226.7h.01M141.9,226.2h.01M141.5,228.0h.01M143.2,228.9h.01M143.3,227.1h.01M139.8,226.9h.01M135.5,227.3h.01M143.9,229.7h.01M137.0,228.4h.01M142.7,223.8h.01M141.2,228.5h.01M142.7,228.3h.01M133.8,222.0h.01M147.1,226.5h.01M144.5,231.1h.01M140.3,224.4h.01M144.9,227.5h.01M141.8,228.9h.01M143.4,230.4h.01M134.9,223.7h.01M140.5,227.6h.01M142.8,227.2h.01M139.4,233.2h.01M144.9,230.8h.01M143.7,225.4h.01M139.7,227.4h.01M136.1,225.2h.01M140.6,224.3h.01M141.9,228.9h.01M139.2,226.7h.01M142.1,228.9h.01M141.3,224.2h.01M134.2,233.2h.01M137.7,226.6h.01M133.5,225.4h.01M137.4,229.8h.01M130.6,223.7h.01M138.5,226.2h.01M137.2,226.4h.01M134.4,228.3h.01M144.3,228.0h.01M138.1,231.1h.01M141.7,224.8h.01M138.0,225.9h.01M139.8,230.9h.01M137.5,227.2h.01M140.4,224.3h.01M138.3,229.3h.01M144.0,222.4h.01M142.5,226.8h.01M144.6,229.3h.01M147.0,228.5h.01M138.6,225.3h.01M134.9,229.1h.01M141.8,229.9h.01M141.2,223.5h.01M138.6,226.9h.01M140.6,229.7h.01M145.0,228.4h.01M132.7,224.8h.01M132.4,225.5h.01M135.7,228.3h.01M139.2,230.7h.01M143.8,226.3h.01M143.4,227.6h.01M141.6,231.3h.01M135.9,227.4h.01M145.5,225.5h.01M140.8,228.0h.01M138.5,224.0h.01M137.6,224.9h.01M143.8,228.3h.01M142.5,224.3h.01M141.8,228.0h.01M143.7,225.6h.01M142.9,231.4h.01M146.4,225.0h.01M136.0,223.6h.01M143.4,229.2h.01M141.2,225.2h.01M144.5,232.0h.01M139.9,227.3h.01M144.2,229.0h.01M144.8,226.5h.01M141.2,226.7h.01M138.0,226.8h.01M139.0,229.0h.01M138.9,227.8h.01M137.1,224.2h.01M145.1,224.9h.01M146.5,230.2h.01M131.9,225.8h.01M138.5,227.7h.01M139.4,225.9h.01M144.5,227.3h.01M143.4,225.7h.01M137.5,231.3h.01M139.0,224.6h.01M139.4,230.5h.01M139.4,225.6h.01M142.3,230.3h.01M139.3,226.7h.01M138.7,235.0h.01M139.3,232.4h.01M139.5,228.7h.01M132.8,228.1h.01M140.2,226.7h.01M138.6,223.9h.01M134.7,228.1h.01M137.7,227.4h.01M139.4,226.2h.01M137.4,232.7h.01M136.1,226.2h.01M139.0,224.4h.01M136.6,230.0h.01M143.3,228.0h.01M151.5,229.9h.01M144.4,225.4h.01M143.9,232.2h.01M138.7,232.6h.01M137.1,224.5h.01M139.8,225.4h.01M142.3,224.6h.01M140.3,222.2h.01M139.9,230.5h.01M139.1,228.5h.01M143.9,224.6h.01M135.5,227.8h.01M141.0,226.9h.01M136.6,230.9h.01M135.9,226.9h.01M139.9,229.6h.01M138.4,225.4h.01M147.2,225.3h.01M142.8,227.2h.01M138.3,227.5h.01M139.1,228.5h.01M131.0,227.5h.01M140.3,224.9h.01M138.6,234.0h.01M146.6,229.4h.01M140.8,226.8h.01M144.9,226.4h.01M137.1,229.5h.01M136.6,225.4h.01M145.2,223.2h.01M139.8,227.9h.01M140.9,223.6h.01M139.2,226.7h.01M146.8,230.3h.01M137.3,230.0h.01M142.3,227.3h.01M139.2,226.9h.01M134.5,225.9h.01M143.3,231.6h.01M146.6,226.6h.01M142.2,221.0h.01M139.1,224.2h.01M142.9,223.1h.01M136.3,224.6h.01M141.4,229.9h.01M136.7,232.5h.01M140.6,225.3h.01M141.3,227.6h.01M143.0,228.5h.01M147.8,230.8h.01M137.7,229.8h.01M142.7,224.9h.01M137.4,225.4h.01M131.2,229.3h.01M139.2,231.0h.01M138.0,227.8h.01M142.6,230.2h.01M141.2,224.8h.01M147.8,230.0h.01M144.9,232.0h.01M145.0,228.7h.01M141.7,229.3h.01M134.7,229.8h.01M136.6,228.8h.01M136.4,229.6h.01M138.3,234.4h.01M140.7,229.0h.01M136.8,226.8h.01M139.8,226.8h.01M138.5,225.2h.01M142.7,226.6h.01M137.1,228.6h.01M137.1,227.1h.01M138.2,225.1h.01M139.2,225.4h.01M135.6,228.6h.01M139.0,223.6h.01M138.6,228.1h.01M141.5,228.6h.01M140.9,229.2h.01M138.3,225.4h.01M142.2,226.5h.01M140.1,229.4h.01M143.4,230.9h.01M137.6,226.6h.01M142.0,223.7h.01M135.6,229.3h.01M137.9,225.1h.01M142.9,229.1h.01M143.3,226.7h.01M139.0,226.7h.01M141.1,222.1h.01M137.6,229.5h.01M137.3,227.4h.01M140.5,229.0h.01M138.3,224.5h.01M148.9,225.7h.01M146.1,222.8h.01M140.4,227.1h.01M146.7,233.2h.01M143.5,224.8h.01M137.2,225.6h.01M138.2,228.3h.01M137.2,226.9h.01M145.2,231.5h.01M133.4,225.0h.01M138.7,231.1h.01M138.9,232.8h.01M141.3,231.5h.01M137.0,226.8h.01M143.6,229.2h.01M133.4,226.9h.01M140.7,229.3h.01M137.8,232.3h.01M140.6,231.5h.01M141.5,227.8h.01M138.9,224.4h.01M143.1,229.7h.01M143.3,226.6h.01M136.5,226.6h.01M138.9,227.6h.01M143.5,225.1h.01M138.3,229.5h.01M143.2,233.6h.01M141.9,225.3h.01M136.4,225.5h.01M140.3,228.3h.01M139.8,225.9h.01M139.4,227.4h.01M142.1,227.8h.01M137.2,224.4h.01" stroke="#4a50c4" stroke-width="0.64" stroke-linecap="round" opacity="0.5" fill="none"/>
<g filter="url(#b6)" transform="translate(139.00,227.30) rotate(0)" opacity="0.7">
<ellipse cx="0.00" cy="0.00" rx="4.20" ry="3.00" fill="#2446c4"/>
<ellipse cx="0.00" cy="0.00" rx="2.52" ry="1.80" fill="#1f93d2"/>
<ellipse cx="0.00" cy="0.00" rx="1.51" ry="1.08" fill="#27c2a0"/>
</g>
<path d="M159.0,235.0h.01M147.9,241.7h.01M156.3,235.9h.01M150.0,239.8h.01M151.6,236.4h.01M151.9,242.7h.01M158.0,237.9h.01M153.2,243.6h.01M155.8,241.6h.01M139.4,243.2h.01M154.2,237.3h.01M144.9,240.5h.01M157.6,232.4h.01M147.9,237.4h.01M151.0,247.0h.01M165.0,230.3h.01M144.4,248.8h.01M140.9,240.2h.01M150.0,237.2h.01M140.8,249.4h.01M142.7,241.4h.01M150.0,239.9h.01M156.8,236.9h.01M161.4,237.5h.01M162.7,236.7h.01M150.3,242.0h.01M147.1,237.3h.01M142.1,247.4h.01M131.9,248.4h.01M140.3,245.9h.01M142.4,245.7h.01M147.1,240.7h.01M140.3,239.2h.01M147.9,237.7h.01M147.6,243.1h.01M157.2,238.6h.01M157.2,231.9h.01M155.8,242.1h.01M150.3,236.9h.01M151.1,238.3h.01M146.2,246.1h.01M146.4,239.1h.01M147.2,248.3h.01M144.3,245.9h.01M151.9,243.1h.01M145.9,239.9h.01M143.4,241.1h.01M167.0,231.3h.01M148.6,245.3h.01M153.3,238.0h.01M153.7,239.2h.01M159.0,240.5h.01M146.9,242.2h.01M149.5,244.6h.01M152.8,241.4h.01M154.3,236.0h.01M151.9,243.8h.01M156.5,239.3h.01M146.7,241.3h.01M143.0,243.8h.01M146.7,237.9h.01M155.9,234.7h.01M151.6,241.5h.01M142.9,239.0h.01M156.2,238.2h.01M148.9,244.7h.01M153.9,235.3h.01M146.2,237.2h.01M149.3,245.4h.01M144.6,246.3h.01M138.5,246.2h.01M157.8,241.4h.01M153.2,241.0h.01M157.4,228.6h.01M140.1,252.1h.01M166.6,232.8h.01M149.9,241.4h.01M148.5,239.5h.01M148.8,240.8h.01M154.6,240.0h.01M156.5,238.6h.01M144.4,248.1h.01M131.2,251.7h.01M150.6,238.5h.01M160.3,231.2h.01M140.5,244.4h.01M153.0,241.3h.01M150.8,242.2h.01M143.6,242.4h.01M148.2,237.4h.01M149.9,239.4h.01M152.4,236.0h.01M144.8,241.8h.01M145.3,240.1h.01M145.5,238.9h.01M153.6,240.5h.01M148.8,240.7h.01M141.8,242.3h.01M146.4,239.8h.01M141.4,246.0h.01M148.4,240.2h.01M143.6,244.1h.01M143.9,242.7h.01M151.3,242.0h.01M153.4,236.7h.01M155.7,233.6h.01M149.7,244.8h.01M165.3,232.1h.01M146.2,241.6h.01M140.8,245.4h.01M145.2,240.9h.01M156.1,234.6h.01M161.6,236.4h.01M152.6,237.2h.01M143.0,238.3h.01M150.6,239.3h.01M150.8,238.0h.01M150.4,235.6h.01M135.1,250.6h.01M152.1,229.5h.01M157.3,235.2h.01M145.9,238.1h.01M143.4,246.6h.01M144.1,243.8h.01M150.8,246.3h.01M153.3,234.5h.01M144.3,240.2h.01M138.9,244.8h.01M156.6,236.9h.01M153.4,238.1h.01M146.4,242.9h.01M151.2,245.9h.01M161.7,235.0h.01M150.5,234.0h.01M151.5,247.1h.01M144.9,246.0h.01M156.7,235.4h.01M147.0,240.9h.01M154.5,238.0h.01M160.8,238.0h.01M152.6,247.2h.01M146.2,240.8h.01M146.3,239.9h.01M146.2,242.5h.01M152.9,233.9h.01M138.7,244.6h.01M147.7,243.3h.01M145.9,247.6h.01M145.3,242.6h.01M151.0,243.6h.01M151.1,240.0h.01M145.7,243.5h.01M151.3,238.7h.01M146.5,236.8h.01M147.1,245.9h.01M158.5,235.4h.01M137.1,253.7h.01M151.4,247.7h.01M147.7,245.0h.01M146.8,246.7h.01M155.4,234.1h.01M161.6,242.8h.01M146.0,239.1h.01M150.4,239.0h.01M137.7,244.4h.01M148.7,236.5h.01M156.9,237.9h.01M149.8,245.0h.01M143.8,246.2h.01M139.6,245.5h.01M152.6,237.3h.01M149.2,243.0h.01M161.0,238.2h.01M151.8,238.7h.01M141.7,250.7h.01M158.7,228.8h.01M154.8,237.6h.01M154.2,239.1h.01M147.8,241.8h.01M150.4,243.9h.01M146.6,240.8h.01M154.3,240.1h.01M152.4,240.1h.01M160.4,238.0h.01M150.2,239.7h.01M150.9,234.1h.01M144.6,241.4h.01M149.7,239.5h.01M166.5,233.3h.01M154.8,244.8h.01M148.6,240.3h.01M158.4,238.3h.01M156.9,240.4h.01M145.7,240.9h.01M144.4,244.1h.01M154.3,234.7h.01M143.7,240.0h.01M163.5,235.3h.01M148.9,237.4h.01M141.3,243.5h.01M147.6,237.9h.01M149.2,244.8h.01M149.3,241.2h.01M134.7,248.5h.01M147.2,240.0h.01M139.7,246.2h.01M141.5,243.7h.01M138.3,247.0h.01M154.0,235.6h.01M149.2,236.2h.01M153.7,240.1h.01M147.7,244.6h.01M143.3,244.5h.01M160.2,234.5h.01M143.2,248.1h.01M152.3,238.3h.01M134.4,243.6h.01M141.0,250.4h.01M149.9,237.9h.01M158.7,240.1h.01M144.1,245.4h.01M138.6,248.3h.01M159.2,230.7h.01M148.6,239.3h.01M148.6,241.6h.01M152.1,242.1h.01M153.9,241.6h.01M157.3,239.8h.01M145.1,244.6h.01M145.4,240.5h.01M162.5,234.2h.01M146.5,235.9h.01M148.6,243.8h.01M147.0,240.6h.01M158.4,234.7h.01M146.7,242.1h.01M148.9,244.5h.01M152.8,238.7h.01M146.4,241.9h.01M159.9,233.9h.01M151.3,234.8h.01M152.1,241.5h.01M157.9,236.9h.01M153.3,239.6h.01M158.9,241.8h.01M149.3,238.4h.01M152.9,238.5h.01M154.4,240.4h.01M149.5,239.4h.01M149.4,236.9h.01M149.7,237.9h.01M152.2,239.6h.01M146.0,239.1h.01M148.5,239.3h.01M149.1,243.2h.01M153.6,234.4h.01M157.1,240.7h.01M156.9,237.4h.01M150.8,245.5h.01M144.9,238.7h.01M150.1,241.4h.01M140.5,242.1h.01M162.4,233.7h.01M153.4,236.7h.01M138.8,246.4h.01M157.0,234.3h.01M137.0,247.5h.01M147.2,242.2h.01M141.7,244.3h.01M146.7,245.2h.01M151.3,242.5h.01M145.8,236.2h.01M136.8,249.8h.01M156.1,239.8h.01M146.1,237.1h.01M146.4,243.9h.01M157.7,235.0h.01M144.3,241.4h.01M157.0,239.2h.01M138.6,250.9h.01M141.0,241.1h.01M137.5,245.4h.01M167.9,238.2h.01M139.9,244.2h.01M150.7,241.4h.01M143.7,239.1h.01M145.4,241.0h.01M137.4,248.3h.01M137.0,242.6h.01M160.4,237.5h.01M158.8,235.8h.01M146.2,242.4h.01M141.0,248.0h.01M150.5,239.3h.01M136.5,247.9h.01M161.8,238.3h.01M154.4,236.9h.01M150.8,241.8h.01M151.8,242.8h.01M141.5,238.1h.01M131.8,248.2h.01M140.8,247.9h.01M156.2,236.9h.01M152.8,239.2h.01M149.6,239.3h.01M148.0,245.4h.01M147.2,242.0h.01M158.3,238.8h.01M146.8,243.2h.01M142.6,245.2h.01M151.2,239.8h.01M150.7,241.3h.01M131.2,248.8h.01M148.9,239.6h.01M142.4,244.2h.01M159.4,234.4h.01M144.1,242.4h.01M141.9,246.8h.01M143.8,247.0h.01M155.9,238.9h.01M155.9,236.9h.01M137.3,247.6h.01M151.2,234.9h.01M142.5,248.3h.01M153.8,242.6h.01M153.6,238.7h.01M153.1,241.4h.01M148.6,240.7h.01M150.7,239.1h.01M164.0,230.0h.01M137.2,243.8h.01M155.5,236.1h.01M149.8,239.9h.01M148.9,236.5h.01M148.9,239.4h.01M157.2,238.4h.01M139.4,243.6h.01M154.5,241.7h.01M154.0,237.7h.01M153.3,231.2h.01M144.2,240.8h.01M143.0,246.3h.01M151.3,240.7h.01M149.1,243.0h.01M153.5,236.7h.01M154.1,235.2h.01M159.0,231.2h.01M145.7,239.6h.01M151.2,244.0h.01M146.5,248.2h.01M159.0,236.5h.01M146.4,245.5h.01M155.5,237.2h.01M164.8,229.9h.01M139.9,245.7h.01M155.3,242.9h.01M137.5,248.2h.01M156.6,234.6h.01M144.4,239.9h.01M155.4,240.1h.01M153.4,239.4h.01M155.6,236.9h.01M155.0,240.2h.01M158.5,237.2h.01M150.6,242.4h.01M136.3,242.9h.01M160.1,235.1h.01M141.2,243.7h.01M148.2,241.8h.01M145.3,246.4h.01M141.5,254.3h.01M144.1,249.2h.01M151.3,234.5h.01M140.9,245.9h.01M150.3,239.0h.01M149.4,241.4h.01M141.5,245.6h.01M163.5,230.7h.01M143.2,246.6h.01M159.6,238.3h.01M144.7,243.3h.01M150.2,239.8h.01M153.3,242.1h.01M152.8,238.9h.01M150.2,246.1h.01M143.5,250.6h.01M154.2,238.4h.01M146.6,248.3h.01M158.6,238.5h.01M160.7,228.6h.01M149.3,239.9h.01M144.3,244.1h.01M153.5,240.2h.01M146.3,238.4h.01M153.7,240.3h.01M164.8,235.0h.01M147.6,238.2h.01M166.7,228.8h.01M151.5,242.1h.01M154.3,242.3h.01M141.1,243.5h.01M148.6,237.4h.01M146.8,246.8h.01M151.0,239.6h.01M145.3,243.4h.01M147.4,238.6h.01M152.7,234.9h.01M157.4,235.2h.01M131.4,246.3h.01M149.9,237.8h.01M163.4,237.2h.01M164.7,234.9h.01M157.5,234.3h.01M157.4,234.9h.01M146.9,238.0h.01M150.0,241.8h.01M147.1,238.6h.01M156.5,239.7h.01M149.6,243.3h.01" stroke="#5a55c8" stroke-width="0.64" stroke-linecap="round" opacity="0.4" fill="none"/>
<g filter="url(#b6)" transform="translate(146.00,244.10) rotate(-25)" opacity="0.55">
<ellipse cx="0.00" cy="0.00" rx="11.00" ry="4.60" fill="#2446c4"/>
</g>
<g filter="url(#b6)" transform="translate(144.00,245.60) rotate(-22)" opacity="0.8">
<ellipse cx="0.00" cy="0.00" rx="7.50" ry="4.00" fill="#2446c4"/>
<ellipse cx="0.00" cy="0.00" rx="6.00" ry="3.20" fill="#1f93d2"/>
</g>
<g filter="url(#b6)" transform="translate(142.60,246.70) rotate(-18)" opacity="0.95">
<ellipse cx="0.00" cy="0.00" rx="5.20" ry="3.00" fill="#1f93d2"/>
<ellipse cx="0.00" cy="0.00" rx="3.95" ry="2.28" fill="#27c2a0"/>
<ellipse cx="0.00" cy="0.00" rx="3.00" ry="1.73" fill="#6fd23e"/>
<ellipse cx="0.00" cy="0.00" rx="2.28" ry="1.32" fill="#e3e030"/>
<ellipse cx="0.00" cy="0.00" rx="1.73" ry="1.00" fill="#f08020"/>
<ellipse cx="0.00" cy="0.00" rx="1.32" ry="0.76" fill="#e02a1f"/>
</g>
<g filter="url(#b3)" transform="translate(137.50,255.10) rotate(0)" opacity="0.95">
<ellipse cx="0.00" cy="0.00" rx="4.60" ry="1.10" fill="#2446c4"/>
<ellipse cx="0.00" cy="0.00" rx="3.45" ry="0.83" fill="#1f93d2"/>
<ellipse cx="0.00" cy="0.00" rx="2.59" ry="0.62" fill="#27c2a0"/>
<ellipse cx="0.00" cy="0.00" rx="1.94" ry="0.46" fill="#6fd23e"/>
<ellipse cx="0.00" cy="0.00" rx="1.46" ry="0.35" fill="#e3e030"/>
</g>
<path d="M132.20,242.30 L155.40,230.70 L167.30,232.80 L173.00,241.20 L166.00,249.70 L133.80,251.20 L132.20,247.10 Z" fill="none" stroke="#231f20" stroke-width="0.8" />
<rect x="130.00" y="252.49" width="34.50" height="11.40" fill="none" stroke="#231f20" stroke-width="0.8" />
<text transform="translate(168.80,230.90)" font-size="6.1" text-anchor="middle" fill="#444" stroke="#444" stroke-width="0.1" >66.3</text>
<text transform="translate(172.80,264.30)" font-size="6.1" text-anchor="middle" fill="#444" stroke="#444" stroke-width="0.1" >23.5</text>
<line x1="167.30" y1="238.70" x2="189.40" y2="238.70" stroke="#231f20" stroke-width="0.7" />
<path d="M192.00,238.70 L189.40,239.90 L189.40,237.50 Z" fill="#231f20" stroke="none" stroke-width="0.7" />
<line x1="208.60" y1="273.60" x2="208.60" y2="161.00" stroke="#231f20" stroke-width="1.0" />
<path d="M208.60,156.60 L210.60,161.00 L206.60,161.00 Z" fill="#231f20" stroke="none" stroke-width="0.7" />
<line x1="208.20" y1="273.20" x2="261.30" y2="273.20" stroke="#231f20" stroke-width="1.0" />
<path d="M265.70,273.20 L261.30,275.20 L261.30,271.20 Z" fill="#231f20" stroke="none" stroke-width="0.7" />
<text transform="translate(197.00,212.70) rotate(-90) scale(0.68,1)" font-size="9.2" text-anchor="middle" fill="#231f20" stroke="#231f20" stroke-width="0.4" >CD44</text>
<text transform="translate(237.00,284.20) scale(0.68,1)" font-size="9.2" text-anchor="middle" fill="#231f20" stroke="#231f20" stroke-width="0.4" >FSC</text>
<rect x="213.70" y="156.00" width="53.50" height="54.60" fill="#fff" stroke="#8a8a8a" stroke-width="0.5" stroke-dasharray="0.6 0.5"/>
<rect x="213.10" y="168.01" width="1.20" height="0.70" fill="#333" stroke="none" stroke-width="0.7" />
<rect x="213.10" y="183.30" width="1.20" height="0.70" fill="#333" stroke="none" stroke-width="0.7" />
<rect x="213.10" y="198.59" width="1.20" height="0.70" fill="#333" stroke="none" stroke-width="0.7" />
<rect x="225.47" y="210.10" width="0.70" height="1.20" fill="#333" stroke="none" stroke-width="0.7" />
<rect x="240.45" y="210.10" width="0.70" height="1.20" fill="#333" stroke="none" stroke-width="0.7" />
<rect x="255.43" y="210.10" width="0.70" height="1.20" fill="#333" stroke="none" stroke-width="0.7" />
<path d="M235.1,171.4h.01M228.2,175.1h.01M226.0,183.8h.01M226.8,182.9h.01M230.1,172.8h.01M230.6,182.8h.01M231.3,178.1h.01M224.8,178.8h.01M226.5,190.5h.01M228.8,177.4h.01M228.9,174.2h.01M241.3,173.7h.01M227.4,182.2h.01M227.3,183.8h.01M226.2,181.9h.01M239.1,172.3h.01M227.0,177.1h.01M224.0,187.8h.01M234.0,175.5h.01M238.3,171.9h.01M226.9,181.4h.01M230.5,178.4h.01M245.8,166.4h.01M232.2,176.2h.01M225.8,179.7h.01M220.0,186.6h.01M219.9,182.5h.01M222.9,179.3h.01M240.5,173.1h.01M228.7,186.1h.01M231.0,170.5h.01M229.7,176.2h.01M221.0,186.2h.01M238.1,172.9h.01M222.0,184.2h.01M228.5,183.6h.01M229.1,176.8h.01M223.1,179.3h.01M227.7,183.6h.01M220.7,187.9h.01M231.6,179.8h.01M226.0,185.2h.01M243.1,173.9h.01M221.9,186.1h.01M230.1,179.2h.01M226.8,184.3h.01M246.4,168.6h.01M224.9,181.8h.01M235.3,174.5h.01M228.6,183.8h.01M235.5,177.0h.01M231.9,180.9h.01M226.8,178.5h.01M229.0,175.7h.01M239.1,172.9h.01M221.9,186.7h.01M235.3,173.1h.01M232.5,174.9h.01M230.5,178.2h.01M232.3,173.9h.01M225.2,184.2h.01M229.0,181.4h.01M226.3,178.4h.01M235.6,174.7h.01M234.6,173.7h.01M230.9,181.8h.01M224.1,189.3h.01M233.8,175.3h.01M232.4,178.5h.01M227.1,182.3h.01M223.0,179.8h.01M232.3,177.1h.01M235.5,175.6h.01M236.1,175.7h.01M226.9,185.3h.01M245.2,163.5h.01M225.0,185.4h.01M237.7,175.0h.01M237.6,168.0h.01M233.8,176.8h.01M236.7,170.2h.01M230.6,177.2h.01M229.9,178.6h.01M227.6,175.8h.01M230.9,178.3h.01M223.6,174.1h.01M226.2,180.4h.01M228.5,185.0h.01M235.9,173.0h.01M239.3,180.3h.01M226.3,183.6h.01M229.9,183.4h.01M237.1,172.2h.01M233.3,173.6h.01M223.4,187.4h.01M239.7,169.2h.01M225.4,177.7h.01M241.3,165.2h.01M225.3,182.6h.01M237.9,172.0h.01M230.9,178.1h.01M235.7,173.6h.01M231.8,177.1h.01M226.8,185.8h.01M225.2,179.3h.01M228.6,180.2h.01M233.4,171.4h.01M224.2,184.7h.01M231.5,174.3h.01M224.9,184.0h.01M227.8,176.1h.01M228.3,184.8h.01M226.6,185.1h.01M224.6,188.2h.01M239.1,168.9h.01M228.1,182.5h.01M224.9,185.2h.01M238.2,172.3h.01M232.6,176.1h.01M235.4,171.6h.01M239.9,169.9h.01M226.8,177.0h.01M228.9,180.6h.01M235.6,169.1h.01M229.3,177.5h.01M224.3,184.0h.01M228.0,183.3h.01M217.0,192.8h.01M217.5,184.4h.01M233.4,174.8h.01M230.3,175.8h.01M224.0,182.1h.01M229.5,176.9h.01M227.4,178.7h.01M230.6,174.9h.01M215.5,184.2h.01M231.0,178.3h.01M235.3,171.9h.01M222.4,181.3h.01M234.3,173.1h.01M236.4,172.9h.01M226.7,176.3h.01M228.4,182.7h.01M228.6,182.2h.01M223.3,188.0h.01M248.2,165.8h.01M231.0,174.4h.01M227.1,179.6h.01M229.1,173.7h.01M227.3,183.7h.01M232.9,178.5h.01M234.1,171.8h.01M224.2,185.5h.01M231.3,178.0h.01M228.0,183.8h.01M235.5,177.4h.01M230.0,180.9h.01M229.3,176.8h.01M228.1,175.7h.01M230.3,179.2h.01M233.3,172.8h.01M222.5,183.5h.01M218.4,187.4h.01M245.9,165.1h.01M225.7,180.7h.01M239.2,167.2h.01M230.2,178.4h.01M225.8,180.5h.01M220.4,185.1h.01M240.4,173.8h.01M230.5,180.6h.01M233.7,175.9h.01M232.0,180.7h.01M233.8,174.8h.01M231.1,180.7h.01M226.6,179.8h.01M228.7,178.6h.01M238.6,172.2h.01M229.7,177.6h.01M239.6,171.6h.01M244.0,169.0h.01M229.0,178.2h.01M229.7,179.7h.01M236.1,174.8h.01M237.5,167.6h.01M229.1,175.5h.01M224.4,182.2h.01M225.9,179.7h.01M224.2,187.5h.01M230.6,181.2h.01M221.4,179.8h.01M229.0,182.4h.01M228.5,181.5h.01M227.0,185.7h.01M235.0,177.5h.01M231.3,181.5h.01M230.7,176.8h.01M227.5,181.3h.01M224.2,180.6h.01M232.8,178.5h.01M230.6,180.8h.01M238.0,167.9h.01M231.0,175.1h.01M227.7,181.5h.01M218.6,190.9h.01M236.5,174.7h.01M237.3,177.7h.01M230.6,181.6h.01M239.8,171.5h.01M220.8,186.7h.01M227.0,176.8h.01M231.8,179.5h.01M229.3,179.0h.01M238.3,169.6h.01M225.8,182.8h.01M238.1,173.3h.01M230.7,176.8h.01M239.2,173.2h.01M221.8,187.3h.01M219.8,192.6h.01M233.5,173.9h.01M223.3,184.0h.01M222.0,187.7h.01M225.5,177.7h.01M232.6,180.0h.01M223.4,183.8h.01M241.4,169.2h.01M228.2,181.1h.01M233.9,172.4h.01M228.0,175.8h.01M219.9,183.5h.01M236.2,174.3h.01M236.9,176.3h.01M231.6,178.2h.01M233.9,176.7h.01M224.6,182.9h.01M230.2,178.8h.01M226.6,181.6h.01M232.9,176.9h.01M235.5,176.4h.01M235.5,176.8h.01M237.7,176.1h.01M233.6,173.8h.01M245.7,168.1h.01M239.0,172.9h.01M229.6,175.9h.01M232.9,175.2h.01M225.6,176.5h.01M237.9,168.3h.01M225.5,184.3h.01M233.0,173.8h.01M231.3,178.5h.01M232.6,178.1h.01M234.8,173.5h.01M225.1,189.7h.01M227.4,178.3h.01M236.1,175.2h.01M231.0,185.0h.01M219.7,191.9h.01M231.2,178.7h.01M232.4,176.0h.01M230.9,174.3h.01M231.5,183.0h.01M218.4,193.0h.01M217.2,187.9h.01M235.3,172.9h.01M225.5,178.5h.01M230.1,178.3h.01M225.1,178.7h.01M232.5,177.9h.01M238.1,173.1h.01M241.3,172.3h.01M217.7,194.9h.01M228.9,176.8h.01M234.8,177.4h.01M220.5,183.8h.01M234.0,173.6h.01M239.5,171.0h.01M226.0,178.6h.01M231.8,172.2h.01M221.8,182.4h.01M243.0,172.2h.01M229.2,178.5h.01M236.7,176.5h.01M229.7,185.7h.01M231.5,180.9h.01M217.7,189.8h.01M230.0,184.8h.01M227.9,177.0h.01M240.9,167.1h.01M229.1,176.0h.01M235.1,174.9h.01M228.8,178.8h.01M226.7,179.7h.01M224.9,187.1h.01M233.9,171.2h.01M225.1,184.5h.01M243.4,166.3h.01M228.9,179.2h.01M232.1,176.5h.01M238.5,174.2h.01M236.4,177.8h.01M228.9,178.3h.01M244.8,159.8h.01M218.8,182.0h.01M231.4,174.4h.01M233.8,169.2h.01M229.6,178.1h.01M226.6,185.3h.01M229.4,180.8h.01M228.3,180.9h.01M228.6,180.4h.01M229.4,177.4h.01M233.2,175.5h.01M224.0,181.2h.01M235.4,178.0h.01M223.0,183.9h.01M235.1,177.4h.01M233.2,172.5h.01M232.5,179.3h.01M232.0,176.4h.01M224.6,184.2h.01M230.7,178.4h.01M241.2,172.4h.01M226.9,182.4h.01M229.4,179.7h.01M241.5,171.3h.01M230.3,176.7h.01M230.6,179.4h.01M229.8,182.3h.01M229.4,176.0h.01M238.2,162.9h.01M229.3,179.2h.01M238.2,174.8h.01M241.5,173.2h.01M232.9,176.6h.01M236.7,172.8h.01M223.3,183.6h.01M235.6,175.7h.01M226.6,185.5h.01M230.5,174.0h.01M235.1,177.3h.01M233.5,174.8h.01M228.2,183.9h.01M232.3,176.9h.01M227.2,178.3h.01M220.0,186.9h.01M238.3,173.7h.01M229.4,183.9h.01M228.2,177.5h.01M238.5,175.3h.01M227.0,178.0h.01M227.0,174.3h.01M233.5,180.2h.01M231.4,175.4h.01M234.2,173.6h.01M237.6,171.0h.01M241.9,167.1h.01M230.7,175.5h.01M224.3,185.0h.01M231.5,174.6h.01M233.5,174.5h.01M227.8,180.7h.01M234.3,177.2h.01M238.5,172.4h.01M225.9,180.5h.01M231.3,174.2h.01M229.5,178.2h.01M230.7,178.8h.01M239.2,175.4h.01M237.4,175.2h.01M226.5,185.1h.01M236.2,169.3h.01M244.3,164.3h.01M220.3,192.9h.01M230.2,176.4h.01M229.4,182.6h.01M231.9,176.1h.01M236.1,170.7h.01M225.4,181.4h.01M227.8,182.9h.01M228.2,177.4h.01M225.5,177.1h.01M232.1,177.3h.01M234.1,174.5h.01M231.8,174.5h.01M231.4,178.1h.01M225.1,185.1h.01M231.9,177.4h.01M231.3,183.7h.01M229.9,176.7h.01M227.1,183.2h.01M228.7,177.8h.01M228.3,183.2h.01M233.0,179.3h.01M229.2,176.1h.01M236.3,174.2h.01M226.9,180.8h.01M226.8,184.2h.01M229.4,180.9h.01" stroke="#5a55c8" stroke-width="0.64" stroke-linecap="round" opacity="0.4" fill="none"/>
<g filter="url(#b6)" transform="translate(228.00,181.00) rotate(-48)" opacity="0.55">
<ellipse cx="0.00" cy="0.00" rx="7.00" ry="3.00" fill="#2446c4"/>
</g>
<g filter="url(#b6)" transform="translate(225.60,183.00) rotate(-60)" opacity="0.9">
<ellipse cx="0.00" cy="0.00" rx="4.40" ry="2.50" fill="#2446c4"/>
<ellipse cx="0.00" cy="0.00" rx="3.26" ry="1.85" fill="#1f93d2"/>
<ellipse cx="0.00" cy="0.00" rx="2.41" ry="1.37" fill="#27c2a0"/>
<ellipse cx="0.00" cy="0.00" rx="1.78" ry="1.01" fill="#6fd23e"/>
<ellipse cx="0.00" cy="0.00" rx="1.32" ry="0.75" fill="#e3e030"/>
</g>
<rect x="217.10" y="162.30" width="49.10" height="35.60" fill="none" stroke="#231f20" stroke-width="0.8" />
<line x1="217.10" y1="175.00" x2="266.20" y2="175.00" stroke="#231f20" stroke-width="0.8" />
<line x1="217.10" y1="179.30" x2="266.20" y2="179.30" stroke="#231f20" stroke-width="0.8" />
<text transform="translate(265.40,197.30)" font-size="6.1" text-anchor="end" fill="#444" stroke="#444" stroke-width="0.1" >55.8</text>
<text transform="translate(242.50,204.60)" font-size="6.1" text-anchor="middle" fill="#444" stroke="#444" stroke-width="0.1" >(Orthochromatic)</text>
<rect x="213.70" y="213.10" width="53.50" height="54.60" fill="#fff" stroke="#8a8a8a" stroke-width="0.5" stroke-dasharray="0.6 0.5"/>
<rect x="213.10" y="225.11" width="1.20" height="0.70" fill="#333" stroke="none" stroke-width="0.7" />
<rect x="213.10" y="240.40" width="1.20" height="0.70" fill="#333" stroke="none" stroke-width="0.7" />
<rect x="213.10" y="255.69" width="1.20" height="0.70" fill="#333" stroke="none" stroke-width="0.7" />
<rect x="225.47" y="267.20" width="0.70" height="1.20" fill="#333" stroke="none" stroke-width="0.7" />
<rect x="240.45" y="267.20" width="0.70" height="1.20" fill="#333" stroke="none" stroke-width="0.7" />
<rect x="255.43" y="267.20" width="0.70" height="1.20" fill="#333" stroke="none" stroke-width="0.7" />
<path d="M233.0,233.0h.01M233.7,232.4h.01M224.1,241.4h.01M226.4,243.7h.01M234.8,230.0h.01M236.2,231.9h.01M236.0,227.4h.01M230.2,233.0h.01M230.6,241.9h.01M218.1,245.4h.01M236.5,233.7h.01M223.3,235.8h.01M222.4,246.2h.01M240.4,230.3h.01M230.3,242.2h.01M232.1,237.5h.01M234.0,239.4h.01M224.6,234.0h.01M230.5,237.4h.01M232.2,232.0h.01M228.4,234.2h.01M230.8,236.7h.01M236.7,236.9h.01M221.0,248.1h.01M232.3,230.2h.01M232.4,234.7h.01M227.4,242.6h.01M244.8,225.0h.01M238.8,232.5h.01M233.1,237.8h.01M227.5,240.3h.01M238.8,233.5h.01M229.7,236.3h.01M234.7,232.1h.01M234.4,235.9h.01M229.1,241.4h.01M233.8,232.3h.01M223.2,241.4h.01M233.6,237.2h.01M221.6,248.3h.01M230.9,231.7h.01M237.9,230.7h.01M232.7,230.6h.01M227.2,243.5h.01M241.1,227.4h.01M230.0,235.4h.01M223.7,247.3h.01M233.9,238.1h.01M229.8,241.5h.01M228.9,240.5h.01M238.8,225.5h.01M237.4,229.7h.01M226.8,241.1h.01M234.4,229.8h.01M229.3,235.6h.01M227.0,239.3h.01M235.9,229.2h.01M238.7,226.9h.01M230.0,241.3h.01M239.1,225.4h.01M233.2,229.3h.01M228.8,236.8h.01M233.8,228.4h.01M227.6,236.8h.01M230.2,232.1h.01M229.6,248.6h.01M230.3,230.9h.01M234.4,227.6h.01M224.1,249.6h.01M237.8,226.0h.01M226.4,242.5h.01M245.3,224.2h.01M233.6,228.8h.01M222.2,246.5h.01M238.3,229.3h.01M234.7,237.8h.01M229.1,242.2h.01M235.7,228.9h.01M232.9,234.6h.01M233.5,229.7h.01M230.8,236.7h.01M232.2,235.0h.01M233.1,233.2h.01M231.1,240.1h.01M227.6,238.3h.01M224.5,238.1h.01M234.6,232.4h.01M232.1,236.8h.01M232.3,237.5h.01M243.4,225.1h.01M233.7,239.9h.01M232.9,227.7h.01M240.3,227.6h.01M234.8,227.8h.01M225.7,238.9h.01M233.1,229.6h.01M229.7,241.2h.01M228.4,239.1h.01M223.4,237.1h.01M231.3,235.4h.01M225.4,245.5h.01M238.6,232.0h.01M226.7,235.9h.01M231.8,236.0h.01M229.8,235.0h.01M224.7,239.6h.01M230.6,234.6h.01M241.3,224.7h.01M233.8,231.5h.01M229.0,234.3h.01M226.2,235.1h.01M222.3,250.0h.01M226.6,242.2h.01M230.1,234.7h.01M235.2,229.7h.01M233.8,231.8h.01M239.6,231.2h.01M234.5,236.8h.01M238.0,235.2h.01M228.3,232.8h.01M233.7,234.3h.01M229.4,236.8h.01M228.0,234.3h.01M240.6,223.5h.01M222.6,238.3h.01M226.9,240.0h.01M241.8,227.6h.01M225.3,237.0h.01M225.2,241.5h.01M236.2,229.1h.01M245.2,229.4h.01M228.7,230.0h.01M238.2,228.5h.01M237.8,233.1h.01M226.2,241.2h.01M231.6,232.6h.01M235.8,230.8h.01M233.3,241.1h.01M236.1,237.3h.01M233.1,238.0h.01M227.8,239.8h.01M234.1,224.5h.01M234.6,231.4h.01M238.7,229.1h.01M229.1,233.1h.01M247.8,216.4h.01M228.7,235.6h.01M230.6,237.3h.01M226.2,245.0h.01M231.6,237.8h.01M218.6,246.5h.01M229.5,236.1h.01M228.7,239.6h.01M232.5,230.8h.01M221.9,248.1h.01M232.2,239.1h.01M236.9,229.8h.01M222.9,242.8h.01M230.1,241.8h.01M223.8,246.9h.01M221.8,243.1h.01M222.3,242.1h.01M230.1,238.4h.01M229.8,239.9h.01M242.6,225.2h.01M224.9,241.5h.01M230.7,235.0h.01M241.0,230.6h.01M244.7,224.4h.01M216.1,250.5h.01M234.3,229.6h.01M230.2,240.4h.01M230.6,232.1h.01M222.6,232.6h.01M229.6,232.8h.01M229.3,233.1h.01M225.5,239.6h.01M246.0,216.5h.01M224.0,241.0h.01M239.7,230.5h.01M235.4,230.4h.01M231.2,232.9h.01M229.3,234.6h.01M221.5,241.7h.01M244.0,224.6h.01M227.3,239.3h.01M231.7,240.1h.01M230.6,234.1h.01M236.6,231.8h.01M226.4,237.7h.01M229.6,231.1h.01M228.5,242.5h.01M239.2,232.2h.01M228.2,236.6h.01M229.4,235.8h.01M239.0,227.2h.01M238.5,225.8h.01M237.3,236.1h.01M226.3,238.2h.01M225.3,235.5h.01M228.9,235.6h.01M243.9,221.3h.01M221.2,249.5h.01M237.4,229.5h.01M235.0,234.9h.01M228.7,238.5h.01M236.0,237.5h.01M240.5,227.2h.01M225.8,244.7h.01M233.9,237.7h.01M232.6,235.2h.01M234.4,229.9h.01M232.5,243.5h.01M228.7,242.0h.01M237.5,232.7h.01M237.3,224.5h.01M233.5,225.6h.01M232.9,235.5h.01M240.1,231.2h.01M225.9,240.1h.01M229.6,234.7h.01M225.8,238.7h.01M241.3,231.1h.01M239.6,234.0h.01M230.3,232.5h.01M228.5,239.4h.01M240.3,231.5h.01M228.5,242.3h.01M230.0,239.4h.01M240.2,232.7h.01M229.3,238.7h.01M233.6,231.8h.01M233.6,235.8h.01M221.0,243.5h.01M246.3,222.6h.01M225.1,234.9h.01M227.3,241.8h.01M236.8,232.1h.01M234.2,230.5h.01M239.1,223.7h.01M234.4,231.7h.01M223.7,246.9h.01M231.7,238.2h.01M239.7,228.1h.01M227.6,238.6h.01M234.3,238.4h.01M240.0,233.3h.01M234.9,229.3h.01M239.2,231.6h.01M232.1,236.8h.01M227.6,234.6h.01M232.9,237.2h.01M225.5,232.9h.01M229.4,242.0h.01M235.4,236.0h.01M226.7,238.8h.01M224.5,239.5h.01M235.2,232.5h.01M229.7,238.6h.01M223.5,242.1h.01M220.2,241.0h.01M221.8,241.0h.01M243.8,228.6h.01M238.1,226.7h.01M233.3,229.3h.01M229.2,238.8h.01M223.0,244.9h.01M231.5,227.6h.01M217.1,248.9h.01M231.5,236.2h.01M226.4,242.9h.01M231.2,233.0h.01M242.0,226.1h.01M239.8,234.5h.01M228.6,237.6h.01M221.3,244.9h.01M239.3,237.5h.01M235.6,232.3h.01M222.9,240.9h.01M218.4,243.3h.01M233.1,235.1h.01M226.1,240.1h.01M228.4,241.1h.01M234.5,230.4h.01M226.8,235.5h.01M233.4,242.2h.01M233.5,237.0h.01M238.2,234.7h.01M228.2,235.3h.01M239.8,230.9h.01M230.2,241.2h.01M231.7,235.2h.01M243.7,225.5h.01M233.1,232.7h.01M235.1,236.1h.01M233.1,231.1h.01M234.3,232.3h.01M233.3,233.0h.01M216.0,244.8h.01M225.3,233.1h.01M227.1,248.0h.01M235.1,230.2h.01M229.4,228.9h.01M235.3,235.7h.01M230.4,231.5h.01M236.5,228.5h.01M228.9,238.9h.01M234.1,241.0h.01M235.3,240.2h.01M232.1,230.1h.01M232.0,235.3h.01M242.8,229.3h.01M245.6,218.9h.01M233.9,242.3h.01M227.3,241.2h.01M239.4,223.8h.01M228.4,235.8h.01M235.8,232.9h.01M233.0,236.7h.01M226.5,239.1h.01M238.6,236.4h.01M231.8,235.5h.01M239.7,227.6h.01M240.0,228.0h.01M239.0,228.8h.01M224.8,238.9h.01M238.1,236.4h.01M242.2,223.6h.01M244.4,218.3h.01M228.8,242.0h.01M224.7,245.9h.01M235.4,234.2h.01M225.6,243.0h.01M237.3,229.6h.01M238.0,229.2h.01M233.3,232.5h.01M223.6,242.9h.01M233.3,230.8h.01M217.4,243.6h.01M239.2,227.0h.01M229.8,242.1h.01M227.9,233.2h.01M227.6,236.0h.01M229.0,234.5h.01M233.2,235.7h.01M228.1,238.2h.01M232.6,237.7h.01M229.2,240.9h.01M238.9,227.5h.01M225.6,240.3h.01M220.4,244.6h.01M224.5,241.9h.01M230.7,238.4h.01M233.4,235.3h.01M232.2,236.0h.01M226.5,243.2h.01M241.8,229.7h.01M224.8,243.9h.01M223.8,246.3h.01M229.8,235.5h.01M227.0,239.1h.01M230.0,233.3h.01M232.8,235.4h.01M234.9,232.0h.01M236.5,239.8h.01M238.5,229.9h.01M224.9,244.6h.01M230.0,226.6h.01M231.7,236.9h.01M232.3,235.2h.01M233.7,238.8h.01M233.6,232.4h.01M234.7,240.7h.01M225.8,239.2h.01M234.1,233.6h.01M236.4,236.1h.01M239.5,229.3h.01M232.0,234.8h.01M232.5,238.5h.01M222.4,240.6h.01M227.3,236.0h.01M229.9,241.9h.01M219.8,249.6h.01M223.7,242.5h.01M226.6,236.6h.01M223.3,244.1h.01M231.8,239.7h.01M242.3,223.6h.01M226.6,239.4h.01M236.6,234.2h.01M227.2,241.8h.01M234.0,237.6h.01M229.1,237.2h.01M224.3,237.6h.01M234.9,235.0h.01M239.1,229.0h.01M227.4,236.1h.01M223.6,240.6h.01M234.1,233.4h.01M218.1,248.6h.01M228.2,234.8h.01M232.9,236.3h.01M223.1,238.6h.01M230.5,237.6h.01M233.5,239.8h.01M230.8,232.3h.01M235.3,229.3h.01M236.2,231.3h.01M237.3,225.9h.01M237.1,231.7h.01M228.0,241.9h.01M246.1,222.4h.01M227.1,239.4h.01M240.2,227.9h.01M239.4,225.1h.01M236.6,224.3h.01M230.4,235.6h.01M231.5,240.5h.01M229.1,239.4h.01M244.6,225.8h.01M228.0,236.2h.01M220.8,247.8h.01M239.4,232.1h.01M237.7,238.0h.01M232.0,226.0h.01M228.3,242.0h.01M231.2,239.2h.01M245.7,218.4h.01M245.0,221.8h.01M223.4,244.1h.01M236.2,228.6h.01M239.6,224.0h.01M232.6,238.1h.01M229.6,235.3h.01M233.2,236.5h.01M245.0,227.5h.01M243.1,223.9h.01M222.0,245.0h.01M227.5,235.6h.01M228.8,238.1h.01M234.1,236.6h.01M228.8,242.9h.01M233.7,236.3h.01M236.9,225.3h.01M240.1,224.2h.01M236.5,234.9h.01M234.4,226.5h.01M235.2,236.4h.01M231.1,235.7h.01M235.7,238.0h.01M226.9,236.5h.01M224.3,240.7h.01M231.3,237.2h.01M228.1,232.2h.01M223.9,245.9h.01M233.6,228.1h.01M232.8,224.7h.01M247.1,222.4h.01M223.1,246.1h.01M230.9,234.4h.01M229.3,236.9h.01M229.6,233.9h.01M229.7,239.6h.01M232.5,229.3h.01M232.1,241.2h.01M239.5,234.1h.01M221.8,241.2h.01M215.1,244.3h.01M227.7,235.3h.01M224.1,240.3h.01M232.5,237.9h.01M231.9,228.3h.01M240.3,225.5h.01M225.9,241.1h.01M226.8,234.8h.01M240.2,224.6h.01M229.4,239.8h.01M243.0,226.0h.01M227.5,241.4h.01M239.4,229.2h.01M234.9,230.3h.01M228.2,232.2h.01M225.4,237.2h.01M235.0,238.0h.01M215.9,246.0h.01M226.2,240.5h.01M237.4,226.6h.01M229.7,242.2h.01M235.3,233.9h.01M235.5,228.6h.01M232.0,232.5h.01M227.9,239.7h.01M232.1,230.0h.01M228.6,241.0h.01M234.3,235.4h.01M228.5,235.4h.01M237.9,231.6h.01M216.6,253.9h.01M228.7,241.0h.01M240.9,225.1h.01M226.7,241.5h.01M233.7,235.7h.01M224.0,244.1h.01M238.8,231.1h.01M238.2,233.7h.01M229.4,242.5h.01M231.3,231.9h.01M230.7,237.4h.01M236.7,235.8h.01M232.1,232.9h.01M244.5,221.3h.01M228.9,241.9h.01M227.9,236.0h.01M227.9,243.9h.01M225.8,241.7h.01M228.9,237.5h.01M227.4,240.3h.01M237.7,233.6h.01M227.5,235.0h.01" stroke="#5a55c8" stroke-width="0.64" stroke-linecap="round" opacity="0.4" fill="none"/>
<path d="M220.6,247.1h.01M218.0,253.8h.01M224.6,247.7h.01M220.9,243.9h.01M222.6,250.5h.01M223.4,250.2h.01M225.8,237.5h.01M223.9,253.4h.01M223.2,247.8h.01M224.2,241.0h.01M230.2,246.5h.01M226.2,244.9h.01M228.2,252.9h.01M227.6,251.9h.01M226.3,254.1h.01M225.6,247.8h.01M226.6,242.7h.01M217.9,251.2h.01M224.9,243.6h.01M223.8,242.4h.01M222.3,248.1h.01M224.8,251.3h.01M224.3,250.3h.01M226.3,243.6h.01M220.1,243.7h.01M223.8,244.5h.01M230.3,243.7h.01M225.7,243.3h.01M226.3,240.8h.01M227.0,248.0h.01M223.5,241.2h.01M228.9,244.3h.01M228.3,235.1h.01M221.4,256.2h.01M229.2,247.2h.01M227.1,250.2h.01M223.6,247.8h.01M221.5,240.4h.01M224.8,250.8h.01M224.9,241.0h.01M226.7,247.6h.01M226.5,245.7h.01M223.8,252.4h.01M228.1,241.1h.01M221.6,252.0h.01M225.4,247.4h.01M221.9,252.2h.01M225.0,248.2h.01M225.5,244.5h.01M225.5,247.8h.01M226.4,249.1h.01M221.2,243.6h.01M223.8,253.0h.01M222.8,252.8h.01M227.3,251.5h.01M230.4,247.1h.01M225.3,253.3h.01M225.6,252.1h.01M224.2,254.2h.01M225.4,237.6h.01M227.3,246.2h.01M222.2,245.7h.01M223.8,252.9h.01M225.4,246.8h.01M224.5,242.7h.01M222.8,244.8h.01M223.9,241.4h.01M223.5,252.2h.01M225.7,247.2h.01M225.4,246.0h.01M221.4,251.6h.01M230.4,249.7h.01M226.3,259.4h.01M221.3,249.8h.01M223.6,245.8h.01M220.2,246.8h.01M225.5,239.2h.01M223.9,244.7h.01M221.9,250.3h.01M228.8,249.3h.01M227.2,251.0h.01M224.3,250.1h.01M228.0,245.1h.01M224.1,240.3h.01M219.6,243.1h.01M226.8,249.0h.01M225.2,253.7h.01M219.9,254.0h.01M224.7,251.0h.01M228.1,243.1h.01M222.2,249.2h.01M224.4,244.3h.01M224.2,243.6h.01M224.9,245.3h.01M228.9,242.0h.01M226.0,247.6h.01M228.6,242.4h.01M223.3,255.8h.01M222.8,245.3h.01M223.5,242.3h.01M227.7,254.7h.01M224.1,243.4h.01M221.0,250.5h.01M223.1,249.9h.01M218.2,245.1h.01M226.1,249.2h.01M217.0,248.6h.01M224.8,247.1h.01M223.6,245.0h.01M224.9,249.7h.01M216.2,247.1h.01M226.9,246.1h.01M227.7,242.5h.01M229.5,251.9h.01M223.4,260.8h.01M228.3,255.0h.01M221.4,246.6h.01M225.7,252.4h.01M224.7,240.7h.01M227.7,246.3h.01M225.6,245.6h.01M224.2,240.4h.01M226.2,244.1h.01M219.9,249.2h.01M224.4,251.9h.01M226.6,241.2h.01M224.0,247.2h.01M224.7,241.9h.01M224.7,252.0h.01M227.7,254.4h.01M226.5,234.7h.01M223.8,244.5h.01M216.9,254.8h.01M226.9,247.1h.01M225.4,249.6h.01M223.9,254.0h.01M229.3,251.2h.01M223.0,248.4h.01M227.1,250.7h.01M222.7,251.9h.01M226.4,250.0h.01M223.4,247.0h.01M219.5,247.0h.01M223.3,245.7h.01M223.8,245.6h.01M224.7,247.6h.01M222.9,246.5h.01M224.3,249.6h.01M225.7,245.4h.01M222.3,239.0h.01M221.2,249.2h.01M222.1,255.1h.01M224.1,245.2h.01M224.1,244.5h.01M222.9,247.5h.01M220.7,247.8h.01M224.3,242.7h.01M227.2,248.9h.01M227.3,243.9h.01M221.3,241.3h.01M220.4,237.8h.01M228.6,244.8h.01M225.0,244.5h.01M224.1,254.9h.01M220.0,242.3h.01M224.9,242.7h.01M226.3,253.5h.01M226.8,250.9h.01M224.1,252.1h.01M222.4,241.3h.01M223.8,245.9h.01M227.7,242.3h.01M227.5,243.3h.01M221.2,238.8h.01M224.4,240.0h.01M225.1,247.4h.01M223.5,237.6h.01M223.1,249.3h.01M219.8,250.6h.01M224.5,244.5h.01M225.0,250.4h.01M224.4,243.3h.01M226.5,243.8h.01M225.4,252.0h.01M227.9,255.0h.01M227.2,247.9h.01M224.0,248.1h.01M225.9,261.9h.01M226.2,243.1h.01M228.5,239.3h.01M227.1,240.8h.01M221.7,244.7h.01M223.8,240.5h.01M226.1,246.6h.01M228.0,242.1h.01M219.8,250.5h.01M223.9,252.0h.01M218.4,241.0h.01M224.7,256.8h.01M221.3,237.7h.01" stroke="#4a50c4" stroke-width="0.64" stroke-linecap="round" opacity="0.45" fill="none"/>
<g filter="url(#b6)" transform="translate(227.50,241.10) rotate(-58)" opacity="0.6">
<ellipse cx="0.00" cy="0.00" rx="11.00" ry="4.60" fill="#2446c4"/>
</g>
<g filter="url(#b6)" transform="translate(226.50,241.60) rotate(-66)" opacity="0.85">
<ellipse cx="0.00" cy="0.00" rx="8.50" ry="3.80" fill="#2446c4"/>
<ellipse cx="0.00" cy="0.00" rx="6.80" ry="3.04" fill="#1f93d2"/>
</g>
<g filter="url(#b6)" transform="translate(226.00,239.70) rotate(-66)" opacity="0.95">
<ellipse cx="0.00" cy="0.00" rx="5.60" ry="3.00" fill="#1f93d2"/>
<ellipse cx="0.30" cy="0.00" rx="4.26" ry="2.28" fill="#27c2a0"/>
<ellipse cx="0.53" cy="0.00" rx="3.23" ry="1.73" fill="#6fd23e"/>
<ellipse cx="0.70" cy="0.00" rx="2.46" ry="1.32" fill="#e3e030"/>
<ellipse cx="0.83" cy="0.00" rx="1.87" ry="1.00" fill="#f08020"/>
<ellipse cx="0.93" cy="0.00" rx="1.42" ry="0.76" fill="#e02a1f"/>
<ellipse cx="1.01" cy="0.00" rx="1.08" ry="0.58" fill="#e02a1f"/>
</g>
<rect x="217.10" y="219.50" width="49.10" height="35.90" fill="none" stroke="#231f20" stroke-width="0.8" />
<line x1="217.10" y1="232.40" x2="266.20" y2="232.40" stroke="#231f20" stroke-width="0.8" />
<line x1="217.10" y1="236.40" x2="266.20" y2="236.40" stroke="#231f20" stroke-width="0.8" />
<text transform="translate(265.40,254.60)" font-size="6.1" text-anchor="end" fill="#444" stroke="#444" stroke-width="0.1" >76.7</text>
<text transform="translate(242.50,263.00)" font-size="6.1" text-anchor="middle" fill="#444" stroke="#444" stroke-width="0.1" >(Orthochromatic)</text>
<text transform="translate(278.20,191.50) rotate(-90) scale(0.92,1)" font-size="6.3" text-anchor="middle" fill="#3a3a3a" stroke="#3a3a3a" stroke-width="0.08" >Control<tspan font-size="7.56" dx="0.63">→</tspan><tspan dx="0.63">WT</tspan></text>
<text transform="translate(278.20,244.70) rotate(-90) scale(0.92,1)" font-size="6.3" text-anchor="middle" fill="#3a3a3a" stroke="#3a3a3a" stroke-width="0.08" ><tspan font-style="italic">Ehbp1l1</tspan><tspan font-style="italic" font-size="4.16" dy="-2.39">−/−</tspan><tspan font-size="7.56" dy="2.39" dx="1.89">→</tspan><tspan dx="0.76">WT</tspan></text>
<text transform="translate(7.40,305.20)" font-size="10.8" text-anchor="start" fill="#000" font-weight="bold" stroke="#000" stroke-width="0.22" >E</text>
<text transform="translate(31.20,361.60) rotate(-90) scale(0.68,1)" font-size="9.2" text-anchor="middle" fill="#231f20" stroke="#231f20" stroke-width="0.35" >% of Lin<tspan font-size="5" dy="-3">−</tspan><tspan dy="3"> cells</tspan></text>
<text transform="translate(68.80,315.40)" font-size="7.5" text-anchor="middle" fill="#231f20" stroke="#231f20" stroke-width="0.22" >Basophilic</text>
<rect x="53.50" y="352.65" width="11.70" height="41.55" fill="#a9d58a" stroke="none" stroke-width="0.7" />
<rect x="71.90" y="352.65" width="11.70" height="41.55" fill="#e8806f" stroke="none" stroke-width="0.7" />
<line x1="47.00" y1="328.00" x2="47.00" y2="394.65" stroke="#231f20" stroke-width="0.9" />
<line x1="46.55" y1="394.20" x2="88.90" y2="394.20" stroke="#231f20" stroke-width="0.9" />
<line x1="44.40" y1="394.20" x2="47.00" y2="394.20" stroke="#231f20" stroke-width="0.8" />
<text transform="translate(42.80,396.80)" font-size="7.4" text-anchor="end" fill="#231f20" stroke="#231f20" stroke-width="0.22" >0</text>
<line x1="44.40" y1="378.40" x2="47.00" y2="378.40" stroke="#231f20" stroke-width="0.8" />
<text transform="translate(42.80,381.00)" font-size="7.4" text-anchor="end" fill="#231f20" stroke="#231f20" stroke-width="0.22" >1</text>
<line x1="44.40" y1="362.60" x2="47.00" y2="362.60" stroke="#231f20" stroke-width="0.8" />
<text transform="translate(42.80,365.20)" font-size="7.4" text-anchor="end" fill="#231f20" stroke="#231f20" stroke-width="0.22" >2</text>
<line x1="44.40" y1="346.80" x2="47.00" y2="346.80" stroke="#231f20" stroke-width="0.8" />
<text transform="translate(42.80,349.40)" font-size="7.4" text-anchor="end" fill="#231f20" stroke="#231f20" stroke-width="0.22" >3</text>
<line x1="44.40" y1="331.00" x2="47.00" y2="331.00" stroke="#231f20" stroke-width="0.8" />
<text transform="translate(42.80,333.60)" font-size="7.4" text-anchor="end" fill="#231f20" stroke="#231f20" stroke-width="0.22" >4</text>
<line x1="59.35" y1="394.20" x2="59.35" y2="396.80" stroke="#231f20" stroke-width="0.8" />
<line x1="77.75" y1="394.20" x2="77.75" y2="396.80" stroke="#231f20" stroke-width="0.8" />
<line x1="59.35" y1="345.54" x2="59.35" y2="359.76" stroke="#45ae3c" stroke-width="0.8" />
<line x1="56.05" y1="345.54" x2="62.65" y2="345.54" stroke="#45ae3c" stroke-width="0.8" />
<line x1="56.05" y1="359.76" x2="62.65" y2="359.76" stroke="#45ae3c" stroke-width="0.8" />
<line x1="77.75" y1="350.59" x2="77.75" y2="354.70" stroke="#cc1a36" stroke-width="0.8" />
<line x1="74.45" y1="350.59" x2="81.05" y2="350.59" stroke="#cc1a36" stroke-width="0.8" />
<line x1="74.45" y1="354.70" x2="81.05" y2="354.70" stroke="#cc1a36" stroke-width="0.8" />
<circle cx="59.35" cy="336.21" r="1.50" fill="#fff" stroke="#45ae3c" stroke-width="0.85" fill-opacity="0.75"/>
<circle cx="59.35" cy="339.37" r="1.50" fill="#fff" stroke="#45ae3c" stroke-width="0.85" fill-opacity="0.75"/>
<circle cx="60.35" cy="347.91" r="1.50" fill="#fff" stroke="#45ae3c" stroke-width="0.85" fill-opacity="0.75"/>
<circle cx="59.35" cy="364.97" r="1.50" fill="#fff" stroke="#45ae3c" stroke-width="0.85" fill-opacity="0.75"/>
<circle cx="59.35" cy="370.50" r="1.50" fill="#fff" stroke="#45ae3c" stroke-width="0.85" fill-opacity="0.75"/>
<circle cx="74.75" cy="350.43" r="1.50" fill="#fff" stroke="#cc1a36" stroke-width="0.85" fill-opacity="0.75"/>
<circle cx="80.15" cy="347.91" r="1.50" fill="#fff" stroke="#cc1a36" stroke-width="0.85" fill-opacity="0.75"/>
<circle cx="76.35" cy="353.91" r="1.50" fill="#fff" stroke="#cc1a36" stroke-width="0.85" fill-opacity="0.75"/>
<circle cx="80.15" cy="353.12" r="1.50" fill="#fff" stroke="#cc1a36" stroke-width="0.85" fill-opacity="0.75"/>
<circle cx="74.35" cy="355.49" r="1.50" fill="#fff" stroke="#cc1a36" stroke-width="0.85" fill-opacity="0.75"/>
<text transform="translate(61.95,403.40) rotate(-45)" font-size="7.5" text-anchor="end" fill="#231f20" stroke="#231f20" stroke-width="0.22" >Control<tspan font-size="9.00" dx="0.75">→</tspan><tspan dx="0.75">WT</tspan></text>
<text transform="translate(80.35,403.40) rotate(-45)" font-size="7.5" text-anchor="end" fill="#231f20" stroke="#231f20" stroke-width="0.22" ><tspan font-style="italic" letter-spacing="0.45">Ehbp1l1</tspan><tspan font-style="italic" font-size="6.75" dy="-2.40" letter-spacing="0.2">−/−</tspan><tspan font-size="9.75" dy="2.40" dx="1.88">→</tspan><tspan dx="0.90">WT</tspan></text>
<text transform="translate(130.50,315.40)" font-size="7.5" text-anchor="middle" fill="#231f20" stroke="#231f20" stroke-width="0.22" >Polychromatic</text>
<rect x="116.00" y="371.04" width="11.60" height="23.16" fill="#a9d58a" stroke="none" stroke-width="0.7" />
<rect x="134.20" y="356.31" width="11.60" height="37.89" fill="#e8806f" stroke="none" stroke-width="0.7" />
<line x1="109.70" y1="328.00" x2="109.70" y2="394.65" stroke="#231f20" stroke-width="0.9" />
<line x1="109.25" y1="394.20" x2="150.70" y2="394.20" stroke="#231f20" stroke-width="0.9" />
<line x1="107.10" y1="394.20" x2="109.70" y2="394.20" stroke="#231f20" stroke-width="0.8" />
<text transform="translate(105.50,396.80)" font-size="7.4" text-anchor="end" fill="#231f20" stroke="#231f20" stroke-width="0.22" >0</text>
<line x1="107.10" y1="373.15" x2="109.70" y2="373.15" stroke="#231f20" stroke-width="0.8" />
<text transform="translate(105.50,375.75)" font-size="7.4" text-anchor="end" fill="#231f20" stroke="#231f20" stroke-width="0.22" >5</text>
<line x1="107.10" y1="352.10" x2="109.70" y2="352.10" stroke="#231f20" stroke-width="0.8" />
<text transform="translate(105.50,354.70)" font-size="7.4" text-anchor="end" fill="#231f20" stroke="#231f20" stroke-width="0.22" >10</text>
<line x1="107.10" y1="331.05" x2="109.70" y2="331.05" stroke="#231f20" stroke-width="0.8" />
<text transform="translate(105.50,333.65)" font-size="7.4" text-anchor="end" fill="#231f20" stroke="#231f20" stroke-width="0.22" >15</text>
<line x1="121.80" y1="394.20" x2="121.80" y2="396.80" stroke="#231f20" stroke-width="0.8" />
<line x1="140.00" y1="394.20" x2="140.00" y2="396.80" stroke="#231f20" stroke-width="0.8" />
<line x1="121.80" y1="368.31" x2="121.80" y2="373.78" stroke="#45ae3c" stroke-width="0.8" />
<line x1="118.50" y1="368.31" x2="125.10" y2="368.31" stroke="#45ae3c" stroke-width="0.8" />
<line x1="118.50" y1="373.78" x2="125.10" y2="373.78" stroke="#45ae3c" stroke-width="0.8" />
<line x1="140.00" y1="354.84" x2="140.00" y2="357.78" stroke="#cc1a36" stroke-width="0.8" />
<line x1="136.70" y1="354.84" x2="143.30" y2="354.84" stroke="#cc1a36" stroke-width="0.8" />
<line x1="136.70" y1="357.78" x2="143.30" y2="357.78" stroke="#cc1a36" stroke-width="0.8" />
<circle cx="121.80" cy="360.10" r="1.50" fill="#fff" stroke="#45ae3c" stroke-width="0.85" fill-opacity="0.75"/>
<circle cx="121.80" cy="367.26" r="1.50" fill="#fff" stroke="#45ae3c" stroke-width="0.85" fill-opacity="0.75"/>
<circle cx="120.40" cy="373.57" r="1.50" fill="#fff" stroke="#45ae3c" stroke-width="0.85" fill-opacity="0.75"/>
<circle cx="123.80" cy="373.57" r="1.50" fill="#fff" stroke="#45ae3c" stroke-width="0.85" fill-opacity="0.75"/>
<circle cx="121.80" cy="376.52" r="1.50" fill="#fff" stroke="#45ae3c" stroke-width="0.85" fill-opacity="0.75"/>
<circle cx="140.00" cy="350.00" r="1.50" fill="#fff" stroke="#cc1a36" stroke-width="0.85" fill-opacity="0.75"/>
<circle cx="137.20" cy="355.89" r="1.50" fill="#fff" stroke="#cc1a36" stroke-width="0.85" fill-opacity="0.75"/>
<circle cx="140.00" cy="356.94" r="1.50" fill="#fff" stroke="#cc1a36" stroke-width="0.85" fill-opacity="0.75"/>
<circle cx="143.40" cy="356.94" r="1.50" fill="#fff" stroke="#cc1a36" stroke-width="0.85" fill-opacity="0.75"/>
<circle cx="139.00" cy="355.05" r="1.50" fill="#fff" stroke="#cc1a36" stroke-width="0.85" fill-opacity="0.75"/>
<path d="M121.80,357.00 L121.80,337.60 L140.00,337.60 L140.00,344.20" fill="none" stroke="#231f20" stroke-width="0.8" />
<text transform="translate(130.90,337.40)" font-size="7.6" text-anchor="middle" fill="#231f20" stroke="#231f20" stroke-width="0.22" letter-spacing="0.1">**</text>
<text transform="translate(124.40,403.40) rotate(-45)" font-size="7.5" text-anchor="end" fill="#231f20" stroke="#231f20" stroke-width="0.22" >Control<tspan font-size="9.00" dx="0.75">→</tspan><tspan dx="0.75">WT</tspan></text>
<text transform="translate(142.60,403.40) rotate(-45)" font-size="7.5" text-anchor="end" fill="#231f20" stroke="#231f20" stroke-width="0.22" ><tspan font-style="italic" letter-spacing="0.45">Ehbp1l1</tspan><tspan font-style="italic" font-size="6.75" dy="-2.40" letter-spacing="0.2">−/−</tspan><tspan font-size="9.75" dy="2.40" dx="1.88">→</tspan><tspan dx="0.90">WT</tspan></text>
<text transform="translate(196.00,315.40)" font-size="7.5" text-anchor="middle" fill="#231f20" stroke="#231f20" stroke-width="0.22" >Orthochromatic</text>
<rect x="181.00" y="379.03" width="11.50" height="15.17" fill="#a9d58a" stroke="none" stroke-width="0.7" />
<rect x="199.70" y="342.38" width="11.50" height="51.82" fill="#e8806f" stroke="none" stroke-width="0.7" />
<line x1="175.20" y1="328.00" x2="175.20" y2="394.65" stroke="#231f20" stroke-width="0.9" />
<line x1="174.75" y1="394.20" x2="216.00" y2="394.20" stroke="#231f20" stroke-width="0.9" />
<line x1="172.60" y1="394.20" x2="175.20" y2="394.20" stroke="#231f20" stroke-width="0.8" />
<text transform="translate(171.00,396.80)" font-size="7.4" text-anchor="end" fill="#231f20" stroke="#231f20" stroke-width="0.22" >0</text>
<line x1="172.60" y1="381.56" x2="175.20" y2="381.56" stroke="#231f20" stroke-width="0.8" />
<text transform="translate(171.00,384.16)" font-size="7.4" text-anchor="end" fill="#231f20" stroke="#231f20" stroke-width="0.22" >10</text>
<line x1="172.60" y1="368.92" x2="175.20" y2="368.92" stroke="#231f20" stroke-width="0.8" />
<text transform="translate(171.00,371.52)" font-size="7.4" text-anchor="end" fill="#231f20" stroke="#231f20" stroke-width="0.22" >20</text>
<line x1="172.60" y1="356.28" x2="175.20" y2="356.28" stroke="#231f20" stroke-width="0.8" />
<text transform="translate(171.00,358.88)" font-size="7.4" text-anchor="end" fill="#231f20" stroke="#231f20" stroke-width="0.22" >30</text>
<line x1="172.60" y1="343.64" x2="175.20" y2="343.64" stroke="#231f20" stroke-width="0.8" />
<text transform="translate(171.00,346.24)" font-size="7.4" text-anchor="end" fill="#231f20" stroke="#231f20" stroke-width="0.22" >40</text>
<line x1="172.60" y1="331.00" x2="175.20" y2="331.00" stroke="#231f20" stroke-width="0.8" />
<text transform="translate(171.00,333.60)" font-size="7.4" text-anchor="end" fill="#231f20" stroke="#231f20" stroke-width="0.22" >50</text>
<line x1="186.75" y1="394.20" x2="186.75" y2="396.80" stroke="#231f20" stroke-width="0.8" />
<line x1="205.45" y1="394.20" x2="205.45" y2="396.80" stroke="#231f20" stroke-width="0.8" />
<line x1="186.75" y1="377.01" x2="186.75" y2="381.05" stroke="#45ae3c" stroke-width="0.8" />
<line x1="183.45" y1="377.01" x2="190.05" y2="377.01" stroke="#45ae3c" stroke-width="0.8" />
<line x1="183.45" y1="381.05" x2="190.05" y2="381.05" stroke="#45ae3c" stroke-width="0.8" />
<line x1="205.45" y1="340.35" x2="205.45" y2="344.40" stroke="#cc1a36" stroke-width="0.8" />
<line x1="202.15" y1="340.35" x2="208.75" y2="340.35" stroke="#cc1a36" stroke-width="0.8" />
<line x1="202.15" y1="344.40" x2="208.75" y2="344.40" stroke="#cc1a36" stroke-width="0.8" />
<circle cx="186.75" cy="371.45" r="1.50" fill="#fff" stroke="#45ae3c" stroke-width="0.85" fill-opacity="0.75"/>
<circle cx="186.75" cy="377.14" r="1.50" fill="#fff" stroke="#45ae3c" stroke-width="0.85" fill-opacity="0.75"/>
<circle cx="185.25" cy="380.30" r="1.50" fill="#fff" stroke="#45ae3c" stroke-width="0.85" fill-opacity="0.75"/>
<circle cx="188.55" cy="380.93" r="1.50" fill="#fff" stroke="#45ae3c" stroke-width="0.85" fill-opacity="0.75"/>
<circle cx="186.75" cy="382.19" r="1.50" fill="#fff" stroke="#45ae3c" stroke-width="0.85" fill-opacity="0.75"/>
<circle cx="205.45" cy="335.42" r="1.50" fill="#fff" stroke="#cc1a36" stroke-width="0.85" fill-opacity="0.75"/>
<circle cx="204.45" cy="341.11" r="1.50" fill="#fff" stroke="#cc1a36" stroke-width="0.85" fill-opacity="0.75"/>
<circle cx="206.95" cy="343.64" r="1.50" fill="#fff" stroke="#cc1a36" stroke-width="0.85" fill-opacity="0.75"/>
<circle cx="205.45" cy="346.80" r="1.50" fill="#fff" stroke="#cc1a36" stroke-width="0.85" fill-opacity="0.75"/>
<circle cx="205.45" cy="342.38" r="1.50" fill="#fff" stroke="#cc1a36" stroke-width="0.85" fill-opacity="0.75"/>
<path d="M186.75,367.30 L186.75,324.00 L205.45,324.00 L205.45,330.40" fill="none" stroke="#231f20" stroke-width="0.8" />
<text transform="translate(196.10,323.80)" font-size="7.6" text-anchor="middle" fill="#231f20" stroke="#231f20" stroke-width="0.22" letter-spacing="0.1">****</text>
<text transform="translate(189.35,403.40) rotate(-45)" font-size="7.5" text-anchor="end" fill="#231f20" stroke="#231f20" stroke-width="0.22" >Control<tspan font-size="9.00" dx="0.75">→</tspan><tspan dx="0.75">WT</tspan></text>
<text transform="translate(208.05,403.40) rotate(-45)" font-size="7.5" text-anchor="end" fill="#231f20" stroke="#231f20" stroke-width="0.22" ><tspan font-style="italic" letter-spacing="0.45">Ehbp1l1</tspan><tspan font-style="italic" font-size="6.75" dy="-2.40" letter-spacing="0.2">−/−</tspan><tspan font-size="9.75" dy="2.40" dx="1.88">→</tspan><tspan dx="0.90">WT</tspan></text>
<text transform="translate(261.70,315.40)" font-size="7.5" text-anchor="middle" fill="#231f20" stroke="#231f20" stroke-width="0.22" >Enucleated</text>
<rect x="246.40" y="346.01" width="11.60" height="48.19" fill="#a9d58a" stroke="none" stroke-width="0.7" />
<rect x="265.20" y="374.06" width="11.50" height="20.14" fill="#e8806f" stroke="none" stroke-width="0.7" />
<line x1="240.10" y1="328.00" x2="240.10" y2="394.65" stroke="#231f20" stroke-width="0.9" />
<line x1="239.65" y1="394.20" x2="282.00" y2="394.20" stroke="#231f20" stroke-width="0.9" />
<line x1="237.50" y1="394.20" x2="240.10" y2="394.20" stroke="#231f20" stroke-width="0.8" />
<text transform="translate(235.90,396.80)" font-size="7.4" text-anchor="end" fill="#231f20" stroke="#231f20" stroke-width="0.22" >0</text>
<line x1="237.50" y1="378.40" x2="240.10" y2="378.40" stroke="#231f20" stroke-width="0.8" />
<text transform="translate(235.90,381.00)" font-size="7.4" text-anchor="end" fill="#231f20" stroke="#231f20" stroke-width="0.22" >20</text>
<line x1="237.50" y1="362.60" x2="240.10" y2="362.60" stroke="#231f20" stroke-width="0.8" />
<text transform="translate(235.90,365.20)" font-size="7.4" text-anchor="end" fill="#231f20" stroke="#231f20" stroke-width="0.22" >40</text>
<line x1="237.50" y1="346.80" x2="240.10" y2="346.80" stroke="#231f20" stroke-width="0.8" />
<text transform="translate(235.90,349.40)" font-size="7.4" text-anchor="end" fill="#231f20" stroke="#231f20" stroke-width="0.22" >60</text>
<line x1="237.50" y1="331.00" x2="240.10" y2="331.00" stroke="#231f20" stroke-width="0.8" />
<text transform="translate(235.90,333.60)" font-size="7.4" text-anchor="end" fill="#231f20" stroke="#231f20" stroke-width="0.22" >80</text>
<line x1="252.20" y1="394.20" x2="252.20" y2="396.80" stroke="#231f20" stroke-width="0.8" />
<line x1="270.95" y1="394.20" x2="270.95" y2="396.80" stroke="#231f20" stroke-width="0.8" />
<line x1="252.20" y1="344.19" x2="252.20" y2="347.83" stroke="#45ae3c" stroke-width="0.8" />
<line x1="248.90" y1="344.19" x2="255.50" y2="344.19" stroke="#45ae3c" stroke-width="0.8" />
<line x1="248.90" y1="347.83" x2="255.50" y2="347.83" stroke="#45ae3c" stroke-width="0.8" />
<line x1="270.95" y1="373.11" x2="270.95" y2="375.00" stroke="#cc1a36" stroke-width="0.8" />
<line x1="267.65" y1="373.11" x2="274.25" y2="373.11" stroke="#cc1a36" stroke-width="0.8" />
<line x1="267.65" y1="375.00" x2="274.25" y2="375.00" stroke="#cc1a36" stroke-width="0.8" />
<circle cx="249.20" cy="340.48" r="1.50" fill="#fff" stroke="#45ae3c" stroke-width="0.85" fill-opacity="0.75"/>
<circle cx="254.20" cy="342.85" r="1.50" fill="#fff" stroke="#45ae3c" stroke-width="0.85" fill-opacity="0.75"/>
<circle cx="252.20" cy="346.80" r="1.50" fill="#fff" stroke="#45ae3c" stroke-width="0.85" fill-opacity="0.75"/>
<circle cx="249.70" cy="349.17" r="1.50" fill="#fff" stroke="#45ae3c" stroke-width="0.85" fill-opacity="0.75"/>
<circle cx="254.70" cy="348.38" r="1.50" fill="#fff" stroke="#45ae3c" stroke-width="0.85" fill-opacity="0.75"/>
<circle cx="252.20" cy="353.12" r="1.50" fill="#fff" stroke="#45ae3c" stroke-width="0.85" fill-opacity="0.75"/>
<circle cx="268.45" cy="371.69" r="1.50" fill="#fff" stroke="#cc1a36" stroke-width="0.85" fill-opacity="0.75"/>
<circle cx="273.95" cy="370.89" r="1.50" fill="#fff" stroke="#cc1a36" stroke-width="0.85" fill-opacity="0.75"/>
<circle cx="270.95" cy="374.06" r="1.50" fill="#fff" stroke="#cc1a36" stroke-width="0.85" fill-opacity="0.75"/>
<circle cx="268.95" cy="375.24" r="1.50" fill="#fff" stroke="#cc1a36" stroke-width="0.85" fill-opacity="0.75"/>
<circle cx="273.55" cy="374.45" r="1.50" fill="#fff" stroke="#cc1a36" stroke-width="0.85" fill-opacity="0.75"/>
<circle cx="270.95" cy="376.43" r="1.50" fill="#fff" stroke="#cc1a36" stroke-width="0.85" fill-opacity="0.75"/>
<path d="M252.20,337.60 L252.20,326.00 L270.95,326.00 L270.95,367.30" fill="none" stroke="#231f20" stroke-width="0.8" />
<text transform="translate(261.57,325.80)" font-size="7.6" text-anchor="middle" fill="#231f20" stroke="#231f20" stroke-width="0.22" letter-spacing="0.1">****</text>
<text transform="translate(254.80,403.40) rotate(-45)" font-size="7.5" text-anchor="end" fill="#231f20" stroke="#231f20" stroke-width="0.22" >Control<tspan font-size="9.00" dx="0.75">→</tspan><tspan dx="0.75">WT</tspan></text>
<text transform="translate(273.55,403.40) rotate(-45)" font-size="7.5" text-anchor="end" fill="#231f20" stroke="#231f20" stroke-width="0.22" ><tspan font-style="italic" letter-spacing="0.45">Ehbp1l1</tspan><tspan font-style="italic" font-size="6.75" dy="-2.40" letter-spacing="0.2">−/−</tspan><tspan font-size="9.75" dy="2.40" dx="1.88">→</tspan><tspan dx="0.90">WT</tspan></text>
<text transform="translate(7.30,469.60)" font-size="10.8" text-anchor="start" fill="#000" font-weight="bold" stroke="#000" stroke-width="0.22" >I</text>
<rect x="49.40" y="475.40" width="68.20" height="63.10" fill="url(#ibg)" stroke="none" stroke-width="0.7" />
<g filter="url(#ib2)" opacity="0.45">
<path d="M70.00,506.00 L82.00,497.00 L86.00,499.00 L74.00,509.00 Z" fill="#dfe2e2" stroke="none" stroke-width="0.7" />
<path d="M96.00,504.00 L108.00,496.00 L111.00,498.00 L99.00,507.00 Z" fill="#dde0e0" stroke="none" stroke-width="0.7" />
<path d="M56.00,503.00 L62.00,499.00 L64.00,501.00 L58.00,505.00 Z" fill="#dde0e0" stroke="none" stroke-width="0.7" />
</g>
<g filter="url(#ib)">
<path d="M0.00,-6.50 C3.22,-6.50 3.22,-1.95 2.42,0.00 C3.22,2.60 3.10,6.50 0.00,6.50 C-2.18,6.50 -1.26,2.60 -1.44,0.00 C-1.26,-2.60 -2.18,-6.50 0.00,-6.50 Z" transform="translate(59.60,486.90) rotate(-4)" fill="#1e090c"/>
<path d="M0.00,-5.40 C2.18,-5.40 1.56,-1.62 2.21,0.00 C1.56,2.16 2.07,5.40 0.00,5.40 C-3.22,5.40 -3.13,2.16 -2.99,0.00 C-3.13,-2.16 -3.22,-5.40 0.00,-5.40 Z" transform="translate(75.00,486.40) rotate(6)" fill="#1e090c"/>
<path d="M0.00,-7.30 C3.36,-7.30 3.36,-2.19 2.52,0.00 C3.36,2.92 3.24,7.30 0.00,7.30 C-2.28,7.30 -1.32,2.92 -1.50,0.00 C-1.32,-2.92 -2.28,-7.30 0.00,-7.30 Z" transform="translate(88.40,486.20) rotate(-12)" fill="#1e090c"/>
<path d="M0.00,-6.50 C2.62,-6.50 2.44,-1.95 2.14,0.00 C2.44,2.60 2.52,6.50 0.00,6.50 C-2.31,6.50 -1.72,2.60 -1.79,0.00 C-1.72,-2.60 -2.31,-6.50 0.00,-6.50 Z" transform="translate(104.20,485.40) rotate(2)" fill="#1e090c"/>
<path d="M0.00,-10.75 C5.04,-10.75 4.03,-3.23 4.70,0.00 C4.03,4.30 4.80,10.75 0.00,10.75 C-6.24,10.75 -5.66,4.30 -5.52,0.00 C-5.66,-4.30 -6.24,-10.75 0.00,-10.75 Z" transform="translate(59.40,522.30) rotate(3)" fill="#1e090c"/>
<path d="M0.00,-12.30 C7.05,-12.30 7.33,-3.69 5.03,0.00 C7.33,4.92 6.82,12.30 0.00,12.30 C-3.99,12.30 -1.74,4.92 -2.23,0.00 C-1.74,-4.92 -3.99,-12.30 0.00,-12.30 Z" transform="translate(74.60,521.50) rotate(-6)" fill="#1e090c"/>
<path d="M0.00,-11.90 C4.30,-11.90 3.27,-3.57 4.17,0.00 C3.27,4.76 4.09,11.90 0.00,11.90 C-5.80,11.90 -5.46,4.76 -5.27,0.00 C-5.46,-4.76 -5.80,-11.90 0.00,-11.90 Z" transform="translate(91.20,522.30) rotate(4)" fill="#1e090c"/>
<path d="M0.00,-11.50 C6.21,-11.50 6.07,-3.45 4.78,0.00 C6.07,4.60 5.98,11.50 0.00,11.50 C-4.60,11.50 -2.94,4.60 -3.22,0.00 C-2.94,-4.60 -4.60,-11.50 0.00,-11.50 Z" transform="translate(107.30,519.80) rotate(-3)" fill="#1e090c"/>
</g>
<circle cx="60.00" cy="520.00" r="0.50" fill="#7a5a5e" stroke="none" stroke-width="0.7" opacity="0.7"/>
<circle cx="58.50" cy="526.00" r="0.50" fill="#7a5a5e" stroke="none" stroke-width="0.7" opacity="0.7"/>
<circle cx="75.00" cy="518.00" r="0.50" fill="#7a5a5e" stroke="none" stroke-width="0.7" opacity="0.7"/>
<circle cx="76.00" cy="527.00" r="0.50" fill="#7a5a5e" stroke="none" stroke-width="0.7" opacity="0.7"/>
<circle cx="91.00" cy="519.00" r="0.50" fill="#7a5a5e" stroke="none" stroke-width="0.7" opacity="0.7"/>
<circle cx="92.00" cy="526.00" r="0.50" fill="#7a5a5e" stroke="none" stroke-width="0.7" opacity="0.7"/>
<circle cx="107.00" cy="516.00" r="0.50" fill="#7a5a5e" stroke="none" stroke-width="0.7" opacity="0.7"/>
<circle cx="106.50" cy="523.00" r="0.50" fill="#7a5a5e" stroke="none" stroke-width="0.7" opacity="0.7"/>
<line x1="104.20" y1="535.40" x2="113.50" y2="535.40" stroke="#222" stroke-width="1.0" />
<rect x="49.40" y="475.40" width="68.20" height="63.10" fill="none" stroke="#3a3a3a" stroke-width="1.2" />
<text transform="translate(30.00,488.00) rotate(-90)" font-size="7.5" text-anchor="middle" fill="#231f20" stroke="#231f20" stroke-width="0.22" >Control</text>
<text transform="translate(35.20,487.50) rotate(90)" font-size="8.5" text-anchor="middle" fill="#444" stroke="#444" stroke-width="0.1" >→</text>
<text transform="translate(47.20,488.00) rotate(-90)" font-size="7.5" text-anchor="middle" fill="#231f20" stroke="#231f20" stroke-width="0.22" >WT</text>
<text transform="translate(30.00,526.00) rotate(-90)" font-size="7.5" text-anchor="middle" fill="#231f20" stroke="#231f20" stroke-width="0.22" ><tspan font-style="italic">Ehbp1l1</tspan><tspan font-style="italic" font-size="4.95" dy="-2.85">−/−</tspan></text>
<text transform="translate(35.20,525.80) rotate(90)" font-size="8.5" text-anchor="middle" fill="#444" stroke="#444" stroke-width="0.1" >→</text>
<text transform="translate(47.20,525.00) rotate(-90)" font-size="7.5" text-anchor="middle" fill="#231f20" stroke="#231f20" stroke-width="0.22" >WT</text>
<text transform="translate(305.80,16.10)" font-size="10.8" text-anchor="start" fill="#000" font-weight="bold" stroke="#000" stroke-width="0.22" >F</text>
<text transform="translate(372.10,23.70)" font-size="7.5" text-anchor="middle" fill="#231f20" stroke="#231f20" stroke-width="0.22" >Control<tspan font-size="9.00" dx="0.75">→</tspan><tspan dx="0.75">WT</tspan></text>
<text transform="translate(467.50,23.70)" font-size="7.5" text-anchor="middle" fill="#231f20" stroke="#231f20" stroke-width="0.22" ><tspan font-style="italic">Ehbp1l1</tspan><tspan font-style="italic" font-size="4.95" dy="-2.85">−/−</tspan><tspan font-size="9.00" dy="2.85" dx="2.25">→</tspan><tspan dx="0.90">WT</tspan></text>
<text transform="translate(320.90,131.80) rotate(-90)" font-size="7.1" text-anchor="middle" fill="#231f20" stroke="#231f20" stroke-width="0.22" >Enlarged</text>
<rect x="324.90" y="27.60" width="188.90" height="138.60" fill="#b0a4aa" stroke="none" stroke-width="0.7" />
<g clip-path="url(#cF1)">
<g filter="url(#fblur)">
<rect x="322.90" y="25.60" width="97.90" height="72.90" fill="#e34a88" stroke="none" stroke-width="0.7" />
<rect x="324.90" y="27.60" width="93.90" height="68.90" fill="#000" filter="url(#tA)" opacity="0.28"/>
<rect x="324.90" y="27.60" width="93.90" height="68.90" fill="#000" filter="url(#tB)" opacity="0.25"/>
<ellipse cx="395.50" cy="33.10" rx="3.30" ry="2.20" fill="#cfdcd6" opacity="1" transform="rotate(-20 395.50 33.10)" filter="url(#ib)"/>
<ellipse cx="412.40" cy="50.00" rx="2.30" ry="1.70" fill="#cfdcd6" opacity="1" transform="rotate(20 412.40 50.00)" filter="url(#ib)"/>
<ellipse cx="367.80" cy="35.60" rx="1.00" ry="1.80" fill="#f4d6e2" opacity="1" transform="rotate(0 367.80 35.60)" filter="url(#ib)"/>
<path d="M396.4,65.6 L398.8,64.6 L403,68 L407.4,72.8 L409.6,77.6 L408.2,80 L404.2,77.6 L399.6,74.2 L397,70 Z" fill="#c4dcd6" stroke="#f0a0c0" stroke-width="0.7" filter="url(#ib)"/>
<path d="M408.2,79.4 L412.4,87.6 M409.8,78 L413.4,86.2" stroke="#eef2f0" stroke-width="0.9" fill="none" filter="url(#ib)"/>
<path d="M399.5,68.5 L405.5,75.5" stroke="#e8a0bc" stroke-width="0.8" fill="none" opacity="0.8"/>
<ellipse cx="336.40" cy="80.40" rx="0.70" ry="0.70" fill="#f8d8e6" opacity="1" transform="rotate(0 336.40 80.40)" filter="url(#ib)"/>
<ellipse cx="372.40" cy="49.00" rx="0.70" ry="0.70" fill="#f8d8e6" opacity="1" transform="rotate(0 372.40 49.00)" filter="url(#ib)"/>
<ellipse cx="367.80" cy="81.70" rx="0.70" ry="0.70" fill="#f8d8e6" opacity="1" transform="rotate(0 367.80 81.70)" filter="url(#ib)"/>
<ellipse cx="352.00" cy="60.00" rx="0.70" ry="0.70" fill="#f8d8e6" opacity="1" transform="rotate(0 352.00 60.00)" filter="url(#ib)"/>
<ellipse cx="345.00" cy="42.00" rx="0.70" ry="0.70" fill="#f8d8e6" opacity="1" transform="rotate(0 345.00 42.00)" filter="url(#ib)"/>
<ellipse cx="385.00" cy="58.00" rx="0.70" ry="0.70" fill="#f8d8e6" opacity="1" transform="rotate(0 385.00 58.00)" filter="url(#ib)"/>
<rect x="358.20" y="75.40" width="20.00" height="14.60" fill="none" stroke="#2a0a1a" stroke-width="0.9" />
<line x1="402.80" y1="93.90" x2="415.30" y2="93.90" stroke="#5a1030" stroke-width="0.9" />
</g>
</g>
<g clip-path="url(#cF2)">
<g filter="url(#fblur)">
<rect x="418.20" y="25.60" width="97.60" height="72.90" fill="#e6386a" stroke="none" stroke-width="0.7" />
<rect x="420.20" y="27.60" width="93.60" height="68.90" fill="#000" filter="url(#tA)" opacity="0.35"/>
<rect x="420.20" y="27.60" width="93.60" height="68.90" fill="#000" filter="url(#tB)" opacity="0.3"/>
<g filter="url(#fP)" opacity="0.85">
<ellipse cx="437.20" cy="35.60" rx="3.90" ry="5.70" fill="#000" opacity="1" transform="rotate(10 437.20 35.60)"/>
<ellipse cx="436.30" cy="44.20" rx="2.70" ry="3.60" fill="#000" opacity="1" transform="rotate(0 436.30 44.20)"/>
<ellipse cx="507.40" cy="33.70" rx="7.50" ry="6.90" fill="#000" opacity="1" transform="rotate(-30 507.40 33.70)"/>
<ellipse cx="509.00" cy="50.00" rx="3.90" ry="8.25" fill="#000" opacity="1" transform="rotate(10 509.00 50.00)"/>
<ellipse cx="502.60" cy="68.30" rx="5.70" ry="5.40" fill="#000" opacity="1" transform="rotate(0 502.60 68.30)"/>
<ellipse cx="481.50" cy="71.20" rx="8.40" ry="3.90" fill="#000" opacity="1" transform="rotate(-30 481.50 71.20)"/>
<ellipse cx="499.70" cy="84.60" rx="6.90" ry="7.20" fill="#000" opacity="1" transform="rotate(0 499.70 84.60)"/>
<ellipse cx="426.70" cy="90.40" rx="6.00" ry="4.80" fill="#000" opacity="1" transform="rotate(0 426.70 90.40)"/>
<ellipse cx="454.50" cy="71.20" rx="3.30" ry="3.30" fill="#000" opacity="1" transform="rotate(0 454.50 71.20)"/>
<ellipse cx="444.00" cy="74.60" rx="2.10" ry="2.85" fill="#000" opacity="1" transform="rotate(0 444.00 74.60)"/>
<ellipse cx="489.00" cy="60.00" rx="2.25" ry="1.80" fill="#000" opacity="1" transform="rotate(0 489.00 60.00)"/>
<ellipse cx="470.00" cy="52.00" rx="1.80" ry="1.80" fill="#000" opacity="1" transform="rotate(0 470.00 52.00)"/>
<ellipse cx="503.00" cy="93.00" rx="4.50" ry="3.00" fill="#000" opacity="1" transform="rotate(0 503.00 93.00)"/>
<ellipse cx="437.00" cy="40.00" rx="7.50" ry="12.00" fill="#000" opacity="1" transform="rotate(0 437.00 40.00)"/>
<ellipse cx="508.00" cy="42.00" rx="9.00" ry="18.00" fill="#000" opacity="1" transform="rotate(0 508.00 42.00)"/>
<ellipse cx="500.00" cy="78.00" rx="13.50" ry="18.00" fill="#000" opacity="1" transform="rotate(0 500.00 78.00)"/>
<ellipse cx="428.00" cy="88.00" rx="9.00" ry="7.50" fill="#000" opacity="1" transform="rotate(0 428.00 88.00)"/>
<ellipse cx="456.00" cy="72.00" rx="7.50" ry="6.00" fill="#000" opacity="1" transform="rotate(0 456.00 72.00)"/>
<ellipse cx="483.00" cy="70.00" rx="12.00" ry="7.50" fill="#000" opacity="1" transform="rotate(-20 483.00 70.00)"/>
<ellipse cx="470.00" cy="58.00" rx="4.50" ry="4.50" fill="#000" opacity="1" transform="rotate(0 470.00 58.00)"/>
<ellipse cx="447.00" cy="60.00" rx="4.50" ry="6.00" fill="#000" opacity="1" transform="rotate(0 447.00 60.00)"/>
</g>
<g filter="url(#rough)">
<ellipse cx="437.20" cy="35.60" rx="2.08" ry="3.04" fill="#6e3a8c" opacity="0.6" transform="rotate(10 437.20 35.60)"/>
<ellipse cx="436.30" cy="44.20" rx="1.44" ry="1.92" fill="#6e3a8c" opacity="0.6" transform="rotate(0 436.30 44.20)"/>
<ellipse cx="507.40" cy="33.70" rx="4.00" ry="3.68" fill="#6e3a8c" opacity="0.6" transform="rotate(-30 507.40 33.70)"/>
<ellipse cx="509.00" cy="50.00" rx="2.08" ry="4.40" fill="#6e3a8c" opacity="0.6" transform="rotate(10 509.00 50.00)"/>
<ellipse cx="502.60" cy="68.30" rx="3.04" ry="2.88" fill="#6e3a8c" opacity="0.6" transform="rotate(0 502.60 68.30)"/>
<ellipse cx="481.50" cy="71.20" rx="4.48" ry="2.08" fill="#6e3a8c" opacity="0.6" transform="rotate(-30 481.50 71.20)"/>
<ellipse cx="499.70" cy="84.60" rx="3.68" ry="3.84" fill="#6e3a8c" opacity="0.6" transform="rotate(0 499.70 84.60)"/>
<ellipse cx="426.70" cy="90.40" rx="3.20" ry="2.56" fill="#6e3a8c" opacity="0.6" transform="rotate(0 426.70 90.40)"/>
<ellipse cx="454.50" cy="71.20" rx="1.76" ry="1.76" fill="#6e3a8c" opacity="0.6" transform="rotate(0 454.50 71.20)"/>
<ellipse cx="444.00" cy="74.60" rx="1.12" ry="1.52" fill="#6e3a8c" opacity="0.6" transform="rotate(0 444.00 74.60)"/>
<ellipse cx="489.00" cy="60.00" rx="1.20" ry="0.96" fill="#6e3a8c" opacity="0.6" transform="rotate(0 489.00 60.00)"/>
<ellipse cx="470.00" cy="52.00" rx="0.96" ry="0.96" fill="#6e3a8c" opacity="0.6" transform="rotate(0 470.00 52.00)"/>
<ellipse cx="503.00" cy="93.00" rx="2.40" ry="1.60" fill="#6e3a8c" opacity="0.6" transform="rotate(0 503.00 93.00)"/>
</g>
<ellipse cx="457.40" cy="40.40" rx="2.00" ry="4.00" fill="#f6e6ee" opacity="0.95" transform="rotate(-10 457.40 40.40)" filter="url(#ib)"/>
<ellipse cx="459.50" cy="37.00" rx="1.60" ry="1.40" fill="#f6e6ee" opacity="0.95" transform="rotate(0 459.50 37.00)" filter="url(#ib)"/>
<ellipse cx="478.60" cy="38.10" rx="1.40" ry="1.90" fill="#f6e6ee" opacity="0.95" transform="rotate(0 478.60 38.10)" filter="url(#ib)"/>
<ellipse cx="440.70" cy="63.50" rx="1.30" ry="1.80" fill="#f6e6ee" opacity="0.95" transform="rotate(0 440.70 63.50)" filter="url(#ib)"/>
<ellipse cx="464.20" cy="85.60" rx="0.90" ry="3.40" fill="#f6e6ee" opacity="0.95" transform="rotate(30 464.20 85.60)" filter="url(#ib)"/>
<ellipse cx="485.30" cy="66.30" rx="2.80" ry="0.70" fill="#f6e6ee" opacity="0.95" transform="rotate(-25 485.30 66.30)" filter="url(#ib)"/>
<ellipse cx="459.30" cy="64.40" rx="1.00" ry="1.00" fill="#f6e6ee" opacity="0.95" transform="rotate(0 459.30 64.40)" filter="url(#ib)"/>
<ellipse cx="502.60" cy="68.30" rx="1.20" ry="1.00" fill="#f6e6ee" opacity="0.95" transform="rotate(0 502.60 68.30)" filter="url(#ib)"/>
<ellipse cx="497.00" cy="79.00" rx="1.50" ry="0.80" fill="#f6e6ee" opacity="0.95" transform="rotate(0 497.00 79.00)" filter="url(#ib)"/>
<ellipse cx="468.00" cy="47.00" rx="1.00" ry="0.80" fill="#f6e6ee" opacity="0.95" transform="rotate(0 468.00 47.00)" filter="url(#ib)"/>
<rect x="477.20" y="41.30" width="19.60" height="13.50" fill="none" stroke="#1a0a1a" stroke-width="0.9" />
</g>
</g>
<g clip-path="url(#cF3)">
<g filter="url(#fblur)">
<rect x="322.90" y="95.80" width="97.90" height="72.40" fill="#ea5a8a" stroke="none" stroke-width="0.7" />
<rect x="324.90" y="97.80" width="93.90" height="68.40" fill="#000" filter="url(#tV)" opacity="0.48"/>
<rect x="324.90" y="97.80" width="93.90" height="68.40" fill="#000" filter="url(#tD)" opacity="0.3"/>
<path d="M368.5,139.5 C365.5,135 367.5,129 373,128.3 C377,127.8 380.5,129.3 381,131.5 C378,130.6 374.5,131.5 373.5,134.5 C372.8,137 374.5,139.5 376.5,141 C373.5,142.2 370,141.5 368.5,139.5 Z" fill="#dfe6e2" filter="url(#ib)"/>
<ellipse cx="378.60" cy="132.20" rx="1.60" ry="1.20" fill="#f07a9a" opacity="1" transform="rotate(0 378.60 132.20)" filter="url(#ib)"/>
<ellipse cx="343.00" cy="129.00" rx="1.20" ry="0.80" fill="#f8c6da" opacity="1" transform="rotate(81.42831963176735 343.00 129.00)" filter="url(#ib)"/>
<ellipse cx="356.00" cy="112.00" rx="1.20" ry="0.80" fill="#f8c6da" opacity="1" transform="rotate(100.75902949448927 356.00 112.00)" filter="url(#ib)"/>
<ellipse cx="392.00" cy="118.00" rx="1.20" ry="0.80" fill="#f8c6da" opacity="1" transform="rotate(166.35790512427127 392.00 118.00)" filter="url(#ib)"/>
<ellipse cx="405.00" cy="140.00" rx="1.20" ry="0.80" fill="#f8c6da" opacity="1" transform="rotate(83.8170126179592 405.00 140.00)" filter="url(#ib)"/>
<ellipse cx="350.00" cy="150.00" rx="1.20" ry="0.80" fill="#f8c6da" opacity="1" transform="rotate(91.41142915120881 350.00 150.00)" filter="url(#ib)"/>
<ellipse cx="388.00" cy="152.00" rx="1.20" ry="0.80" fill="#f8c6da" opacity="1" transform="rotate(105.72926919298145 388.00 152.00)" filter="url(#ib)"/>
<ellipse cx="335.00" cy="110.00" rx="1.20" ry="0.80" fill="#f8c6da" opacity="1" transform="rotate(33.23886189387779 335.00 110.00)" filter="url(#ib)"/>
<ellipse cx="410.00" cy="108.00" rx="1.20" ry="0.80" fill="#f8c6da" opacity="1" transform="rotate(92.143555027525 410.00 108.00)" filter="url(#ib)"/>
<line x1="400.80" y1="163.40" x2="416.20" y2="163.40" stroke="#5a1030" stroke-width="1.1" />
</g>
</g>
<g clip-path="url(#cF4)">
<g filter="url(#fblur)">
<rect x="418.20" y="95.80" width="97.60" height="72.40" fill="#ec4459" stroke="none" stroke-width="0.7" />
<rect x="420.20" y="97.80" width="93.60" height="68.40" fill="#000" filter="url(#tW)" opacity="0.45"/>
<rect x="420.20" y="97.80" width="93.60" height="68.40" fill="#000" filter="url(#tD)" opacity="0.15"/>
<g filter="url(#rough)">
<ellipse cx="446.80" cy="105.60" rx="3.60" ry="2.40" fill="#8a3c96" opacity="0.7" transform="rotate(30 446.80 105.60)"/>
<ellipse cx="441.00" cy="120.00" rx="4.60" ry="2.80" fill="#8a3c96" opacity="0.7" transform="rotate(-35 441.00 120.00)"/>
<ellipse cx="446.00" cy="124.00" rx="2.00" ry="2.50" fill="#8a3c96" opacity="0.7" transform="rotate(0 446.00 124.00)"/>
<ellipse cx="473.80" cy="127.70" rx="4.00" ry="2.00" fill="#8a3c96" opacity="0.7" transform="rotate(-15 473.80 127.70)"/>
<ellipse cx="458.00" cy="128.00" rx="2.00" ry="1.20" fill="#8a3c96" opacity="0.7" transform="rotate(0 458.00 128.00)"/>
<ellipse cx="465.00" cy="160.00" rx="3.00" ry="2.00" fill="#8a3c96" opacity="0.7" transform="rotate(0 465.00 160.00)"/>
<ellipse cx="505.00" cy="120.00" rx="1.50" ry="2.00" fill="#8a3c96" opacity="0.7" transform="rotate(0 505.00 120.00)"/>
<ellipse cx="455.00" cy="140.00" rx="1.50" ry="1.50" fill="#8a3c96" opacity="0.7" transform="rotate(0 455.00 140.00)"/>
</g>
<circle cx="463.80" cy="134.60" r="3.70" fill="#8a3a8a" stroke="#f7c6d6" stroke-width="1.5" filter="url(#ib)"/>
</g>
</g>
<rect x="325.35" y="28.05" width="93.00" height="68.00" fill="none" stroke="#4a1028" stroke-width="0.9" />
<rect x="420.65" y="28.05" width="92.70" height="68.00" fill="none" stroke="#4a1028" stroke-width="0.9" />
<rect x="325.35" y="98.25" width="93.00" height="67.50" fill="none" stroke="#4a1028" stroke-width="0.9" />
<rect x="420.65" y="98.25" width="92.70" height="67.50" fill="none" stroke="#4a1028" stroke-width="0.9" />
<text transform="translate(305.40,197.60)" font-size="10.8" text-anchor="start" fill="#000" font-weight="bold" stroke="#000" stroke-width="0.22" >G</text>
<text transform="translate(360.50,204.70)" font-size="7.3" text-anchor="middle" fill="#231f20" stroke="#231f20" stroke-width="0.22" >Control<tspan font-size="8.76" dx="0.73">→</tspan><tspan dx="0.73">WT</tspan></text>
<text transform="translate(429.50,204.70)" font-size="7.3" text-anchor="middle" fill="#231f20" stroke="#231f20" stroke-width="0.22" ><tspan font-style="italic">Ehbp1l1</tspan><tspan font-style="italic" font-size="4.82" dy="-2.77">−/−</tspan><tspan font-size="8.76" dy="2.77" dx="2.19">→</tspan><tspan dx="0.88">WT</tspan></text>
<text transform="translate(323.20,240.10) rotate(-90)" font-size="7.2" text-anchor="middle" fill="none" stroke="none" stroke-width="0" letter-spacing="0.3"><tspan fill="#6cb84a">Ter119</tspan><tspan fill="#34487c">/DAPI</tspan></text>
<g clip-path="url(#cG1)">
<g filter="url(#gblur)">
<rect x="324.20" y="204.30" width="71.50" height="71.20" fill="#175a26" stroke="none" stroke-width="0.7" />
<rect x="326.20" y="206.30" width="67.50" height="67.20" fill="#000" filter="url(#gB)" opacity="0.3"/>
<rect x="326.20" y="206.30" width="67.50" height="67.20" fill="#000" filter="url(#gA)" opacity="0.9"/>
<rect x="326.20" y="206.30" width="67.50" height="67.20" fill="#000" filter="url(#gV)" opacity="0.7"/>
<ellipse cx="339.3" cy="219.5" rx="4.2" ry="3.9" fill="url(#nuc)" opacity="0.57"/>
<ellipse cx="348.7" cy="220.2" rx="3.8" ry="2.9" fill="url(#nuc)" opacity="0.75"/>
<ellipse cx="365.3" cy="210.1" rx="4.2" ry="3.2" fill="url(#nuc)" opacity="0.80"/>
<ellipse cx="388.4" cy="213.7" rx="4.6" ry="4.2" fill="url(#nuc)" opacity="0.70"/>
<ellipse cx="370.3" cy="221.6" rx="3.6" ry="2.7" fill="url(#nuc)" opacity="0.68"/>
<ellipse cx="385.5" cy="228.9" rx="3.5" ry="2.8" fill="url(#nuc)" opacity="0.61"/>
<ellipse cx="358.1" cy="226.7" rx="3.4" ry="3.0" fill="url(#nuc)" opacity="0.66"/>
<ellipse cx="335.0" cy="230.3" rx="4.4" ry="3.9" fill="url(#nuc)" opacity="0.71"/>
<ellipse cx="352.3" cy="231.0" rx="4.0" ry="3.7" fill="url(#nuc)" opacity="0.66"/>
<ellipse cx="340.0" cy="238.2" rx="3.7" ry="3.7" fill="url(#nuc)" opacity="0.80"/>
<ellipse cx="355.2" cy="243.3" rx="4.4" ry="4.1" fill="url(#nuc)" opacity="0.63"/>
<ellipse cx="368.2" cy="242.6" rx="3.7" ry="3.0" fill="url(#nuc)" opacity="0.57"/>
<ellipse cx="363.1" cy="248.3" rx="4.3" ry="3.7" fill="url(#nuc)" opacity="0.76"/>
<ellipse cx="379.0" cy="251.9" rx="3.9" ry="3.8" fill="url(#nuc)" opacity="0.76"/>
<ellipse cx="358.8" cy="255.6" rx="3.4" ry="2.7" fill="url(#nuc)" opacity="0.78"/>
<ellipse cx="370.3" cy="254.1" rx="4.0" ry="3.9" fill="url(#nuc)" opacity="0.65"/>
<ellipse cx="332.1" cy="257.7" rx="3.5" ry="3.2" fill="url(#nuc)" opacity="0.74"/>
<ellipse cx="343.6" cy="265.7" rx="3.7" ry="2.9" fill="url(#nuc)" opacity="0.63"/>
<ellipse cx="354.5" cy="266.4" rx="4.6" ry="4.3" fill="url(#nuc)" opacity="0.58"/>
<ellipse cx="366.7" cy="267.8" rx="3.7" ry="2.9" fill="url(#nuc)" opacity="0.56"/>
<ellipse cx="384.0" cy="267.8" rx="4.4" ry="3.5" fill="url(#nuc)" opacity="0.69"/>
<ellipse cx="389.1" cy="231.0" rx="3.9" ry="3.1" fill="url(#nuc)" opacity="0.73"/>
<ellipse cx="332.8" cy="221.6" rx="3.6" ry="3.2" fill="url(#nuc)" opacity="0.58"/>
<ellipse cx="346.5" cy="233.2" rx="3.9" ry="3.1" fill="url(#nuc)" opacity="0.62"/>
<ellipse cx="381.2" cy="238.2" rx="4.6" ry="4.3" fill="url(#nuc)" opacity="0.63"/>
<ellipse cx="330.7" cy="243.3" rx="4.5" ry="3.6" fill="url(#nuc)" opacity="0.65"/>
<ellipse cx="376.8" cy="260.6" rx="4.4" ry="4.0" fill="url(#nuc)" opacity="0.58"/>
<ellipse cx="337.9" cy="208.7" rx="4.6" ry="3.7" fill="url(#nuc)" opacity="0.61"/>
<ellipse cx="379.7" cy="221.6" rx="4.3" ry="3.6" fill="url(#nuc)" opacity="0.62"/>
<ellipse cx="326.3" cy="236.1" rx="3.5" ry="2.7" fill="url(#nuc)" opacity="0.70"/>
<ellipse cx="389.8" cy="247.6" rx="3.7" ry="3.3" fill="url(#nuc)" opacity="0.64"/>
<ellipse cx="348.0" cy="247.6" rx="3.9" ry="3.9" fill="url(#nuc)" opacity="0.67"/>
<circle cx="330.66" cy="212.99" r="1.60" fill="url(#gsp)" stroke="none" stroke-width="0.7" />
<circle cx="361.68" cy="216.59" r="1.60" fill="url(#gsp)" stroke="none" stroke-width="0.7" />
<circle cx="364.57" cy="220.20" r="1.60" fill="url(#gsp)" stroke="none" stroke-width="0.7" />
<circle cx="366.73" cy="238.24" r="1.60" fill="url(#gsp)" stroke="none" stroke-width="0.7" />
<circle cx="371.78" cy="231.02" r="1.60" fill="url(#gsp)" stroke="none" stroke-width="0.7" />
<circle cx="340.76" cy="254.11" r="1.60" fill="url(#gsp)" stroke="none" stroke-width="0.7" />
<circle cx="349.42" cy="257.72" r="1.60" fill="url(#gsp)" stroke="none" stroke-width="0.7" />
<circle cx="328.49" cy="249.06" r="1.60" fill="url(#gsp)" stroke="none" stroke-width="0.7" />
</g>
<line x1="383.80" y1="272.10" x2="391.90" y2="272.10" stroke="#e8e8f0" stroke-width="1.1" />
</g>
<g clip-path="url(#cG2)">
<g filter="url(#gblur)">
<rect x="393.40" y="204.30" width="72.10" height="71.20" fill="#175c28" stroke="none" stroke-width="0.7" />
<rect x="395.40" y="206.30" width="68.10" height="67.20" fill="#000" filter="url(#gB)" opacity="0.38"/>
<rect x="395.40" y="206.30" width="68.10" height="67.20" fill="#000" filter="url(#gA)" opacity="0.85"/>
<rect x="395.40" y="206.30" width="68.10" height="67.20" fill="#000" filter="url(#gV)" opacity="0.65"/>
<ellipse cx="436.00" cy="246.00" rx="7.00" ry="5.00" fill="#38c088" opacity="0.35" transform="rotate(0 436.00 246.00)" filter="url(#ib2)"/>
<ellipse cx="404.00" cy="236.00" rx="3.00" ry="7.00" fill="#38b080" opacity="0.25" transform="rotate(0 404.00 236.00)" filter="url(#ib2)"/>
<circle cx="424.5" cy="236.1" r="3.5" fill="url(#nuc2)" opacity="0.49"/>
<circle cx="447.8" cy="235.5" r="3.6" fill="url(#nuc2)" opacity="0.50"/>
<circle cx="435.9" cy="226.6" r="3.6" fill="url(#nuc2)" opacity="0.71"/>
<circle cx="444.0" cy="236.0" r="3.7" fill="url(#nuc2)" opacity="0.48"/>
<circle cx="454.4" cy="246.0" r="3.6" fill="url(#nuc2)" opacity="0.64"/>
<circle cx="436.4" cy="254.1" r="3.9" fill="url(#nuc2)" opacity="0.53"/>
<circle cx="442.0" cy="251.3" r="3.5" fill="url(#nuc2)" opacity="0.51"/>
<circle cx="424.2" cy="237.4" r="3.9" fill="url(#nuc2)" opacity="0.53"/>
<circle cx="441.1" cy="239.8" r="3.4" fill="url(#nuc2)" opacity="0.52"/>
<circle cx="434.7" cy="242.8" r="3.5" fill="url(#nuc2)" opacity="0.55"/>
<circle cx="433.7" cy="240.5" r="3.7" fill="url(#nuc2)" opacity="0.69"/>
<circle cx="447.2" cy="240.8" r="4.0" fill="url(#nuc2)" opacity="0.61"/>
<circle cx="438.2" cy="243.3" r="3.4" fill="url(#nuc2)" opacity="0.70"/>
<circle cx="431.6" cy="226.1" r="3.4" fill="url(#nuc2)" opacity="0.62"/>
<circle cx="425.7" cy="243.2" r="3.7" fill="url(#nuc2)" opacity="0.72"/>
<circle cx="444.8" cy="245.7" r="4.0" fill="url(#nuc2)" opacity="0.69"/>
<circle cx="436.1" cy="231.9" r="4.0" fill="url(#nuc2)" opacity="0.70"/>
<circle cx="430.6" cy="249.9" r="4.1" fill="url(#nuc2)" opacity="0.69"/>
<circle cx="426.3" cy="247.7" r="4.1" fill="url(#nuc2)" opacity="0.60"/>
<circle cx="432.1" cy="237.5" r="3.9" fill="url(#nuc2)" opacity="0.61"/>
<circle cx="445.8" cy="246.5" r="4.2" fill="url(#nuc2)" opacity="0.69"/>
<circle cx="436.1" cy="235.6" r="4.0" fill="url(#nuc2)" opacity="0.61"/>
<circle cx="424.6" cy="246.5" r="3.5" fill="url(#nuc2)" opacity="0.65"/>
<circle cx="446.3" cy="243.6" r="3.8" fill="url(#nuc2)" opacity="0.51"/>
<circle cx="434.4" cy="234.8" r="3.9" fill="url(#nuc2)" opacity="0.70"/>
<circle cx="437.0" cy="243.0" r="3.6" fill="url(#nuc2)" opacity="0.63"/>
<circle cx="402.4" cy="238.1" r="4.1" fill="url(#nuc2)" opacity="0.63"/>
<circle cx="397.1" cy="239.3" r="3.7" fill="url(#nuc2)" opacity="0.63"/>
<circle cx="402.8" cy="241.0" r="4.0" fill="url(#nuc2)" opacity="0.70"/>
<circle cx="403.8" cy="229.3" r="3.9" fill="url(#nuc2)" opacity="0.54"/>
<circle cx="403.9" cy="240.2" r="4.1" fill="url(#nuc2)" opacity="0.68"/>
<circle cx="400.5" cy="217.4" r="3.6" fill="url(#nuc2)" opacity="0.50"/>
<circle cx="400.1" cy="235.7" r="3.6" fill="url(#nuc2)" opacity="0.56"/>
<circle cx="399.9" cy="228.2" r="3.7" fill="url(#nuc2)" opacity="0.68"/>
<circle cx="404.7" cy="233.1" r="3.5" fill="url(#nuc2)" opacity="0.46"/>
<circle cx="441.4" cy="262.3" r="4.0" fill="url(#nuc2)" opacity="0.60"/>
<circle cx="435.5" cy="268.8" r="3.4" fill="url(#nuc2)" opacity="0.49"/>
<circle cx="438.5" cy="263.2" r="4.1" fill="url(#nuc2)" opacity="0.51"/>
<circle cx="441.4" cy="263.8" r="3.9" fill="url(#nuc2)" opacity="0.57"/>
<circle cx="433.0" cy="259.3" r="4.0" fill="url(#nuc2)" opacity="0.71"/>
<circle cx="438.1" cy="260.9" r="3.8" fill="url(#nuc2)" opacity="0.50"/>
<circle cx="447.9" cy="263.3" r="4.0" fill="url(#nuc2)" opacity="0.50"/>
<circle cx="439.1" cy="266.2" r="4.0" fill="url(#nuc2)" opacity="0.59"/>
<circle cx="431.2" cy="259.1" r="3.7" fill="url(#nuc2)" opacity="0.66"/>
<circle cx="442.5" cy="262.2" r="4.1" fill="url(#nuc2)" opacity="0.65"/>
<circle cx="458.8" cy="218.2" r="3.9" fill="url(#nuc2)" opacity="0.70"/>
<circle cx="450.4" cy="218.6" r="4.1" fill="url(#nuc2)" opacity="0.67"/>
<circle cx="460.2" cy="213.5" r="3.9" fill="url(#nuc2)" opacity="0.51"/>
<circle cx="453.4" cy="207.7" r="3.9" fill="url(#nuc2)" opacity="0.64"/>
<circle cx="457.5" cy="223.4" r="4.2" fill="url(#nuc2)" opacity="0.71"/>
<circle cx="404.7" cy="263.8" r="3.7" fill="url(#nuc2)" opacity="0.70"/>
<circle cx="418.4" cy="262.8" r="3.5" fill="url(#nuc2)" opacity="0.57"/>
<circle cx="405.2" cy="263.4" r="3.8" fill="url(#nuc2)" opacity="0.46"/>
<circle cx="415.8" cy="264.0" r="4.0" fill="url(#nuc2)" opacity="0.50"/>
<circle cx="456.2" cy="252.1" r="3.5" fill="url(#nuc2)" opacity="0.49"/>
<circle cx="454.8" cy="238.7" r="4.1" fill="url(#nuc2)" opacity="0.64"/>
<circle cx="460.2" cy="236.9" r="4.2" fill="url(#nuc2)" opacity="0.47"/>
<circle cx="458.4" cy="249.6" r="3.6" fill="url(#nuc2)" opacity="0.65"/>
<circle cx="405.3" cy="210.1" r="4.1" fill="url(#nuc2)" opacity="0.60"/>
<circle cx="407.8" cy="213.8" r="4.1" fill="url(#nuc2)" opacity="0.69"/>
<circle cx="413.0" cy="215.8" r="4.2" fill="url(#nuc2)" opacity="0.59"/>
<circle cx="423.02" cy="241.85" r="3.40" fill="url(#gsp)" stroke="none" stroke-width="0.7" />
<circle cx="435.29" cy="249.78" r="3.00" fill="url(#gsp)" stroke="none" stroke-width="0.7" />
<circle cx="406.43" cy="225.97" r="2.40" fill="url(#gsp)" stroke="none" stroke-width="0.7" />
<circle cx="425.19" cy="214.43" r="2.40" fill="url(#gsp)" stroke="none" stroke-width="0.7" />
<circle cx="407.15" cy="257.72" r="2.60" fill="url(#gsp)" stroke="none" stroke-width="0.7" />
<circle cx="461.26" cy="250.51" r="2.40" fill="url(#gsp)" stroke="none" stroke-width="0.7" />
<circle cx="439.62" cy="243.29" r="2.00" fill="url(#gsp)" stroke="none" stroke-width="0.7" />
</g>
</g>
<rect x="326.60" y="206.70" width="66.70" height="66.40" fill="none" stroke="#06140a" stroke-width="0.8" />
<rect x="395.80" y="206.70" width="67.30" height="66.40" fill="none" stroke="#06140a" stroke-width="0.8" />
<text transform="translate(305.20,305.60)" font-size="10.8" text-anchor="start" fill="#000" font-weight="bold" stroke="#000" stroke-width="0.22" >H</text>
<text transform="translate(371.50,312.60)" font-size="7.3" text-anchor="middle" fill="#231f20" stroke="#231f20" stroke-width="0.22" >Control<tspan font-size="8.76" dx="0.73">→</tspan><tspan dx="0.73">WT</tspan></text>
<text transform="translate(466.50,312.60)" font-size="7.3" text-anchor="middle" fill="#231f20" stroke="#231f20" stroke-width="0.22" ><tspan font-style="italic">Ehbp1l1</tspan><tspan font-style="italic" font-size="4.82" dy="-2.77">−/−</tspan><tspan font-size="8.76" dy="2.77" dx="2.19">→</tspan><tspan dx="0.88">WT</tspan></text>
<g clip-path="url(#cH1)">
<rect x="325.00" y="314.10" width="93.80" height="68.70" fill="#e0dfe4" stroke="none" stroke-width="0.7" />
<ellipse cx="335.1" cy="320.0" rx="4.2" ry="4.2" fill="url(#rbc)"/>
<ellipse cx="346.0" cy="318.1" rx="3.9" ry="3.9" fill="url(#rbc)"/>
<ellipse cx="357.6" cy="320.6" rx="4.1" ry="4.1" fill="url(#rbc)"/>
<ellipse cx="379.7" cy="318.7" rx="4.1" ry="4.1" fill="url(#rbc)"/>
<ellipse cx="394.1" cy="315.4" rx="4.2" ry="4.2" fill="url(#rbc)"/>
<ellipse cx="403.2" cy="321.9" rx="3.7" ry="3.7" fill="url(#rbc)"/>
<ellipse cx="416.2" cy="327.7" rx="4.5" ry="4.5" fill="url(#rbc)"/>
<ellipse cx="337.4" cy="329.2" rx="4.1" ry="4.1" fill="url(#rbc)"/>
<ellipse cx="349.5" cy="331.2" rx="4.0" ry="4.0" fill="url(#rbc)"/>
<ellipse cx="372.4" cy="330.2" rx="4.3" ry="4.3" fill="url(#rbc)"/>
<ellipse cx="387.4" cy="330.2" rx="4.2" ry="4.2" fill="url(#rbc)"/>
<ellipse cx="382.0" cy="335.0" rx="4.1" ry="4.1" fill="url(#rbc)"/>
<ellipse cx="410.5" cy="334.0" rx="4.3" ry="4.3" fill="url(#rbc)"/>
<ellipse cx="330.1" cy="339.8" rx="3.8" ry="3.8" fill="url(#rbc)"/>
<ellipse cx="338.3" cy="339.8" rx="4.1" ry="4.1" fill="url(#rbc)"/>
<ellipse cx="345.5" cy="338.8" rx="4.0" ry="4.0" fill="url(#rbc)"/>
<ellipse cx="368.2" cy="339.8" rx="4.5" ry="4.5" fill="url(#rbc)"/>
<ellipse cx="376.8" cy="340.8" rx="4.4" ry="4.4" fill="url(#rbc)"/>
<ellipse cx="385.5" cy="341.7" rx="3.9" ry="3.9" fill="url(#rbc)"/>
<ellipse cx="410.5" cy="340.8" rx="4.1" ry="4.1" fill="url(#rbc)"/>
<ellipse cx="417.6" cy="336.9" rx="3.8" ry="3.8" fill="url(#rbc)"/>
<ellipse cx="348.0" cy="346.5" rx="4.0" ry="4.0" fill="url(#rbc)"/>
<ellipse cx="361.4" cy="346.2" rx="4.4" ry="4.4" fill="url(#rbc)"/>
<ellipse cx="369.1" cy="349.4" rx="4.4" ry="4.4" fill="url(#rbc)"/>
<ellipse cx="385.5" cy="350.0" rx="4.1" ry="4.1" fill="url(#rbc)"/>
<ellipse cx="394.1" cy="348.5" rx="4.0" ry="4.0" fill="url(#rbc)"/>
<ellipse cx="402.8" cy="351.3" rx="3.9" ry="3.9" fill="url(#rbc)"/>
<ellipse cx="411.4" cy="351.3" rx="4.2" ry="4.2" fill="url(#rbc)"/>
<ellipse cx="337.4" cy="355.8" rx="4.4" ry="4.4" fill="url(#rbc)"/>
<ellipse cx="356.2" cy="356.5" rx="3.8" ry="3.8" fill="url(#rbc)"/>
<ellipse cx="364.3" cy="355.8" rx="4.3" ry="4.3" fill="url(#rbc)"/>
<ellipse cx="394.1" cy="357.1" rx="3.7" ry="3.7" fill="url(#rbc)"/>
<ellipse cx="402.8" cy="361.5" rx="3.9" ry="3.9" fill="url(#rbc)"/>
<ellipse cx="349.9" cy="361.0" rx="3.9" ry="3.9" fill="url(#rbc)"/>
<ellipse cx="375.8" cy="364.8" rx="4.2" ry="4.2" fill="url(#rbc)"/>
<ellipse cx="394.1" cy="364.4" rx="4.0" ry="4.0" fill="url(#rbc)"/>
<ellipse cx="336.4" cy="366.7" rx="4.0" ry="4.0" fill="url(#rbc)"/>
<ellipse cx="347.0" cy="371.2" rx="4.2" ry="4.2" fill="url(#rbc)"/>
<ellipse cx="328.7" cy="372.5" rx="3.8" ry="3.8" fill="url(#rbc)"/>
<ellipse cx="377.8" cy="375.4" rx="4.3" ry="4.3" fill="url(#rbc)"/>
<ellipse cx="358.5" cy="379.2" rx="3.8" ry="3.8" fill="url(#rbc)"/>
<ellipse cx="353.7" cy="340.8" rx="5.4" ry="3.8" fill="url(#rbcp)" transform="rotate(12 353.7 340.8)"/>
<ellipse cx="400.5" cy="338.5" rx="4.0" ry="4.0" fill="url(#rbcp)"/>
<ellipse cx="365.3" cy="326.3" rx="3.8" ry="3.8" fill="url(#rbcp)"/>
<ellipse cx="410.5" cy="318.7" rx="3.8" ry="4.2" fill="url(#rbcp)"/>
<ellipse cx="390.3" cy="324.4" rx="4.2" ry="4.2" fill="url(#rbcp)"/>
<circle cx="342.77" cy="350.00" r="2.00" fill="#b070a8" stroke="none" stroke-width="0.7" opacity="0.6"/>
<ellipse cx="417.4" cy="358.2" rx="5.0" ry="5.0" fill="url(#rbcv)"/>
<circle cx="395.08" cy="328.85" r="0.70" fill="#a080b0" stroke="none" stroke-width="0.7" />
<circle cx="409.50" cy="371.54" r="0.70" fill="#a080b0" stroke="none" stroke-width="0.7" />
<line x1="404.20" y1="380.00" x2="416.20" y2="380.00" stroke="#222" stroke-width="1.0" />
</g>
<g clip-path="url(#cH2)">
<rect x="419.80" y="314.10" width="94.00" height="68.70" fill="#e0e0e3" stroke="none" stroke-width="0.7" />
<ellipse cx="451.6" cy="322.3" rx="3.7" ry="3.7" fill="url(#rbc)"/>
<ellipse cx="459.6" cy="322.3" rx="3.5" ry="3.5" fill="url(#rbc)"/>
<ellipse cx="472.4" cy="320.9" rx="3.4" ry="3.4" fill="url(#rbc)"/>
<ellipse cx="489.3" cy="325.8" rx="3.7" ry="3.7" fill="url(#rbc)"/>
<ellipse cx="498.2" cy="322.3" rx="3.6" ry="3.6" fill="url(#rbc)"/>
<ellipse cx="508.1" cy="318.9" rx="3.6" ry="3.6" fill="url(#rbc)"/>
<ellipse cx="435.8" cy="328.2" rx="3.6" ry="3.6" fill="url(#rbc)"/>
<ellipse cx="463.5" cy="332.8" rx="3.7" ry="3.7" fill="url(#rbc)"/>
<ellipse cx="470.8" cy="334.8" rx="3.4" ry="3.4" fill="url(#rbc)"/>
<ellipse cx="478.4" cy="332.8" rx="3.4" ry="3.4" fill="url(#rbc)"/>
<ellipse cx="507.1" cy="325.8" rx="3.7" ry="3.7" fill="url(#rbc)"/>
<ellipse cx="513.4" cy="331.4" rx="3.7" ry="3.7" fill="url(#rbc)"/>
<ellipse cx="492.2" cy="337.7" rx="3.7" ry="3.7" fill="url(#rbc)"/>
<ellipse cx="502.1" cy="336.7" rx="3.9" ry="3.9" fill="url(#rbc)"/>
<ellipse cx="436.8" cy="338.7" rx="3.7" ry="3.7" fill="url(#rbc)"/>
<ellipse cx="444.7" cy="338.7" rx="3.9" ry="3.9" fill="url(#rbc)"/>
<ellipse cx="455.6" cy="339.7" rx="3.5" ry="3.5" fill="url(#rbc)"/>
<ellipse cx="480.3" cy="340.7" rx="3.8" ry="3.8" fill="url(#rbc)"/>
<ellipse cx="486.3" cy="345.6" rx="3.9" ry="3.9" fill="url(#rbc)"/>
<ellipse cx="511.0" cy="340.7" rx="3.9" ry="3.9" fill="url(#rbc)"/>
<ellipse cx="456.2" cy="345.6" rx="3.5" ry="3.5" fill="url(#rbc)"/>
<ellipse cx="462.5" cy="349.6" rx="3.5" ry="3.5" fill="url(#rbc)"/>
<ellipse cx="478.4" cy="351.6" rx="3.9" ry="3.9" fill="url(#rbc)"/>
<ellipse cx="486.3" cy="354.6" rx="3.5" ry="3.5" fill="url(#rbc)"/>
<ellipse cx="455.6" cy="352.6" rx="4.0" ry="4.0" fill="url(#rbc)"/>
<ellipse cx="431.8" cy="351.6" rx="3.9" ry="3.9" fill="url(#rbc)"/>
<ellipse cx="511.0" cy="347.6" rx="3.4" ry="3.4" fill="url(#rbc)"/>
<ellipse cx="425.9" cy="358.5" rx="3.5" ry="3.5" fill="url(#rbc)"/>
<ellipse cx="438.8" cy="356.5" rx="3.8" ry="3.8" fill="url(#rbc)"/>
<ellipse cx="447.7" cy="354.6" rx="3.5" ry="3.5" fill="url(#rbc)"/>
<ellipse cx="432.8" cy="362.5" rx="3.4" ry="3.4" fill="url(#rbc)"/>
<ellipse cx="462.5" cy="358.5" rx="3.9" ry="3.9" fill="url(#rbc)"/>
<ellipse cx="484.3" cy="363.5" rx="3.6" ry="3.6" fill="url(#rbc)"/>
<ellipse cx="496.2" cy="360.5" rx="3.9" ry="3.9" fill="url(#rbc)"/>
<ellipse cx="425.9" cy="365.4" rx="3.4" ry="3.4" fill="url(#rbc)"/>
<ellipse cx="444.7" cy="367.4" rx="3.6" ry="3.6" fill="url(#rbc)"/>
<ellipse cx="452.6" cy="369.4" rx="3.8" ry="3.8" fill="url(#rbc)"/>
<ellipse cx="474.4" cy="367.8" rx="3.3" ry="3.3" fill="url(#rbc)"/>
<ellipse cx="491.2" cy="367.4" rx="3.4" ry="3.4" fill="url(#rbc)"/>
<ellipse cx="480.3" cy="372.4" rx="3.8" ry="3.8" fill="url(#rbc)"/>
<ellipse cx="506.1" cy="371.4" rx="3.9" ry="3.9" fill="url(#rbc)"/>
<ellipse cx="512.4" cy="375.7" rx="4.0" ry="4.0" fill="url(#rbc)"/>
<ellipse cx="426.9" cy="373.8" rx="3.4" ry="3.4" fill="url(#rbc)"/>
<ellipse cx="438.8" cy="373.4" rx="3.7" ry="3.7" fill="url(#rbc)"/>
<ellipse cx="450.6" cy="376.9" rx="3.8" ry="3.8" fill="url(#rbc)"/>
<ellipse cx="457.6" cy="375.3" rx="3.7" ry="3.7" fill="url(#rbc)"/>
<ellipse cx="491.2" cy="376.3" rx="3.8" ry="3.8" fill="url(#rbc)"/>
<ellipse cx="502.1" cy="377.3" rx="3.4" ry="3.4" fill="url(#rbc)"/>
<ellipse cx="508.1" cy="380.7" rx="3.3" ry="3.3" fill="url(#rbc)"/>
<ellipse cx="420.9" cy="321.9" rx="3.4" ry="3.4" fill="url(#rbc)"/>
<ellipse cx="420.5" cy="343.7" rx="3.3" ry="3.3" fill="url(#rbc)"/>
<ellipse cx="514.0" cy="359.5" rx="3.7" ry="3.7" fill="url(#rbc)"/>
<ellipse cx="464.5" cy="379.3" rx="3.7" ry="3.7" fill="url(#rbc)"/>
<ellipse cx="434.8" cy="379.7" rx="3.7" ry="3.7" fill="url(#rbc)"/>
<ellipse cx="428.9" cy="328.2" rx="2.8" ry="2.0" fill="url(#rbcp)" transform="rotate(-30 428.9 328.2)"/>
<ellipse cx="455.6" cy="329.8" rx="4.4" ry="3.2" fill="url(#rbcp)" transform="rotate(10 455.6 329.8)"/>
<ellipse cx="496.2" cy="330.8" rx="3.8" ry="2.8" fill="url(#rbcp)" transform="rotate(-10 496.2 330.8)"/>
<ellipse cx="465.9" cy="342.7" rx="3.4" ry="2.4" fill="url(#rbcp)" transform="rotate(-20 465.9 342.7)"/>
<ellipse cx="469.5" cy="351.6" rx="3.0" ry="2.2" fill="url(#rbcp)" transform="rotate(20 469.5 351.6)"/>
<ellipse cx="471.4" cy="361.1" rx="4.4" ry="3.0" fill="url(#rbcp)" transform="rotate(10 471.4 361.1)"/>
<ellipse cx="436.8" cy="367.4" rx="2.8" ry="2.0" fill="url(#rbcp)" transform="rotate(20 436.8 367.4)"/>
<ellipse cx="465.5" cy="368.4" rx="3.4" ry="4.2" fill="url(#rbcp)"/>
<ellipse cx="498.2" cy="371.4" rx="3.8" ry="3.4" fill="url(#rbcp)"/>
<ellipse cx="437.8" cy="346.6" rx="2.6" ry="1.8" fill="url(#rbcp)" transform="rotate(-20 437.8 346.6)"/>
<ellipse cx="472.4" cy="378.3" rx="2.8" ry="2.0" fill="url(#rbcp)"/>
<ellipse cx="503.1" cy="342.7" rx="3.6" ry="2.6" fill="url(#rbcp)" transform="rotate(-30 503.1 342.7)"/>
<ellipse cx="447.7" cy="346.6" rx="3.8" ry="2.9" fill="url(#rbcp)"/>
<ellipse cx="447.7" cy="346.6" rx="3.0" ry="2.3" fill="#9a6ab8" fill-opacity="0.35" stroke="#8a58b0" stroke-width="0.9" opacity="0.85"/>
<ellipse cx="451.6" cy="361.9" rx="3.8" ry="3.2" fill="url(#rbcp)"/>
<ellipse cx="451.6" cy="361.9" rx="3.0" ry="2.6" fill="#9a6ab8" fill-opacity="0.35" stroke="#8a58b0" stroke-width="0.9" opacity="0.85"/>
<ellipse cx="504.5" cy="344.1" rx="3.0" ry="2.2" fill="url(#rbcp)"/>
<ellipse cx="504.5" cy="344.1" rx="2.4" ry="1.8" fill="#9a6ab8" fill-opacity="0.35" stroke="#8a58b0" stroke-width="0.9" opacity="0.85"/>
<ellipse cx="437.00" cy="317.30" rx="5.00" ry="1.80" fill="#9a5ab0" opacity="0.75" transform="rotate(0 437.00 317.30)" filter="url(#ib)"/>
<ellipse cx="431.00" cy="321.00" rx="2.00" ry="2.50" fill="#a878c0" opacity="0.5" transform="rotate(0 431.00 321.00)" filter="url(#ib)"/>
<ellipse cx="489.30" cy="316.60" rx="2.70" ry="2.70" fill="#5a4ab0" opacity="0.95" transform="rotate(0 489.30 316.60)" filter="url(#ib)"/>
<ellipse cx="420.80" cy="353.00" rx="2.00" ry="6.00" fill="#9a5ab0" opacity="0.8" transform="rotate(0 420.80 353.00)" filter="url(#ib)"/>
<ellipse cx="421.00" cy="362.00" rx="1.60" ry="3.00" fill="#a070b8" opacity="0.6" transform="rotate(0 421.00 362.00)" filter="url(#ib)"/>
<ellipse cx="427.00" cy="381.50" rx="3.50" ry="2.20" fill="#9a6ab8" opacity="0.7" transform="rotate(0 427.00 381.50)" filter="url(#ib)"/>
<line x1="427.87" y1="339.31" x2="427.87" y2="335.77" stroke="#111" stroke-width="0.9" />
<path d="M427.87,333.37 L429.17,335.77 L426.57,335.77 Z" fill="#111" stroke="none" stroke-width="0.7" />
<line x1="486.68" y1="332.77" x2="490.82" y2="332.77" stroke="#111" stroke-width="0.9" />
<path d="M493.22,332.77 L490.82,334.07 L490.82,331.47 Z" fill="#111" stroke="none" stroke-width="0.7" />
<line x1="477.97" y1="341.68" x2="472.85" y2="341.68" stroke="#111" stroke-width="0.9" />
<path d="M470.45,341.68 L472.85,340.38 L472.85,342.98 Z" fill="#111" stroke="none" stroke-width="0.7" />
<line x1="479.36" y1="344.06" x2="475.46" y2="347.28" stroke="#111" stroke-width="0.9" />
<path d="M473.61,348.81 L474.63,346.28 L476.29,348.28 Z" fill="#111" stroke="none" stroke-width="0.7" />
<line x1="439.16" y1="378.91" x2="443.29" y2="378.91" stroke="#111" stroke-width="0.9" />
<path d="M445.69,378.91 L443.29,380.21 L443.29,377.61 Z" fill="#111" stroke="none" stroke-width="0.7" />
<line x1="483.32" y1="377.72" x2="479.17" y2="378.10" stroke="#111" stroke-width="0.9" />
<path d="M476.78,378.32 L479.05,376.80 L479.29,379.39 Z" fill="#111" stroke="none" stroke-width="0.7" />
</g>
<rect x="325.60" y="314.70" width="92.60" height="67.50" fill="none" stroke="#3c3c40" stroke-width="1.2" />
<rect x="420.40" y="314.70" width="92.80" height="67.50" fill="none" stroke="#3c3c40" stroke-width="1.2" />
<text transform="translate(305.20,418.20)" font-size="10.8" text-anchor="start" fill="#000" font-weight="bold" stroke="#000" stroke-width="0.22" >K</text>
<text transform="translate(372.00,425.30)" font-size="7.3" text-anchor="middle" fill="#231f20" stroke="#231f20" stroke-width="0.22" >Control<tspan font-size="8.76" dx="0.73">→</tspan><tspan dx="0.73">WT</tspan></text>
<text transform="translate(467.50,425.30)" font-size="7.3" text-anchor="middle" fill="#231f20" stroke="#231f20" stroke-width="0.22" ><tspan font-style="italic">Ehbp1l1</tspan><tspan font-style="italic" font-size="4.82" dy="-2.77">−/−</tspan><tspan font-size="8.76" dy="2.77" dx="2.19">→</tspan><tspan dx="0.88">WT</tspan></text>
<text transform="translate(320.90,533.90) rotate(-90)" font-size="7.1" text-anchor="middle" fill="#231f20" stroke="#231f20" stroke-width="0.22" >Enlarged</text>
<rect x="325.40" y="429.80" width="188.40" height="137.90" fill="#8e8088" stroke="none" stroke-width="0.7" />
<g clip-path="url(#cK1)">
<g filter="url(#fblur)">
<rect x="323.40" y="427.80" width="97.40" height="72.70" fill="#e482a6" stroke="none" stroke-width="0.7" />
<rect x="325.40" y="429.80" width="93.40" height="68.70" fill="#000" filter="url(#kA)" opacity="0.3"/>
<rect x="325.40" y="429.80" width="93.40" height="68.70" fill="#000" filter="url(#kB)" opacity="0.25"/>
<ellipse cx="360.10" cy="483.70" rx="1.30" ry="3.80" fill="#dfe2e0" opacity="1" transform="rotate(8 360.10 483.70)" filter="url(#ib)"/>
<ellipse cx="384.50" cy="477.30" rx="2.40" ry="1.30" fill="#f6f0f2" opacity="1" transform="rotate(-15 384.50 477.30)" filter="url(#ib)"/>
<ellipse cx="329.30" cy="460.00" rx="2.00" ry="1.30" fill="#f2e8ec" opacity="1" transform="rotate(-20 329.30 460.00)" filter="url(#ib)"/>
<ellipse cx="377.80" cy="486.50" rx="1.00" ry="0.80" fill="#f6f0f2" opacity="1" transform="rotate(0 377.80 486.50)" filter="url(#ib)"/>
<ellipse cx="416.20" cy="487.50" rx="1.20" ry="0.90" fill="#f6f0f2" opacity="1" transform="rotate(0 416.20 487.50)" filter="url(#ib)"/>
<ellipse cx="396.00" cy="465.50" rx="1.20" ry="0.70" fill="#f2e0e8" opacity="1" transform="rotate(0 396.00 465.50)" filter="url(#ib)"/>
<ellipse cx="351.20" cy="450.00" rx="1.00" ry="1.00" fill="#a02848" opacity="0.9" transform="rotate(0 351.20 450.00)" filter="url(#ib)"/>
<ellipse cx="382.60" cy="451.90" rx="1.00" ry="1.00" fill="#a02848" opacity="0.9" transform="rotate(0 382.60 451.90)" filter="url(#ib)"/>
<ellipse cx="334.50" cy="441.30" rx="1.00" ry="1.00" fill="#a02848" opacity="0.9" transform="rotate(0 334.50 441.30)" filter="url(#ib)"/>
<ellipse cx="401.80" cy="460.00" rx="1.00" ry="1.00" fill="#a02848" opacity="0.9" transform="rotate(0 401.80 460.00)" filter="url(#ib)"/>
<ellipse cx="383.00" cy="432.00" rx="1.00" ry="1.00" fill="#a02848" opacity="0.9" transform="rotate(0 383.00 432.00)" filter="url(#ib)"/>
<path d="M372.4,431.7 L373,440 L373.6,448" stroke="#8a3050" stroke-width="0.5" fill="none" opacity="0.7"/>
<rect x="366.20" y="469.20" width="27.90" height="18.90" fill="none" stroke="#2a0a1a" stroke-width="0.9" />
<line x1="402.40" y1="496.40" x2="415.30" y2="496.40" stroke="#5a1030" stroke-width="1.0" />
</g>
</g>
<g clip-path="url(#cK2)">
<g filter="url(#fblur)">
<rect x="418.60" y="427.80" width="97.20" height="72.70" fill="#ca4686" stroke="none" stroke-width="0.7" />
<ellipse cx="466.00" cy="442.30" rx="12.65" ry="8.62" fill="#9078b4" opacity="0.5" transform="rotate(0 466.00 442.30)" filter="url(#ib2)"/>
<ellipse cx="495.00" cy="459.60" rx="11.50" ry="11.50" fill="#9078b4" opacity="0.5" transform="rotate(20 495.00 459.60)" filter="url(#ib2)"/>
<ellipse cx="468.00" cy="471.00" rx="14.95" ry="8.62" fill="#9078b4" opacity="0.5" transform="rotate(10 468.00 471.00)" filter="url(#ib2)"/>
<ellipse cx="437.00" cy="473.00" rx="9.20" ry="13.80" fill="#9078b4" opacity="0.5" transform="rotate(10 437.00 473.00)" filter="url(#ib2)"/>
<ellipse cx="502.60" cy="484.60" rx="9.20" ry="6.32" fill="#9078b4" opacity="0.5" transform="rotate(0 502.60 484.60)" filter="url(#ib2)"/>
<ellipse cx="450.00" cy="455.00" rx="8.05" ry="6.32" fill="#9078b4" opacity="0.5" transform="rotate(0 450.00 455.00)" filter="url(#ib2)"/>
<ellipse cx="483.00" cy="448.00" rx="8.05" ry="6.32" fill="#9078b4" opacity="0.5" transform="rotate(0 483.00 448.00)" filter="url(#ib2)"/>
<ellipse cx="447.00" cy="489.00" rx="8.05" ry="4.60" fill="#9078b4" opacity="0.5" transform="rotate(0 447.00 489.00)" filter="url(#ib2)"/>
<ellipse cx="475.00" cy="486.00" rx="9.20" ry="4.60" fill="#9078b4" opacity="0.5" transform="rotate(0 475.00 486.00)" filter="url(#ib2)"/>
<ellipse cx="500.00" cy="440.00" rx="6.90" ry="5.75" fill="#9078b4" opacity="0.5" transform="rotate(0 500.00 440.00)" filter="url(#ib2)"/>
<ellipse cx="430.00" cy="450.00" rx="4.60" ry="5.75" fill="#9078b4" opacity="0.5" transform="rotate(0 430.00 450.00)" filter="url(#ib2)"/>
<g filter="url(#kC)" opacity="0.85">
<ellipse cx="466.00" cy="442.30" rx="12.65" ry="8.62" fill="#000" opacity="1" transform="rotate(0 466.00 442.30)"/>
<ellipse cx="495.00" cy="459.60" rx="11.50" ry="11.50" fill="#000" opacity="1" transform="rotate(20 495.00 459.60)"/>
<ellipse cx="468.00" cy="471.00" rx="14.95" ry="8.62" fill="#000" opacity="1" transform="rotate(10 468.00 471.00)"/>
<ellipse cx="437.00" cy="473.00" rx="9.20" ry="13.80" fill="#000" opacity="1" transform="rotate(10 437.00 473.00)"/>
<ellipse cx="502.60" cy="484.60" rx="9.20" ry="6.32" fill="#000" opacity="1" transform="rotate(0 502.60 484.60)"/>
<ellipse cx="450.00" cy="455.00" rx="8.05" ry="6.32" fill="#000" opacity="1" transform="rotate(0 450.00 455.00)"/>
<ellipse cx="483.00" cy="448.00" rx="8.05" ry="6.32" fill="#000" opacity="1" transform="rotate(0 483.00 448.00)"/>
<ellipse cx="447.00" cy="489.00" rx="8.05" ry="4.60" fill="#000" opacity="1" transform="rotate(0 447.00 489.00)"/>
<ellipse cx="475.00" cy="486.00" rx="9.20" ry="4.60" fill="#000" opacity="1" transform="rotate(0 475.00 486.00)"/>
<ellipse cx="500.00" cy="440.00" rx="6.90" ry="5.75" fill="#000" opacity="1" transform="rotate(0 500.00 440.00)"/>
<ellipse cx="430.00" cy="450.00" rx="4.60" ry="5.75" fill="#000" opacity="1" transform="rotate(0 430.00 450.00)"/>
</g>
<rect x="420.60" y="429.80" width="93.20" height="68.70" fill="#000" filter="url(#kK)" opacity="0.55"/>
<rect x="420.60" y="429.80" width="93.20" height="68.70" fill="#000" filter="url(#kL)" opacity="0.6"/>
<rect x="420.60" y="429.80" width="93.20" height="68.70" fill="#000" filter="url(#kD)" opacity="0.4"/>
<rect x="420.60" y="429.80" width="93.20" height="68.70" fill="#000" filter="url(#kE)" opacity="0.3"/>
<path d="M420.60,429.80 L433.00,429.80 L427.00,434.00 L420.60,443.00 Z" fill="#d8d4d8" stroke="none" stroke-width="0.7" filter="url(#ib)"/>
<ellipse cx="441.00" cy="466.00" rx="1.20" ry="0.80" fill="#f4e4ee" opacity="1" transform="rotate(26.379867897352597 441.00 466.00)" filter="url(#ib)"/>
<ellipse cx="470.00" cy="474.00" rx="1.20" ry="0.80" fill="#f4e4ee" opacity="1" transform="rotate(33.21653292097493 470.00 474.00)" filter="url(#ib)"/>
<ellipse cx="473.00" cy="468.00" rx="1.20" ry="0.80" fill="#f4e4ee" opacity="1" transform="rotate(36.70452319866788 473.00 468.00)" filter="url(#ib)"/>
<ellipse cx="463.00" cy="477.00" rx="1.20" ry="0.80" fill="#f4e4ee" opacity="1" transform="rotate(151.2385723623999 463.00 477.00)" filter="url(#ib)"/>
<ellipse cx="489.00" cy="452.00" rx="1.20" ry="0.80" fill="#f4e4ee" opacity="1" transform="rotate(178.25424843249468 489.00 452.00)" filter="url(#ib)"/>
<ellipse cx="444.00" cy="470.00" rx="1.20" ry="0.80" fill="#f4e4ee" opacity="1" transform="rotate(166.8406167710484 444.00 470.00)" filter="url(#ib)"/>
<ellipse cx="439.00" cy="462.00" rx="1.20" ry="0.80" fill="#f4e4ee" opacity="1" transform="rotate(17.144356253446468 439.00 462.00)" filter="url(#ib)"/>
<ellipse cx="490.00" cy="493.00" rx="2.20" ry="1.00" fill="#c81848" opacity="1" transform="rotate(-20 490.00 493.00)" filter="url(#ib)"/>
<ellipse cx="463.00" cy="494.00" rx="1.50" ry="1.00" fill="#d02050" opacity="1" transform="rotate(0 463.00 494.00)" filter="url(#ib)"/>
<ellipse cx="507.00" cy="470.00" rx="1.50" ry="2.50" fill="#d02058" opacity="0.8" transform="rotate(0 507.00 470.00)" filter="url(#ib)"/>
<rect x="454.90" y="460.60" width="28.10" height="18.60" fill="none" stroke="#1a0a1a" stroke-width="0.9" />
</g>
</g>
<g clip-path="url(#cK3)">
<g filter="url(#fblur)">
<rect x="323.40" y="497.80" width="97.40" height="71.90" fill="#ec84a2" stroke="none" stroke-width="0.7" />
<rect x="325.40" y="499.80" width="93.40" height="67.90" fill="#000" filter="url(#kF)" opacity="0.85"/>
<rect x="325.40" y="499.80" width="93.40" height="67.90" fill="#000" filter="url(#kG)" opacity="0.7"/>
<path d="M383,537 C384,533 389,531.5 393,532 C398,532 403,534.5 402.5,537.5 C402,540.5 396,541 391,540.8 C386.5,541 382.5,540 383,537 Z" fill="#c3c8c4" filter="url(#ib)"/>
<ellipse cx="367.20" cy="565.00" rx="3.00" ry="3.40" fill="#c8ccc8" opacity="1" transform="rotate(0 367.20 565.00)" filter="url(#ib)"/>
<line x1="401.80" y1="565.40" x2="415.30" y2="565.40" stroke="#3a0a20" stroke-width="1.0" />
</g>
</g>
<g clip-path="url(#cK4)">
<g filter="url(#fblur)">
<rect x="418.60" y="497.80" width="97.20" height="71.90" fill="#dc6c9e" stroke="none" stroke-width="0.7" />
<rect x="420.60" y="499.80" width="93.20" height="67.90" fill="#000" filter="url(#kI2)" opacity="0.8"/>
<rect x="420.60" y="499.80" width="93.20" height="49.90" fill="#000" filter="url(#kI)" opacity="1.0"/>
<g filter="url(#kH)" opacity="0.95">
<ellipse cx="478.00" cy="509.00" rx="15.40" ry="7.70" fill="#000" opacity="1" transform="rotate(-20 478.00 509.00)"/>
<ellipse cx="455.00" cy="524.00" rx="16.50" ry="8.80" fill="#000" opacity="1" transform="rotate(15 455.00 524.00)"/>
<ellipse cx="438.00" cy="522.00" rx="8.80" ry="9.90" fill="#000" opacity="1" transform="rotate(0 438.00 522.00)"/>
<ellipse cx="482.00" cy="536.00" rx="9.90" ry="8.80" fill="#000" opacity="1" transform="rotate(30 482.00 536.00)"/>
<ellipse cx="430.00" cy="540.00" rx="6.60" ry="9.90" fill="#000" opacity="1" transform="rotate(0 430.00 540.00)"/>
<ellipse cx="500.00" cy="515.00" rx="7.70" ry="6.60" fill="#000" opacity="1" transform="rotate(0 500.00 515.00)"/>
<ellipse cx="462.00" cy="512.00" rx="8.80" ry="6.60" fill="#000" opacity="1" transform="rotate(0 462.00 512.00)"/>
<ellipse cx="447.00" cy="507.00" rx="6.60" ry="4.40" fill="#000" opacity="1" transform="rotate(0 447.00 507.00)"/>
<ellipse cx="490.00" cy="527.00" rx="6.60" ry="5.50" fill="#000" opacity="1" transform="rotate(0 490.00 527.00)"/>
</g>
<rect x="420.60" y="499.80" width="93.20" height="67.90" fill="#000" filter="url(#kJ)" opacity="0.8"/>
<ellipse cx="443.00" cy="517.20" rx="1.80" ry="3.60" fill="#c4c8cc" opacity="1" transform="rotate(0 443.00 517.20)" filter="url(#ib)"/>
<ellipse cx="486.30" cy="542.20" rx="3.00" ry="6.50" fill="#c2c8c8" opacity="1" transform="rotate(8 486.30 542.20)" filter="url(#ib)"/>
<ellipse cx="489.00" cy="553.00" rx="2.00" ry="3.00" fill="#d0d0d4" opacity="1" transform="rotate(-30 489.00 553.00)" filter="url(#ib)"/>
</g>
</g>
<rect x="325.85" y="430.25" width="92.50" height="67.80" fill="none" stroke="#3a1024" stroke-width="0.9" />
<rect x="421.05" y="430.25" width="92.30" height="67.80" fill="none" stroke="#3a1024" stroke-width="0.9" />
<rect x="325.85" y="500.25" width="92.50" height="67.00" fill="none" stroke="#3a1024" stroke-width="0.9" />
<rect x="421.05" y="500.25" width="92.30" height="67.00" fill="none" stroke="#3a1024" stroke-width="0.9" />
<rect x="0.5" y="0.5" width="519" height="587" fill="none" stroke="#666" stroke-width="1"/>
</svg>
</body></html>
